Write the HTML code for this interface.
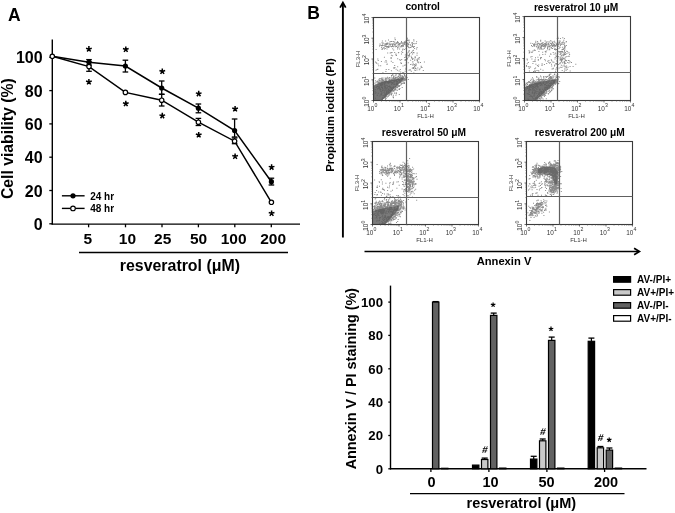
<!DOCTYPE html>
<html><head><meta charset="utf-8"><style>
html,body{margin:0;padding:0;background:#fff;width:675px;height:513px;overflow:hidden}
svg{display:block;font-family:"Liberation Sans", sans-serif;will-change:transform}
</style></head><body>
<svg width="675" height="513" viewBox="0 0 675 513">
<defs><filter id="soft" x="-5%" y="-5%" width="110%" height="110%"><feGaussianBlur stdDeviation="0.35"/></filter></defs>
<rect width="675" height="513" fill="#fff"/>
<text x="8" y="20.7" font-size="17.5" font-weight="bold" text-anchor="start" fill="#000" >A</text>
<line x1="52.3" y1="39.4" x2="52.3" y2="224.6" stroke="#000" stroke-width="1.4"/>
<line x1="51.6" y1="224.1" x2="300" y2="224.1" stroke="#000" stroke-width="1.4"/>
<line x1="49.3" y1="223.8" x2="52.3" y2="223.8" stroke="#000" stroke-width="1.3"/>
<text x="42.6" y="229.9" font-size="16" font-weight="bold" text-anchor="end" fill="#000" >0</text>
<line x1="49.3" y1="190.5" x2="52.3" y2="190.5" stroke="#000" stroke-width="1.3"/>
<text x="42.6" y="196.6" font-size="16" font-weight="bold" text-anchor="end" fill="#000" >20</text>
<line x1="49.3" y1="157.2" x2="52.3" y2="157.2" stroke="#000" stroke-width="1.3"/>
<text x="42.6" y="163.3" font-size="16" font-weight="bold" text-anchor="end" fill="#000" >40</text>
<line x1="49.3" y1="123.9" x2="52.3" y2="123.9" stroke="#000" stroke-width="1.3"/>
<text x="42.6" y="130" font-size="16" font-weight="bold" text-anchor="end" fill="#000" >60</text>
<line x1="49.3" y1="90.6" x2="52.3" y2="90.6" stroke="#000" stroke-width="1.3"/>
<text x="42.6" y="96.7" font-size="16" font-weight="bold" text-anchor="end" fill="#000" >80</text>
<line x1="49.3" y1="57.3" x2="52.3" y2="57.3" stroke="#000" stroke-width="1.3"/>
<text x="42.6" y="63.4" font-size="16" font-weight="bold" text-anchor="end" fill="#000" >100</text>
<line x1="88.6" y1="224" x2="88.6" y2="227.3" stroke="#000" stroke-width="1.3"/>
<text x="87.8" y="244.4" font-size="15.5" font-weight="bold" text-anchor="middle" fill="#000" >5</text>
<line x1="125.5" y1="224" x2="125.5" y2="227.3" stroke="#000" stroke-width="1.3"/>
<text x="127.4" y="244.4" font-size="15.5" font-weight="bold" text-anchor="middle" fill="#000" >10</text>
<line x1="162" y1="224" x2="162" y2="227.3" stroke="#000" stroke-width="1.3"/>
<text x="162.7" y="244.4" font-size="15.5" font-weight="bold" text-anchor="middle" fill="#000" >25</text>
<line x1="198.4" y1="224" x2="198.4" y2="227.3" stroke="#000" stroke-width="1.3"/>
<text x="198.5" y="244.4" font-size="15.5" font-weight="bold" text-anchor="middle" fill="#000" >50</text>
<line x1="234.8" y1="224" x2="234.8" y2="227.3" stroke="#000" stroke-width="1.3"/>
<text x="233.6" y="244.4" font-size="15.5" font-weight="bold" text-anchor="middle" fill="#000" >100</text>
<line x1="271.3" y1="224" x2="271.3" y2="227.3" stroke="#000" stroke-width="1.3"/>
<text x="273.1" y="244.4" font-size="15.5" font-weight="bold" text-anchor="middle" fill="#000" >200</text>
<line x1="79" y1="252.5" x2="288" y2="252.5" stroke="#000" stroke-width="1.4"/>
<text x="179.9" y="270.5" font-size="15.9" font-weight="bold" text-anchor="middle" fill="#000" >resveratrol (μM)</text>
<text x="13" y="138.7" font-size="15.75" font-weight="bold" text-anchor="middle" fill="#000" transform="rotate(-90 13 138.7)">Cell viability (%)</text>
<polyline fill="none" stroke="#000" stroke-width="1.5" points="52.3,56.3 89,62.2 125.4,66 161.7,88 198.4,108.2 234.6,130.5 271.4,181.7"/>
<polyline fill="none" stroke="#000" stroke-width="1.5" points="52.3,56.3 89,66.6 125.4,92.4 161.7,100.2 198.4,122.2 234.6,141.2 271.4,202.3"/>
<line x1="89" y1="59.6" x2="89" y2="65" stroke="#000" stroke-width="1.3"/>
<line x1="86.2" y1="59.6" x2="91.8" y2="59.6" stroke="#000" stroke-width="1.3"/>
<line x1="86.2" y1="65" x2="91.8" y2="65" stroke="#000" stroke-width="1.3"/>
<line x1="125.4" y1="60.2" x2="125.4" y2="72" stroke="#000" stroke-width="1.3"/>
<line x1="122.6" y1="60.2" x2="128.2" y2="60.2" stroke="#000" stroke-width="1.3"/>
<line x1="122.6" y1="72" x2="128.2" y2="72" stroke="#000" stroke-width="1.3"/>
<line x1="161.7" y1="81" x2="161.7" y2="94.3" stroke="#000" stroke-width="1.3"/>
<line x1="158.9" y1="81" x2="164.5" y2="81" stroke="#000" stroke-width="1.3"/>
<line x1="158.9" y1="94.3" x2="164.5" y2="94.3" stroke="#000" stroke-width="1.3"/>
<line x1="198.4" y1="104" x2="198.4" y2="112.8" stroke="#000" stroke-width="1.3"/>
<line x1="195.6" y1="104" x2="201.2" y2="104" stroke="#000" stroke-width="1.3"/>
<line x1="195.6" y1="112.8" x2="201.2" y2="112.8" stroke="#000" stroke-width="1.3"/>
<line x1="234.6" y1="119" x2="234.6" y2="137" stroke="#000" stroke-width="1.3"/>
<line x1="231.8" y1="119" x2="237.4" y2="119" stroke="#000" stroke-width="1.3"/>
<line x1="231.8" y1="137" x2="237.4" y2="137" stroke="#000" stroke-width="1.3"/>
<line x1="271.4" y1="178.2" x2="271.4" y2="185" stroke="#000" stroke-width="1.3"/>
<line x1="268.6" y1="178.2" x2="274.2" y2="178.2" stroke="#000" stroke-width="1.3"/>
<line x1="268.6" y1="185" x2="274.2" y2="185" stroke="#000" stroke-width="1.3"/>
<line x1="89" y1="62" x2="89" y2="71.3" stroke="#000" stroke-width="1.3"/>
<line x1="86.2" y1="62" x2="91.8" y2="62" stroke="#000" stroke-width="1.3"/>
<line x1="86.2" y1="71.3" x2="91.8" y2="71.3" stroke="#000" stroke-width="1.3"/>
<line x1="161.7" y1="94.3" x2="161.7" y2="106" stroke="#000" stroke-width="1.3"/>
<line x1="158.9" y1="94.3" x2="164.5" y2="94.3" stroke="#000" stroke-width="1.3"/>
<line x1="158.9" y1="106" x2="164.5" y2="106" stroke="#000" stroke-width="1.3"/>
<line x1="198.4" y1="118.4" x2="198.4" y2="125.5" stroke="#000" stroke-width="1.3"/>
<line x1="195.6" y1="118.4" x2="201.2" y2="118.4" stroke="#000" stroke-width="1.3"/>
<line x1="195.6" y1="125.5" x2="201.2" y2="125.5" stroke="#000" stroke-width="1.3"/>
<line x1="234.6" y1="138" x2="234.6" y2="143.7" stroke="#000" stroke-width="1.3"/>
<line x1="231.8" y1="138" x2="237.4" y2="138" stroke="#000" stroke-width="1.3"/>
<line x1="231.8" y1="143.7" x2="237.4" y2="143.7" stroke="#000" stroke-width="1.3"/>
<circle cx="89" cy="62.2" r="2.6" fill="#000"/>
<circle cx="125.4" cy="66" r="2.6" fill="#000"/>
<circle cx="161.7" cy="88" r="2.6" fill="#000"/>
<circle cx="198.4" cy="108.2" r="2.6" fill="#000"/>
<circle cx="234.6" cy="130.5" r="2.6" fill="#000"/>
<circle cx="271.4" cy="181.7" r="2.6" fill="#000"/>
<circle cx="52.3" cy="56.3" r="2.2" fill="#fff" stroke="#000" stroke-width="1.2"/>
<circle cx="89" cy="66.6" r="2.2" fill="#fff" stroke="#000" stroke-width="1.2"/>
<circle cx="125.4" cy="92.4" r="2.2" fill="#fff" stroke="#000" stroke-width="1.2"/>
<circle cx="161.7" cy="100.2" r="2.2" fill="#fff" stroke="#000" stroke-width="1.2"/>
<circle cx="198.4" cy="122.2" r="2.2" fill="#fff" stroke="#000" stroke-width="1.2"/>
<circle cx="234.6" cy="141.2" r="2.2" fill="#fff" stroke="#000" stroke-width="1.2"/>
<circle cx="271.4" cy="202.3" r="2.2" fill="#fff" stroke="#000" stroke-width="1.2"/>
<path d="M88.90 49.10L88.90 46.10M88.90 49.10L91.75 48.17M88.90 49.10L86.05 48.17M88.90 49.10L90.66 51.53M88.90 49.10L87.14 51.53" stroke="#000" stroke-width="1.5" stroke-linecap="butt" fill="none"/>
<path d="M88.90 82.00L88.90 79.00M88.90 82.00L91.75 81.07M88.90 82.00L86.05 81.07M88.90 82.00L90.66 84.43M88.90 82.00L87.14 84.43" stroke="#000" stroke-width="1.5" stroke-linecap="butt" fill="none"/>
<path d="M125.80 49.50L125.80 46.50M125.80 49.50L128.65 48.57M125.80 49.50L122.95 48.57M125.80 49.50L127.56 51.93M125.80 49.50L124.04 51.93" stroke="#000" stroke-width="1.5" stroke-linecap="butt" fill="none"/>
<path d="M125.80 103.70L125.80 100.70M125.80 103.70L128.65 102.77M125.80 103.70L122.95 102.77M125.80 103.70L127.56 106.13M125.80 103.70L124.04 106.13" stroke="#000" stroke-width="1.5" stroke-linecap="butt" fill="none"/>
<path d="M162.30 71.50L162.30 68.50M162.30 71.50L165.15 70.57M162.30 71.50L159.45 70.57M162.30 71.50L164.06 73.93M162.30 71.50L160.54 73.93" stroke="#000" stroke-width="1.5" stroke-linecap="butt" fill="none"/>
<path d="M162.30 115.80L162.30 112.80M162.30 115.80L165.15 114.87M162.30 115.80L159.45 114.87M162.30 115.80L164.06 118.23M162.30 115.80L160.54 118.23" stroke="#000" stroke-width="1.5" stroke-linecap="butt" fill="none"/>
<path d="M198.70 93.80L198.70 90.80M198.70 93.80L201.55 92.87M198.70 93.80L195.85 92.87M198.70 93.80L200.46 96.23M198.70 93.80L196.94 96.23" stroke="#000" stroke-width="1.5" stroke-linecap="butt" fill="none"/>
<path d="M198.70 135.00L198.70 132.00M198.70 135.00L201.55 134.07M198.70 135.00L195.85 134.07M198.70 135.00L200.46 137.43M198.70 135.00L196.94 137.43" stroke="#000" stroke-width="1.5" stroke-linecap="butt" fill="none"/>
<path d="M235.10 109.00L235.10 106.00M235.10 109.00L237.95 108.07M235.10 109.00L232.25 108.07M235.10 109.00L236.86 111.43M235.10 109.00L233.34 111.43" stroke="#000" stroke-width="1.5" stroke-linecap="butt" fill="none"/>
<path d="M235.10 156.40L235.10 153.40M235.10 156.40L237.95 155.47M235.10 156.40L232.25 155.47M235.10 156.40L236.86 158.83M235.10 156.40L233.34 158.83" stroke="#000" stroke-width="1.5" stroke-linecap="butt" fill="none"/>
<path d="M271.60 167.30L271.60 164.30M271.60 167.30L274.45 166.37M271.60 167.30L268.75 166.37M271.60 167.30L273.36 169.73M271.60 167.30L269.84 169.73" stroke="#000" stroke-width="1.5" stroke-linecap="butt" fill="none"/>
<path d="M271.60 213.40L271.60 210.40M271.60 213.40L274.45 212.47M271.60 213.40L268.75 212.47M271.60 213.40L273.36 215.83M271.60 213.40L269.84 215.83" stroke="#000" stroke-width="1.5" stroke-linecap="butt" fill="none"/>
<line x1="61.9" y1="195.8" x2="84.6" y2="195.8" stroke="#000" stroke-width="1.4"/>
<circle cx="73" cy="195.8" r="2.6" fill="#000"/>
<line x1="61.9" y1="208.4" x2="84.6" y2="208.4" stroke="#000" stroke-width="1.4"/>
<circle cx="73" cy="208.4" r="2.3" fill="#fff" stroke="#000" stroke-width="1.1"/>
<text x="90.2" y="199.5" font-size="10" font-weight="bold" text-anchor="start" fill="#000" >24 hr</text>
<text x="90.2" y="212.1" font-size="10" font-weight="bold" text-anchor="start" fill="#000" >48 hr</text>
<text x="307.3" y="18.8" font-size="17.5" font-weight="bold" text-anchor="start" fill="#000" >B</text>
<line x1="342.9" y1="237.5" x2="342.9" y2="3" stroke="#000" stroke-width="1.9"/>
<polyline points="340.1,7.6 342.9,2.6 345.7,7.6" fill="none" stroke="#000" stroke-width="1.8" stroke-linejoin="miter"/>
<text x="334" y="115" font-size="11.3" font-weight="bold" text-anchor="middle" fill="#000" transform="rotate(-90 334 115)">Propidium iodide (PI)</text>
<line x1="364.5" y1="251.5" x2="638.7" y2="251.5" stroke="#000" stroke-width="1.6"/>
<polyline points="634.1,248.3 639.4,251.5 634.1,254.7" fill="none" stroke="#000" stroke-width="1.7" stroke-linejoin="miter"/>
<text x="504" y="265.3" font-size="11.2" font-weight="bold" text-anchor="middle" fill="#000" >Annexin V</text>
<text x="422.7" y="9.8" font-size="10.2" font-weight="bold" text-anchor="middle" fill="#000" >control</text>
<g filter="url(#soft)">
<polygon points="373.3,100.3 382,100.3 403,80 404,77.5 395,79.5 383,81.5 373.3,86" fill="#767676"/>
<path d="M379.2 79.9h1v1h-1zM380.3 82.0h1v1h-1zM393.7 77.8h1v1h-1zM375.5 81.8h1v1h-1zM398.2 77.9h1v1h-1zM396.0 83.5h1v1h-1zM401.3 76.9h1v1h-1zM391.3 78.9h1v1h-1zM380.2 82.5h1v1h-1zM379.4 83.2h1v1h-1zM381.1 83.7h1v1h-1zM387.7 80.8h1v1h-1zM397.5 76.2h1v1h-1zM382.0 82.3h1v1h-1zM376.7 86.1h1v1h-1zM396.5 77.4h1v1h-1zM398.4 75.7h1v1h-1zM393.3 76.4h1v1h-1zM388.9 79.6h1v1h-1zM381.6 79.9h1v1h-1zM377.4 81.6h1v1h-1zM393.3 80.3h1v1h-1zM389.5 77.3h1v1h-1zM385.5 80.9h1v1h-1zM374.3 77.6h1v1h-1zM391.2 80.1h1v1h-1zM391.1 79.6h1v1h-1zM390.7 78.5h1v1h-1zM390.9 79.0h1v1h-1zM387.6 83.1h1v1h-1zM404.8 76.5h1v1h-1zM400.1 75.1h1v1h-1zM396.7 77.2h1v1h-1zM389.1 82.1h1v1h-1zM391.5 81.9h1v1h-1zM387.9 81.7h1v1h-1zM389.0 77.6h1v1h-1zM388.6 80.6h1v1h-1zM377.3 80.4h1v1h-1zM398.6 73.7h1v1h-1zM382.6 79.2h1v1h-1zM376.7 83.4h1v1h-1zM396.7 79.0h1v1h-1zM392.5 79.7h1v1h-1zM378.1 82.5h1v1h-1zM381.9 79.5h1v1h-1zM383.4 81.5h1v1h-1zM384.9 81.6h1v1h-1zM378.4 81.6h1v1h-1zM378.5 79.8h1v1h-1zM375.3 84.0h1v1h-1zM396.6 81.2h1v1h-1zM393.5 78.1h1v1h-1zM403.7 73.7h1v1h-1zM380.0 80.4h1v1h-1zM390.5 82.2h1v1h-1zM374.8 89.0h1v1h-1zM399.4 81.1h1v1h-1zM385.1 80.2h1v1h-1zM386.5 81.0h1v1h-1zM402.5 77.9h1v1h-1zM402.2 75.7h1v1h-1zM401.9 76.5h1v1h-1zM388.5 81.3h1v1h-1zM379.6 80.3h1v1h-1zM381.2 84.4h1v1h-1zM381.8 81.6h1v1h-1zM400.3 76.8h1v1h-1zM378.4 88.1h1v1h-1zM397.0 79.0h1v1h-1zM395.7 74.3h1v1h-1zM385.7 79.0h1v1h-1zM389.4 80.0h1v1h-1zM396.4 78.9h1v1h-1zM401.8 80.3h1v1h-1zM392.6 77.4h1v1h-1zM383.6 85.6h1v1h-1zM394.5 77.9h1v1h-1zM377.5 82.6h1v1h-1zM377.3 85.6h1v1h-1zM398.2 75.9h1v1h-1zM392.7 77.0h1v1h-1zM391.2 80.3h1v1h-1zM383.2 80.1h1v1h-1zM400.8 77.1h1v1h-1zM397.7 77.4h1v1h-1zM394.6 79.2h1v1h-1zM401.4 77.3h1v1h-1zM403.1 76.6h1v1h-1zM379.1 86.3h1v1h-1zM378.1 82.0h1v1h-1zM404.0 75.2h1v1h-1zM381.1 82.1h1v1h-1zM393.7 78.9h1v1h-1zM403.0 79.0h1v1h-1zM387.3 81.1h1v1h-1zM404.5 75.6h1v1h-1zM377.7 86.1h1v1h-1zM401.6 75.3h1v1h-1zM393.8 81.4h1v1h-1zM383.2 82.4h1v1h-1zM383.7 81.5h1v1h-1zM391.8 74.7h1v1h-1zM385.3 82.7h1v1h-1zM385.0 77.7h1v1h-1zM382.3 84.0h1v1h-1zM390.6 78.4h1v1h-1zM374.6 84.7h1v1h-1zM391.0 80.0h1v1h-1zM392.5 82.7h1v1h-1zM389.2 79.1h1v1h-1zM389.2 79.1h1v1h-1zM403.4 79.8h1v1h-1zM404.0 74.4h1v1h-1zM374.5 82.7h1v1h-1zM383.3 80.9h1v1h-1zM402.3 77.1h1v1h-1zM402.0 72.3h1v1h-1zM399.2 73.9h1v1h-1zM378.7 83.1h1v1h-1zM395.0 76.8h1v1h-1zM378.1 82.6h1v1h-1zM388.2 78.5h1v1h-1zM386.7 81.6h1v1h-1zM383.4 82.4h1v1h-1zM386.1 80.3h1v1h-1zM385.0 82.0h1v1h-1zM382.3 80.0h1v1h-1zM385.4 79.7h1v1h-1zM391.8 80.1h1v1h-1zM396.0 80.7h1v1h-1zM388.6 82.4h1v1h-1zM393.0 76.8h1v1h-1zM382.0 81.2h1v1h-1zM379.0 78.2h1v1h-1zM382.5 77.5h1v1h-1zM384.6 77.6h1v1h-1zM393.4 75.6h1v1h-1zM402.1 75.7h1v1h-1zM381.8 84.8h1v1h-1zM398.5 79.0h1v1h-1zM394.7 80.4h1v1h-1zM378.9 82.1h1v1h-1zM404.0 73.3h1v1h-1zM384.6 79.0h1v1h-1zM378.5 78.7h1v1h-1zM393.4 76.4h1v1h-1zM402.9 76.2h1v1h-1zM397.4 78.1h1v1h-1zM385.6 84.8h1v1h-1zM404.0 78.4h1v1h-1zM387.0 82.0h1v1h-1zM381.4 81.8h1v1h-1zM379.5 82.7h1v1h-1zM391.0 76.4h1v1h-1zM379.9 85.0h1v1h-1zM381.4 81.0h1v1h-1zM395.1 74.7h1v1h-1zM401.9 75.5h1v1h-1zM399.9 74.3h1v1h-1zM385.4 82.0h1v1h-1zM399.7 80.0h1v1h-1zM392.3 78.8h1v1h-1zM404.1 78.2h1v1h-1zM390.6 81.8h1v1h-1zM384.7 81.1h1v1h-1zM386.3 81.0h1v1h-1zM386.4 77.5h1v1h-1zM388.1 78.3h1v1h-1zM381.1 82.4h1v1h-1zM393.6 76.4h1v1h-1zM390.7 79.7h1v1h-1zM397.4 79.3h1v1h-1zM403.4 77.4h1v1h-1zM391.5 78.6h1v1h-1zM387.2 78.5h1v1h-1zM397.6 75.9h1v1h-1zM388.7 76.9h1v1h-1zM392.6 77.2h1v1h-1zM391.0 75.1h1v1h-1zM398.6 74.6h1v1h-1zM397.6 76.2h1v1h-1zM381.3 77.6h1v1h-1zM391.6 83.0h1v1h-1zM388.2 80.3h1v1h-1zM389.3 77.6h1v1h-1zM384.5 80.8h1v1h-1zM390.9 78.8h1v1h-1zM385.4 78.0h1v1h-1zM380.9 86.8h1v1h-1zM384.1 83.7h1v1h-1zM388.7 81.8h1v1h-1zM397.0 80.9h1v1h-1zM395.8 76.7h1v1h-1zM392.5 81.9h1v1h-1zM379.8 78.3h1v1h-1zM384.4 86.9h1v1h-1zM395.4 77.9h1v1h-1zM400.2 75.5h1v1h-1zM387.1 76.7h1v1h-1zM379.2 81.5h1v1h-1zM400.7 77.9h1v1h-1zM395.1 77.1h1v1h-1zM390.2 80.7h1v1h-1zM394.2 81.1h1v1h-1zM380.8 78.6h1v1h-1zM384.1 82.9h1v1h-1zM389.4 80.9h1v1h-1zM382.3 83.0h1v1h-1zM400.1 76.8h1v1h-1zM384.6 80.3h1v1h-1zM395.8 79.7h1v1h-1zM388.3 81.0h1v1h-1zM381.5 79.9h1v1h-1zM391.8 82.7h1v1h-1zM381.7 78.7h1v1h-1zM405.9 77.2h1v1h-1zM399.2 79.1h1v1h-1zM392.5 78.3h1v1h-1zM400.4 75.7h1v1h-1zM402.1 76.8h1v1h-1zM395.0 79.4h1v1h-1zM375.7 83.9h1v1h-1zM401.6 76.9h1v1h-1zM400.1 77.7h1v1h-1zM377.8 83.3h1v1h-1zM393.1 75.5h1v1h-1zM398.7 75.4h1v1h-1zM394.6 78.4h1v1h-1zM383.9 84.0h1v1h-1zM390.8 81.7h1v1h-1zM390.4 79.4h1v1h-1zM383.9 81.9h1v1h-1zM398.8 78.4h1v1h-1zM395.3 74.8h1v1h-1zM396.5 84.0h1v1h-1zM380.6 80.7h1v1h-1zM400.1 77.5h1v1h-1zM397.3 77.9h1v1h-1zM405.0 76.8h1v1h-1zM388.1 82.0h1v1h-1zM395.4 78.0h1v1h-1zM391.6 81.9h1v1h-1zM377.7 83.8h1v1h-1zM395.7 79.2h1v1h-1zM398.7 73.6h1v1h-1zM382.3 82.3h1v1h-1zM390.2 81.3h1v1h-1zM399.0 76.9h1v1h-1zM376.4 81.2h1v1h-1zM403.2 72.0h1v1h-1zM392.5 77.3h1v1h-1zM398.8 78.6h1v1h-1zM384.6 80.9h1v1h-1zM384.0 80.9h1v1h-1zM397.8 75.9h1v1h-1zM387.3 94.6h1v1h-1zM397.0 83.5h1v1h-1zM385.8 96.0h1v1h-1zM392.9 94.7h1v1h-1zM395.6 87.5h1v1h-1zM405.7 75.3h1v1h-1zM403.4 78.9h1v1h-1zM389.1 86.2h1v1h-1zM399.0 80.2h1v1h-1zM391.8 91.2h1v1h-1zM386.3 92.1h1v1h-1zM394.2 89.1h1v1h-1zM394.3 83.5h1v1h-1zM383.2 97.3h1v1h-1zM388.4 94.9h1v1h-1zM395.5 86.0h1v1h-1zM384.1 96.5h1v1h-1zM385.4 95.9h1v1h-1zM391.3 89.8h1v1h-1zM389.5 92.4h1v1h-1zM403.1 79.9h1v1h-1zM393.5 84.1h1v1h-1zM399.7 79.5h1v1h-1zM404.9 79.1h1v1h-1zM399.2 81.7h1v1h-1zM390.0 91.2h1v1h-1zM399.7 82.3h1v1h-1zM400.4 81.5h1v1h-1zM388.1 93.3h1v1h-1zM400.9 83.2h1v1h-1zM392.9 86.8h1v1h-1zM395.7 84.5h1v1h-1zM389.9 90.0h1v1h-1zM386.1 93.3h1v1h-1zM395.1 87.8h1v1h-1zM398.9 85.9h1v1h-1zM393.5 88.7h1v1h-1zM405.4 77.9h1v1h-1zM405.3 78.8h1v1h-1zM387.4 92.2h1v1h-1zM389.9 90.0h1v1h-1zM388.3 92.8h1v1h-1zM389.2 92.4h1v1h-1zM384.9 99.4h1v1h-1zM393.9 92.5h1v1h-1zM384.6 94.1h1v1h-1zM395.1 85.9h1v1h-1zM392.3 87.5h1v1h-1zM404.2 77.9h1v1h-1zM385.2 96.9h1v1h-1zM401.8 80.6h1v1h-1zM402.9 82.8h1v1h-1zM403.0 77.5h1v1h-1zM393.3 91.0h1v1h-1zM381.9 97.2h1v1h-1zM398.0 86.1h1v1h-1zM384.9 94.2h1v1h-1zM402.1 78.8h1v1h-1zM384.6 93.4h1v1h-1zM384.2 96.8h1v1h-1zM391.2 90.9h1v1h-1zM390.6 90.2h1v1h-1zM404.4 80.0h1v1h-1zM401.4 80.0h1v1h-1zM398.3 84.9h1v1h-1zM404.5 79.4h1v1h-1zM391.5 89.1h1v1h-1zM401.4 82.7h1v1h-1zM397.2 84.9h1v1h-1zM383.7 94.9h1v1h-1zM401.9 78.4h1v1h-1zM383.5 97.4h1v1h-1zM397.6 85.8h1v1h-1zM388.4 92.2h1v1h-1zM396.9 89.7h1v1h-1zM397.1 84.6h1v1h-1zM388.0 90.7h1v1h-1zM401.6 81.3h1v1h-1zM392.4 89.9h1v1h-1zM384.3 97.6h1v1h-1zM393.3 86.2h1v1h-1zM397.6 86.0h1v1h-1zM395.9 86.4h1v1h-1zM396.8 87.0h1v1h-1zM398.8 84.9h1v1h-1zM395.1 86.7h1v1h-1zM389.7 93.7h1v1h-1zM399.3 82.6h1v1h-1zM382.7 97.6h1v1h-1zM388.5 93.5h1v1h-1zM402.6 78.5h1v1h-1zM397.0 87.0h1v1h-1zM390.1 92.4h1v1h-1zM398.3 79.9h1v1h-1zM396.7 85.5h1v1h-1zM395.9 83.7h1v1h-1zM393.0 87.2h1v1h-1zM401.2 78.7h1v1h-1zM381.3 98.8h1v1h-1zM384.3 96.1h1v1h-1zM386.8 96.4h1v1h-1zM391.7 90.0h1v1h-1zM388.8 90.1h1v1h-1zM395.5 85.9h1v1h-1zM398.8 85.2h1v1h-1zM399.4 87.9h1v1h-1zM385.2 96.1h1v1h-1zM402.0 80.3h1v1h-1zM404.0 83.1h1v1h-1zM389.4 91.9h1v1h-1zM395.1 89.1h1v1h-1zM400.0 82.3h1v1h-1zM405.9 77.9h1v1h-1zM387.0 90.4h1v1h-1zM392.4 87.8h1v1h-1zM392.6 90.0h1v1h-1zM397.2 87.3h1v1h-1zM381.9 99.1h1v1h-1zM392.4 89.8h1v1h-1zM406.6 77.1h1v1h-1zM400.8 81.3h1v1h-1zM400.5 84.3h1v1h-1zM391.1 94.5h1v1h-1zM401.7 82.9h1v1h-1zM386.4 88.0h1v1h-1zM401.1 83.6h1v1h-1zM389.2 94.6h1v1h-1zM390.9 88.1h1v1h-1zM395.7 89.4h1v1h-1zM403.5 82.4h1v1h-1zM391.3 91.4h1v1h-1zM407.8 79.0h1v1h-1zM390.7 90.7h1v1h-1zM399.4 85.1h1v1h-1zM402.7 76.3h1v1h-1zM390.2 90.2h1v1h-1zM399.4 82.0h1v1h-1zM389.6 89.8h1v1h-1zM403.7 78.8h1v1h-1zM390.3 92.0h1v1h-1zM397.4 84.1h1v1h-1zM387.7 96.1h1v1h-1zM405.3 79.4h1v1h-1zM395.9 82.5h1v1h-1zM393.8 88.3h1v1h-1zM403.8 81.9h1v1h-1zM396.2 86.4h1v1h-1zM403.3 81.3h1v1h-1zM383.6 95.2h1v1h-1zM392.3 87.0h1v1h-1zM397.6 81.7h1v1h-1zM384.4 87.8h1v1h-1zM395.9 93.3h1v1h-1zM376.1 86.6h1v1h-1zM388.2 88.5h1v1h-1zM379.4 88.8h1v1h-1zM374.8 92.8h1v1h-1zM393.6 83.8h1v1h-1zM380.1 90.8h1v1h-1zM385.8 93.5h1v1h-1zM385.6 98.0h1v1h-1zM386.0 94.5h1v1h-1zM393.2 81.5h1v1h-1zM388.2 90.9h1v1h-1zM377.7 92.8h1v1h-1zM385.9 91.2h1v1h-1zM383.0 98.0h1v1h-1zM387.4 93.9h1v1h-1zM386.8 85.3h1v1h-1zM385.2 95.8h1v1h-1zM376.9 88.2h1v1h-1zM384.3 93.6h1v1h-1zM391.1 93.3h1v1h-1zM376.8 94.7h1v1h-1zM384.0 86.3h1v1h-1zM385.6 93.6h1v1h-1zM378.4 86.8h1v1h-1zM382.0 97.9h1v1h-1zM380.6 83.3h1v1h-1zM388.9 92.9h1v1h-1zM386.1 77.8h1v1h-1zM395.4 94.7h1v1h-1zM387.8 92.1h1v1h-1zM393.0 96.5h1v1h-1zM391.2 84.1h1v1h-1zM398.8 94.1h1v1h-1zM382.6 89.5h1v1h-1zM379.4 84.7h1v1h-1zM381.7 86.5h1v1h-1zM382.4 78.8h1v1h-1zM393.1 78.7h1v1h-1zM386.9 90.4h1v1h-1zM378.2 87.5h1v1h-1zM384.7 89.3h1v1h-1zM382.0 84.0h1v1h-1zM395.3 86.9h1v1h-1zM393.6 90.0h1v1h-1zM390.3 87.3h1v1h-1zM394.9 86.2h1v1h-1zM384.0 90.6h1v1h-1zM385.1 98.4h1v1h-1zM386.4 91.0h1v1h-1zM397.4 83.7h1v1h-1zM397.6 78.8h1v1h-1zM379.4 95.4h1v1h-1zM390.2 86.5h1v1h-1zM388.0 88.9h1v1h-1zM385.6 91.4h1v1h-1zM389.2 85.6h1v1h-1zM394.3 79.9h1v1h-1zM392.1 89.1h1v1h-1zM391.5 93.1h1v1h-1zM379.0 87.4h1v1h-1zM375.6 87.0h1v1h-1zM379.6 89.5h1v1h-1zM386.4 90.3h1v1h-1zM394.2 88.4h1v1h-1zM381.4 92.4h1v1h-1zM392.3 74.1h1v1h-1zM391.0 87.4h1v1h-1zM386.5 88.3h1v1h-1zM385.0 87.5h1v1h-1zM382.0 88.1h1v1h-1zM375.0 97.7h1v1h-1zM381.2 93.4h1v1h-1zM384.3 84.8h1v1h-1zM401.7 86.9h1v1h-1zM395.8 92.3h1v1h-1zM382.3 88.1h1v1h-1zM381.3 78.9h1v1h-1zM380.5 94.4h1v1h-1zM380.9 91.3h1v1h-1zM389.6 91.6h1v1h-1zM391.0 94.0h1v1h-1zM389.5 87.5h1v1h-1zM380.0 89.3h1v1h-1zM398.4 88.8h1v1h-1zM394.5 89.4h1v1h-1zM377.2 88.6h1v1h-1zM386.6 92.9h1v1h-1zM381.4 92.6h1v1h-1zM389.1 91.7h1v1h-1zM382.5 89.3h1v1h-1zM381.0 94.2h1v1h-1zM393.4 87.1h1v1h-1zM388.1 90.2h1v1h-1zM380.7 80.5h1v1h-1zM397.2 82.5h1v1h-1zM380.3 88.9h1v1h-1zM379.8 84.1h1v1h-1zM374.7 90.8h1v1h-1zM382.2 87.7h1v1h-1zM388.1 86.0h1v1h-1zM380.0 88.4h1v1h-1zM387.0 86.8h1v1h-1zM380.3 78.3h1v1h-1zM385.5 85.1h1v1h-1zM380.8 85.5h1v1h-1zM399.0 88.9h1v1h-1zM389.5 89.3h1v1h-1zM374.3 84.7h1v1h-1zM392.9 90.3h1v1h-1zM384.6 89.3h1v1h-1zM392.5 96.4h1v1h-1zM380.8 86.9h1v1h-1zM375.5 92.3h1v1h-1zM385.5 87.6h1v1h-1zM385.3 87.0h1v1h-1zM384.8 86.0h1v1h-1zM383.6 92.0h1v1h-1zM394.4 77.7h1v1h-1zM384.4 87.9h1v1h-1zM382.5 95.2h1v1h-1zM385.0 94.9h1v1h-1zM384.8 89.8h1v1h-1zM392.3 79.9h1v1h-1zM394.3 92.8h1v1h-1zM384.4 93.2h1v1h-1zM393.0 97.2h1v1h-1zM394.9 88.2h1v1h-1zM375.1 80.2h1v1h-1zM382.5 90.2h1v1h-1zM382.3 89.4h1v1h-1zM380.5 93.6h1v1h-1zM386.0 92.5h1v1h-1zM382.0 87.2h1v1h-1zM381.8 90.2h1v1h-1zM386.3 89.5h1v1h-1zM397.7 42.3h1v1h-1zM386.2 43.8h1v1h-1zM402.3 42.8h1v1h-1zM402.9 44.2h1v1h-1zM387.3 46.6h1v1h-1zM393.1 40.9h1v1h-1zM384.8 47.9h1v1h-1zM386.6 43.2h1v1h-1zM386.5 45.9h1v1h-1zM392.0 44.6h1v1h-1zM388.0 46.2h1v1h-1zM394.4 41.8h1v1h-1zM398.0 42.2h1v1h-1zM392.2 48.2h1v1h-1zM405.5 42.0h1v1h-1zM386.4 46.1h1v1h-1zM400.7 42.6h1v1h-1zM405.2 41.5h1v1h-1zM392.0 45.8h1v1h-1zM394.0 44.2h1v1h-1zM382.6 42.5h1v1h-1zM400.5 45.8h1v1h-1zM397.7 44.5h1v1h-1zM397.1 47.0h1v1h-1zM386.3 42.8h1v1h-1zM389.2 42.7h1v1h-1zM406.1 40.8h1v1h-1zM383.5 46.9h1v1h-1zM406.5 42.1h1v1h-1zM392.0 43.5h1v1h-1zM405.3 40.6h1v1h-1zM396.6 42.1h1v1h-1zM384.5 44.2h1v1h-1zM385.1 40.5h1v1h-1zM386.5 48.6h1v1h-1zM388.3 45.4h1v1h-1zM384.5 43.2h1v1h-1zM381.8 45.2h1v1h-1zM391.2 43.4h1v1h-1zM386.3 46.7h1v1h-1zM401.3 42.4h1v1h-1zM392.3 45.8h1v1h-1zM394.3 44.3h1v1h-1zM389.7 44.5h1v1h-1zM386.4 43.1h1v1h-1zM387.2 46.1h1v1h-1zM381.0 46.8h1v1h-1zM399.1 43.1h1v1h-1zM398.2 45.8h1v1h-1zM397.1 41.1h1v1h-1zM407.9 43.7h1v1h-1zM394.0 44.2h1v1h-1zM389.8 43.7h1v1h-1zM381.7 47.7h1v1h-1zM397.8 43.9h1v1h-1zM402.6 42.5h1v1h-1zM392.3 44.4h1v1h-1zM398.3 43.5h1v1h-1zM385.1 46.0h1v1h-1zM402.7 45.5h1v1h-1zM394.9 43.5h1v1h-1zM399.0 44.6h1v1h-1zM405.4 45.6h1v1h-1zM396.2 42.7h1v1h-1zM396.2 42.2h1v1h-1zM388.7 45.8h1v1h-1zM396.8 42.4h1v1h-1zM394.7 39.0h1v1h-1zM387.2 42.6h1v1h-1zM402.0 44.4h1v1h-1zM394.8 39.3h1v1h-1zM400.0 42.7h1v1h-1zM379.5 43.6h1v1h-1zM401.3 46.3h1v1h-1zM381.9 40.4h1v1h-1zM391.5 41.1h1v1h-1zM391.0 46.1h1v1h-1zM391.1 46.2h1v1h-1zM404.5 42.9h1v1h-1zM407.0 45.8h1v1h-1zM381.5 49.0h1v1h-1zM381.5 42.3h1v1h-1zM407.4 43.5h1v1h-1zM389.2 44.1h1v1h-1zM387.5 42.7h1v1h-1zM387.5 43.4h1v1h-1zM392.0 43.6h1v1h-1zM398.9 43.1h1v1h-1zM401.3 45.0h1v1h-1zM381.9 44.4h1v1h-1zM389.5 41.2h1v1h-1zM394.5 45.4h1v1h-1zM392.8 43.4h1v1h-1zM401.0 45.0h1v1h-1zM393.2 46.2h1v1h-1zM404.1 44.0h1v1h-1zM404.9 44.2h1v1h-1zM404.9 42.2h1v1h-1zM397.6 47.3h1v1h-1zM395.6 43.2h1v1h-1zM405.5 47.8h1v1h-1zM393.0 43.4h1v1h-1zM379.0 45.5h1v1h-1zM392.2 44.0h1v1h-1zM392.3 46.0h1v1h-1zM399.4 43.9h1v1h-1zM386.8 43.8h1v1h-1zM387.2 42.9h1v1h-1zM393.3 43.3h1v1h-1zM384.5 44.8h1v1h-1zM390.2 45.7h1v1h-1zM379.7 44.7h1v1h-1zM399.6 46.5h1v1h-1zM389.2 42.8h1v1h-1zM392.2 44.8h1v1h-1zM393.7 43.5h1v1h-1zM404.3 42.8h1v1h-1zM397.3 42.0h1v1h-1zM394.7 44.5h1v1h-1zM390.2 43.8h1v1h-1zM387.9 47.1h1v1h-1zM388.0 39.6h1v1h-1zM399.1 48.4h1v1h-1zM388.7 46.4h1v1h-1zM396.0 45.9h1v1h-1zM402.9 45.2h1v1h-1zM390.6 41.0h1v1h-1zM383.1 47.4h1v1h-1zM403.9 41.2h1v1h-1zM402.9 44.5h1v1h-1zM395.1 46.2h1v1h-1zM386.1 45.8h1v1h-1zM382.7 45.1h1v1h-1zM394.4 37.5h1v1h-1zM401.6 45.6h1v1h-1zM393.6 41.4h1v1h-1zM407.3 43.0h1v1h-1zM386.0 44.1h1v1h-1zM407.6 45.5h1v1h-1zM385.3 45.8h1v1h-1zM401.3 41.9h1v1h-1zM384.0 45.4h1v1h-1zM385.4 44.3h1v1h-1zM406.6 45.0h1v1h-1zM396.6 45.6h1v1h-1zM385.7 43.1h1v1h-1zM380.9 44.9h1v1h-1zM403.9 42.1h1v1h-1zM406.9 43.7h1v1h-1zM382.5 43.2h1v1h-1zM416.5 59.2h1v1h-1zM408.1 44.1h1v1h-1zM418.2 61.4h1v1h-1zM411.8 58.1h1v1h-1zM407.3 55.2h1v1h-1zM408.1 55.1h1v1h-1zM412.9 47.1h1v1h-1zM407.0 37.7h1v1h-1zM411.5 58.1h1v1h-1zM414.1 64.1h1v1h-1zM412.5 49.9h1v1h-1zM412.2 61.6h1v1h-1zM415.4 63.3h1v1h-1zM403.4 42.7h1v1h-1zM408.9 54.3h1v1h-1zM414.2 69.5h1v1h-1zM412.1 53.6h1v1h-1zM408.7 47.2h1v1h-1zM415.7 43.0h1v1h-1zM410.8 70.8h1v1h-1zM416.7 60.2h1v1h-1zM418.4 58.7h1v1h-1zM404.8 59.9h1v1h-1zM405.7 56.4h1v1h-1zM416.5 54.8h1v1h-1zM413.0 67.0h1v1h-1zM411.2 42.4h1v1h-1zM417.0 61.5h1v1h-1zM414.8 69.9h1v1h-1zM408.1 56.6h1v1h-1zM416.6 52.8h1v1h-1zM407.5 46.1h1v1h-1zM414.1 48.0h1v1h-1zM409.9 69.6h1v1h-1zM413.5 52.2h1v1h-1zM409.5 52.7h1v1h-1zM408.4 51.0h1v1h-1zM407.8 62.3h1v1h-1zM407.0 58.5h1v1h-1zM412.9 49.8h1v1h-1zM420.7 65.7h1v1h-1zM414.3 43.3h1v1h-1zM411.6 57.6h1v1h-1zM422.8 69.9h1v1h-1zM410.6 46.8h1v1h-1zM420.0 62.1h1v1h-1zM412.9 52.0h1v1h-1zM408.8 42.1h1v1h-1zM416.6 46.9h1v1h-1zM417.0 59.9h1v1h-1zM408.7 54.7h1v1h-1zM409.4 69.2h1v1h-1zM407.1 53.5h1v1h-1zM412.0 46.1h1v1h-1zM406.0 40.4h1v1h-1zM414.9 65.0h1v1h-1zM417.3 67.5h1v1h-1zM410.2 59.8h1v1h-1zM407.1 43.0h1v1h-1zM413.3 72.6h1v1h-1zM406.6 39.1h1v1h-1zM405.1 56.4h1v1h-1zM410.2 44.8h1v1h-1zM414.7 56.3h1v1h-1zM411.8 67.7h1v1h-1zM421.5 67.0h1v1h-1zM413.9 45.9h1v1h-1zM413.0 67.9h1v1h-1zM406.5 39.9h1v1h-1zM416.9 58.5h1v1h-1zM414.4 66.8h1v1h-1zM411.9 44.8h1v1h-1zM420.7 66.7h1v1h-1zM412.4 61.2h1v1h-1zM405.9 64.6h1v1h-1zM413.4 40.6h1v1h-1zM413.0 63.5h1v1h-1zM414.5 56.8h1v1h-1zM414.1 59.8h1v1h-1zM405.8 55.7h1v1h-1zM407.6 52.0h1v1h-1zM406.7 57.5h1v1h-1zM412.2 46.0h1v1h-1zM411.0 56.9h1v1h-1zM408.0 46.8h1v1h-1zM419.5 68.2h1v1h-1zM408.4 39.5h1v1h-1zM415.4 67.9h1v1h-1zM418.8 57.1h1v1h-1zM411.7 51.2h1v1h-1zM405.0 68.5h1v1h-1zM407.3 40.1h1v1h-1zM418.2 62.3h1v1h-1zM414.1 66.0h1v1h-1zM412.4 64.8h1v1h-1zM414.4 59.5h1v1h-1zM412.0 59.0h1v1h-1zM412.7 42.9h1v1h-1zM405.4 48.3h1v1h-1zM415.6 64.1h1v1h-1zM414.9 57.2h1v1h-1zM418.3 57.8h1v1h-1zM408.5 69.8h1v1h-1zM412.5 67.2h1v1h-1zM401.0 40.9h1v1h-1zM415.5 65.3h1v1h-1zM409.8 46.9h1v1h-1zM401.6 42.8h1v1h-1zM411.6 63.8h1v1h-1zM414.7 68.1h1v1h-1zM411.8 42.0h1v1h-1zM411.9 53.5h1v1h-1zM413.3 52.2h1v1h-1zM412.1 43.4h1v1h-1zM411.0 52.0h1v1h-1zM413.3 39.3h1v1h-1zM413.3 58.3h1v1h-1zM403.4 42.4h1v1h-1zM408.7 49.9h1v1h-1zM416.1 41.2h1v1h-1zM416.4 69.6h1v1h-1zM410.7 55.7h1v1h-1zM415.1 67.9h1v1h-1zM410.1 64.0h1v1h-1zM423.9 61.4h1v1h-1zM409.8 44.2h1v1h-1zM414.5 65.0h1v1h-1zM412.0 44.3h1v1h-1zM418.8 69.3h1v1h-1zM413.4 46.0h1v1h-1zM402.7 46.1h1v1h-1zM409.0 55.4h1v1h-1zM406.1 45.8h1v1h-1zM414.6 67.7h1v1h-1zM408.2 43.5h1v1h-1zM416.1 48.6h1v1h-1zM416.6 52.4h1v1h-1zM408.6 40.5h1v1h-1zM409.0 53.8h1v1h-1zM411.4 45.7h1v1h-1zM404.7 70.7h1v1h-1zM375.7 62.2h1v1h-1zM380.9 61.0h1v1h-1zM391.5 52.1h1v1h-1zM377.7 60.0h1v1h-1zM376.6 69.0h1v1h-1zM402.5 48.4h1v1h-1zM399.8 69.0h1v1h-1zM376.2 62.7h1v1h-1zM389.7 52.4h1v1h-1zM400.4 62.2h1v1h-1zM400.2 71.4h1v1h-1zM405.1 64.6h1v1h-1zM402.1 49.6h1v1h-1zM385.5 59.9h1v1h-1zM390.9 57.2h1v1h-1zM400.3 62.6h1v1h-1zM401.2 59.1h1v1h-1zM404.2 56.9h1v1h-1zM405.8 62.2h1v1h-1zM386.7 63.5h1v1h-1zM378.3 65.2h1v1h-1zM393.6 68.1h1v1h-1zM377.3 58.5h1v1h-1zM393.2 49.5h1v1h-1zM398.6 70.5h1v1h-1zM394.4 67.1h1v1h-1zM404.3 59.4h1v1h-1zM390.9 70.2h1v1h-1zM396.0 54.9h1v1h-1zM393.3 67.2h1v1h-1zM401.2 51.2h1v1h-1zM380.2 65.2h1v1h-1zM397.2 66.2h1v1h-1zM390.2 57.6h1v1h-1zM404.8 54.4h1v1h-1zM383.9 48.6h1v1h-1zM377.6 63.6h1v1h-1zM395.5 53.5h1v1h-1zM397.9 52.3h1v1h-1zM386.5 63.9h1v1h-1zM399.1 59.3h1v1h-1zM400.1 59.8h1v1h-1zM395.6 68.8h1v1h-1zM392.4 62.1h1v1h-1zM403.9 48.9h1v1h-1zM375.6 48.9h1v1h-1zM384.6 61.4h1v1h-1zM394.2 65.0h1v1h-1zM375.5 69.8h1v1h-1zM382.4 72.2h1v1h-1zM385.7 69.1h1v1h-1zM397.1 48.6h1v1h-1zM390.9 57.8h1v1h-1zM405.8 53.8h1v1h-1zM387.2 52.4h1v1h-1zM375.1 61.5h1v1h-1zM394.2 52.1h1v1h-1zM401.0 53.6h1v1h-1zM404.1 64.8h1v1h-1zM405.1 58.9h1v1h-1zM401.0 63.1h1v1h-1zM397.2 58.3h1v1h-1zM390.9 54.8h1v1h-1zM385.4 71.1h1v1h-1zM377.4 68.8h1v1h-1zM398.2 52.1h1v1h-1zM388.3 68.9h1v1h-1zM390.8 60.7h1v1h-1zM390.6 52.3h1v1h-1zM405.7 66.7h1v1h-1zM383.9 56.7h1v1h-1zM396.9 69.8h1v1h-1zM392.1 55.2h1v1h-1zM386.1 61.6h1v1h-1zM402.5 65.6h1v1h-1zM382.0 48.5h1v1h-1zM395.4 54.6h1v1h-1zM402.2 52.0h1v1h-1zM405.9 68.0h1v1h-1z" fill="#5a5a5a" fill-opacity="0.7"/>
</g>
<rect x="373.5" y="17.5" width="106" height="83" fill="none" stroke="#3a3a3a" stroke-width="1.1"/>
<line x1="406.5" y1="17.5" x2="406.5" y2="100.5" stroke="#606060" stroke-width="1.2"/>
<line x1="373.5" y1="73.5" x2="479.5" y2="73.5" stroke="#606060" stroke-width="1.2"/>
<line x1="373.5" y1="100.5" x2="373.5" y2="102.5" stroke="#333" stroke-width="0.7"/>
<line x1="371.5" y1="100.5" x2="373.5" y2="100.5" stroke="#333" stroke-width="0.7"/>
<line x1="381.5" y1="100.5" x2="381.5" y2="101.7" stroke="#555" stroke-width="0.5"/>
<line x1="372.3" y1="94.3" x2="373.5" y2="94.3" stroke="#555" stroke-width="0.5"/>
<line x1="386.1" y1="100.5" x2="386.1" y2="101.7" stroke="#555" stroke-width="0.5"/>
<line x1="372.3" y1="90.6" x2="373.5" y2="90.6" stroke="#555" stroke-width="0.5"/>
<line x1="389.5" y1="100.5" x2="389.5" y2="101.7" stroke="#555" stroke-width="0.5"/>
<line x1="372.3" y1="88" x2="373.5" y2="88" stroke="#555" stroke-width="0.5"/>
<line x1="392" y1="100.5" x2="392" y2="101.7" stroke="#555" stroke-width="0.5"/>
<line x1="372.3" y1="86" x2="373.5" y2="86" stroke="#555" stroke-width="0.5"/>
<line x1="394.1" y1="100.5" x2="394.1" y2="101.7" stroke="#555" stroke-width="0.5"/>
<line x1="372.3" y1="84.4" x2="373.5" y2="84.4" stroke="#555" stroke-width="0.5"/>
<line x1="395.9" y1="100.5" x2="395.9" y2="101.7" stroke="#555" stroke-width="0.5"/>
<line x1="372.3" y1="83" x2="373.5" y2="83" stroke="#555" stroke-width="0.5"/>
<line x1="397.4" y1="100.5" x2="397.4" y2="101.7" stroke="#555" stroke-width="0.5"/>
<line x1="372.3" y1="81.8" x2="373.5" y2="81.8" stroke="#555" stroke-width="0.5"/>
<line x1="398.8" y1="100.5" x2="398.8" y2="101.7" stroke="#555" stroke-width="0.5"/>
<line x1="372.3" y1="80.7" x2="373.5" y2="80.7" stroke="#555" stroke-width="0.5"/>
<text x="372.3" y="110.7" font-size="6.4" fill="#333" text-anchor="middle">10<tspan dy="-3.3" font-size="5.2">0</tspan></text>
<text transform="rotate(-90 368.9 101.7)" x="368.9" y="101.7" font-size="6.4" fill="#333" text-anchor="middle">10<tspan dy="-3.3" font-size="5.2">0</tspan></text>
<line x1="400" y1="100.5" x2="400" y2="102.5" stroke="#333" stroke-width="0.7"/>
<line x1="371.5" y1="79.8" x2="373.5" y2="79.8" stroke="#333" stroke-width="0.7"/>
<line x1="408" y1="100.5" x2="408" y2="101.7" stroke="#555" stroke-width="0.5"/>
<line x1="372.3" y1="73.5" x2="373.5" y2="73.5" stroke="#555" stroke-width="0.5"/>
<line x1="412.6" y1="100.5" x2="412.6" y2="101.7" stroke="#555" stroke-width="0.5"/>
<line x1="372.3" y1="69.8" x2="373.5" y2="69.8" stroke="#555" stroke-width="0.5"/>
<line x1="416" y1="100.5" x2="416" y2="101.7" stroke="#555" stroke-width="0.5"/>
<line x1="372.3" y1="67.3" x2="373.5" y2="67.3" stroke="#555" stroke-width="0.5"/>
<line x1="418.5" y1="100.5" x2="418.5" y2="101.7" stroke="#555" stroke-width="0.5"/>
<line x1="372.3" y1="65.2" x2="373.5" y2="65.2" stroke="#555" stroke-width="0.5"/>
<line x1="420.6" y1="100.5" x2="420.6" y2="101.7" stroke="#555" stroke-width="0.5"/>
<line x1="372.3" y1="63.6" x2="373.5" y2="63.6" stroke="#555" stroke-width="0.5"/>
<line x1="422.4" y1="100.5" x2="422.4" y2="101.7" stroke="#555" stroke-width="0.5"/>
<line x1="372.3" y1="62.2" x2="373.5" y2="62.2" stroke="#555" stroke-width="0.5"/>
<line x1="423.9" y1="100.5" x2="423.9" y2="101.7" stroke="#555" stroke-width="0.5"/>
<line x1="372.3" y1="61" x2="373.5" y2="61" stroke="#555" stroke-width="0.5"/>
<line x1="425.3" y1="100.5" x2="425.3" y2="101.7" stroke="#555" stroke-width="0.5"/>
<line x1="372.3" y1="59.9" x2="373.5" y2="59.9" stroke="#555" stroke-width="0.5"/>
<text x="398.8" y="110.7" font-size="6.4" fill="#333" text-anchor="middle">10<tspan dy="-3.3" font-size="5.2">1</tspan></text>
<text transform="rotate(-90 368.9 81)" x="368.9" y="81" font-size="6.4" fill="#333" text-anchor="middle">10<tspan dy="-3.3" font-size="5.2">1</tspan></text>
<line x1="426.5" y1="100.5" x2="426.5" y2="102.5" stroke="#333" stroke-width="0.7"/>
<line x1="371.5" y1="59" x2="373.5" y2="59" stroke="#333" stroke-width="0.7"/>
<line x1="434.5" y1="100.5" x2="434.5" y2="101.7" stroke="#555" stroke-width="0.5"/>
<line x1="372.3" y1="52.8" x2="373.5" y2="52.8" stroke="#555" stroke-width="0.5"/>
<line x1="439.1" y1="100.5" x2="439.1" y2="101.7" stroke="#555" stroke-width="0.5"/>
<line x1="372.3" y1="49.1" x2="373.5" y2="49.1" stroke="#555" stroke-width="0.5"/>
<line x1="442.5" y1="100.5" x2="442.5" y2="101.7" stroke="#555" stroke-width="0.5"/>
<line x1="372.3" y1="46.5" x2="373.5" y2="46.5" stroke="#555" stroke-width="0.5"/>
<line x1="445" y1="100.5" x2="445" y2="101.7" stroke="#555" stroke-width="0.5"/>
<line x1="372.3" y1="44.5" x2="373.5" y2="44.5" stroke="#555" stroke-width="0.5"/>
<line x1="447.1" y1="100.5" x2="447.1" y2="101.7" stroke="#555" stroke-width="0.5"/>
<line x1="372.3" y1="42.9" x2="373.5" y2="42.9" stroke="#555" stroke-width="0.5"/>
<line x1="448.9" y1="100.5" x2="448.9" y2="101.7" stroke="#555" stroke-width="0.5"/>
<line x1="372.3" y1="41.5" x2="373.5" y2="41.5" stroke="#555" stroke-width="0.5"/>
<line x1="450.4" y1="100.5" x2="450.4" y2="101.7" stroke="#555" stroke-width="0.5"/>
<line x1="372.3" y1="40.3" x2="373.5" y2="40.3" stroke="#555" stroke-width="0.5"/>
<line x1="451.8" y1="100.5" x2="451.8" y2="101.7" stroke="#555" stroke-width="0.5"/>
<line x1="372.3" y1="39.2" x2="373.5" y2="39.2" stroke="#555" stroke-width="0.5"/>
<text x="425.3" y="110.7" font-size="6.4" fill="#333" text-anchor="middle">10<tspan dy="-3.3" font-size="5.2">2</tspan></text>
<text transform="rotate(-90 368.9 60.2)" x="368.9" y="60.2" font-size="6.4" fill="#333" text-anchor="middle">10<tspan dy="-3.3" font-size="5.2">2</tspan></text>
<line x1="453" y1="100.5" x2="453" y2="102.5" stroke="#333" stroke-width="0.7"/>
<line x1="371.5" y1="38.2" x2="373.5" y2="38.2" stroke="#333" stroke-width="0.7"/>
<line x1="461" y1="100.5" x2="461" y2="101.7" stroke="#555" stroke-width="0.5"/>
<line x1="372.3" y1="32" x2="373.5" y2="32" stroke="#555" stroke-width="0.5"/>
<line x1="465.6" y1="100.5" x2="465.6" y2="101.7" stroke="#555" stroke-width="0.5"/>
<line x1="372.3" y1="28.3" x2="373.5" y2="28.3" stroke="#555" stroke-width="0.5"/>
<line x1="469" y1="100.5" x2="469" y2="101.7" stroke="#555" stroke-width="0.5"/>
<line x1="372.3" y1="25.8" x2="373.5" y2="25.8" stroke="#555" stroke-width="0.5"/>
<line x1="471.5" y1="100.5" x2="471.5" y2="101.7" stroke="#555" stroke-width="0.5"/>
<line x1="372.3" y1="23.7" x2="373.5" y2="23.7" stroke="#555" stroke-width="0.5"/>
<line x1="473.6" y1="100.5" x2="473.6" y2="101.7" stroke="#555" stroke-width="0.5"/>
<line x1="372.3" y1="22.1" x2="373.5" y2="22.1" stroke="#555" stroke-width="0.5"/>
<line x1="475.4" y1="100.5" x2="475.4" y2="101.7" stroke="#555" stroke-width="0.5"/>
<line x1="372.3" y1="20.7" x2="373.5" y2="20.7" stroke="#555" stroke-width="0.5"/>
<line x1="476.9" y1="100.5" x2="476.9" y2="101.7" stroke="#555" stroke-width="0.5"/>
<line x1="372.3" y1="19.5" x2="373.5" y2="19.5" stroke="#555" stroke-width="0.5"/>
<line x1="478.3" y1="100.5" x2="478.3" y2="101.7" stroke="#555" stroke-width="0.5"/>
<line x1="372.3" y1="18.4" x2="373.5" y2="18.4" stroke="#555" stroke-width="0.5"/>
<text x="451.8" y="110.7" font-size="6.4" fill="#333" text-anchor="middle">10<tspan dy="-3.3" font-size="5.2">3</tspan></text>
<text transform="rotate(-90 368.9 39.5)" x="368.9" y="39.5" font-size="6.4" fill="#333" text-anchor="middle">10<tspan dy="-3.3" font-size="5.2">3</tspan></text>
<line x1="479.5" y1="100.5" x2="479.5" y2="102.5" stroke="#333" stroke-width="0.7"/>
<line x1="371.5" y1="17.5" x2="373.5" y2="17.5" stroke="#333" stroke-width="0.7"/>
<text x="478.3" y="110.7" font-size="6.4" fill="#333" text-anchor="middle">10<tspan dy="-3.3" font-size="5.2">4</tspan></text>
<text transform="rotate(-90 368.9 18.7)" x="368.9" y="18.7" font-size="6.4" fill="#333" text-anchor="middle">10<tspan dy="-3.3" font-size="5.2">4</tspan></text>
<text x="425.5" y="117.5" font-size="6" font-weight="normal" text-anchor="middle" fill="#333" >FL1-H</text>
<text x="360" y="59" font-size="6" font-weight="normal" text-anchor="middle" fill="#333" transform="rotate(-90 360 59)">FL3-H</text>
<text x="576.1" y="10.5" font-size="10.2" font-weight="bold" text-anchor="middle" fill="#000" >resveratrol 10 μM</text>
<g filter="url(#soft)">
<polygon points="524.6,100.2 536,100.2 555,83 556,79.5 545,81 533,83.5 524.6,87" fill="#767676"/>
<path d="M556.0 77.1h1v1h-1zM528.7 81.0h1v1h-1zM545.8 82.7h1v1h-1zM543.8 79.5h1v1h-1zM537.3 83.9h1v1h-1zM558.3 76.1h1v1h-1zM539.2 82.1h1v1h-1zM538.3 80.1h1v1h-1zM543.0 81.0h1v1h-1zM536.3 84.6h1v1h-1zM556.6 75.7h1v1h-1zM554.2 74.1h1v1h-1zM554.2 73.5h1v1h-1zM539.4 81.4h1v1h-1zM530.2 79.9h1v1h-1zM538.4 80.8h1v1h-1zM552.3 77.6h1v1h-1zM538.2 78.7h1v1h-1zM537.3 79.1h1v1h-1zM547.3 79.4h1v1h-1zM535.2 81.0h1v1h-1zM553.8 83.0h1v1h-1zM536.7 81.5h1v1h-1zM539.4 80.6h1v1h-1zM543.5 81.8h1v1h-1zM542.9 79.6h1v1h-1zM528.2 80.9h1v1h-1zM554.8 81.4h1v1h-1zM526.3 83.0h1v1h-1zM532.7 82.4h1v1h-1zM542.3 79.4h1v1h-1zM532.7 81.6h1v1h-1zM549.1 79.7h1v1h-1zM530.3 82.7h1v1h-1zM557.5 78.0h1v1h-1zM525.6 89.2h1v1h-1zM530.8 87.1h1v1h-1zM540.8 83.9h1v1h-1zM530.9 84.3h1v1h-1zM544.7 78.9h1v1h-1zM537.1 82.8h1v1h-1zM549.3 73.7h1v1h-1zM550.4 76.1h1v1h-1zM540.4 84.7h1v1h-1zM536.2 84.0h1v1h-1zM554.1 80.3h1v1h-1zM536.9 81.7h1v1h-1zM555.6 80.6h1v1h-1zM540.0 82.0h1v1h-1zM529.8 84.1h1v1h-1zM531.6 85.6h1v1h-1zM544.0 80.4h1v1h-1zM557.0 79.6h1v1h-1zM531.6 81.2h1v1h-1zM550.4 76.8h1v1h-1zM538.4 81.6h1v1h-1zM525.6 85.3h1v1h-1zM548.2 80.3h1v1h-1zM530.9 85.2h1v1h-1zM540.7 81.3h1v1h-1zM546.1 84.9h1v1h-1zM555.7 74.8h1v1h-1zM541.0 80.5h1v1h-1zM537.6 81.4h1v1h-1zM528.4 82.1h1v1h-1zM543.1 79.3h1v1h-1zM535.4 82.4h1v1h-1zM525.4 83.8h1v1h-1zM535.8 79.5h1v1h-1zM541.0 84.2h1v1h-1zM527.1 86.7h1v1h-1zM556.7 79.4h1v1h-1zM530.1 82.4h1v1h-1zM539.9 78.9h1v1h-1zM529.2 84.7h1v1h-1zM550.3 73.5h1v1h-1zM548.9 80.0h1v1h-1zM549.6 76.0h1v1h-1zM534.4 83.3h1v1h-1zM532.3 82.4h1v1h-1zM556.5 72.1h1v1h-1zM551.5 80.0h1v1h-1zM540.6 83.6h1v1h-1zM548.1 78.0h1v1h-1zM552.1 79.7h1v1h-1zM557.7 79.0h1v1h-1zM529.3 87.1h1v1h-1zM556.3 76.1h1v1h-1zM534.7 86.2h1v1h-1zM545.4 80.6h1v1h-1zM525.7 82.6h1v1h-1zM550.4 80.6h1v1h-1zM547.8 84.4h1v1h-1zM539.4 79.0h1v1h-1zM557.2 74.0h1v1h-1zM529.4 84.1h1v1h-1zM544.6 79.2h1v1h-1zM540.1 81.2h1v1h-1zM549.5 77.9h1v1h-1zM541.2 80.7h1v1h-1zM547.8 75.6h1v1h-1zM552.5 81.5h1v1h-1zM536.2 76.1h1v1h-1zM546.7 80.1h1v1h-1zM549.1 77.0h1v1h-1zM554.0 79.1h1v1h-1zM546.3 75.9h1v1h-1zM555.1 80.5h1v1h-1zM550.2 82.6h1v1h-1zM544.5 84.4h1v1h-1zM528.4 82.2h1v1h-1zM531.9 81.9h1v1h-1zM532.0 83.2h1v1h-1zM546.1 77.0h1v1h-1zM546.1 81.2h1v1h-1zM541.6 81.1h1v1h-1zM550.0 82.5h1v1h-1zM548.6 80.8h1v1h-1zM550.6 77.7h1v1h-1zM529.2 85.5h1v1h-1zM536.0 82.8h1v1h-1zM554.9 79.5h1v1h-1zM535.0 83.6h1v1h-1zM534.1 80.3h1v1h-1zM542.6 80.2h1v1h-1zM550.8 81.7h1v1h-1zM549.8 76.7h1v1h-1zM553.3 80.1h1v1h-1zM535.2 81.0h1v1h-1zM549.8 77.1h1v1h-1zM531.6 83.6h1v1h-1zM534.4 82.5h1v1h-1zM550.4 80.0h1v1h-1zM536.4 83.7h1v1h-1zM529.4 84.4h1v1h-1zM554.8 76.6h1v1h-1zM546.4 79.0h1v1h-1zM528.2 85.8h1v1h-1zM545.9 81.2h1v1h-1zM550.7 83.0h1v1h-1zM543.4 82.6h1v1h-1zM537.9 78.5h1v1h-1zM540.0 75.5h1v1h-1zM548.8 74.2h1v1h-1zM555.0 70.8h1v1h-1zM533.0 80.2h1v1h-1zM536.2 83.0h1v1h-1zM554.8 79.5h1v1h-1zM554.8 83.5h1v1h-1zM530.2 84.4h1v1h-1zM538.7 79.7h1v1h-1zM548.0 80.1h1v1h-1zM533.2 81.0h1v1h-1zM533.7 81.7h1v1h-1zM535.6 82.0h1v1h-1zM529.8 85.6h1v1h-1zM538.5 83.8h1v1h-1zM533.0 86.3h1v1h-1zM534.3 85.2h1v1h-1zM528.4 88.2h1v1h-1zM538.9 80.3h1v1h-1zM542.4 79.0h1v1h-1zM548.7 77.3h1v1h-1zM555.9 78.7h1v1h-1zM543.9 84.2h1v1h-1zM542.9 78.7h1v1h-1zM558.8 76.8h1v1h-1zM538.3 82.9h1v1h-1zM529.5 89.6h1v1h-1zM530.8 82.6h1v1h-1zM555.2 78.6h1v1h-1zM551.1 78.7h1v1h-1zM536.5 83.4h1v1h-1zM549.1 83.1h1v1h-1zM548.2 81.4h1v1h-1zM531.2 83.4h1v1h-1zM529.0 83.9h1v1h-1zM533.3 81.2h1v1h-1zM540.7 76.4h1v1h-1zM528.8 83.9h1v1h-1zM529.4 85.1h1v1h-1zM527.0 86.9h1v1h-1zM546.6 76.0h1v1h-1zM545.3 79.0h1v1h-1zM532.0 86.4h1v1h-1zM545.4 82.2h1v1h-1zM533.4 83.7h1v1h-1zM538.4 77.6h1v1h-1zM542.0 80.8h1v1h-1zM550.4 78.7h1v1h-1zM546.9 76.0h1v1h-1zM525.2 84.2h1v1h-1zM529.7 81.8h1v1h-1zM544.9 76.3h1v1h-1zM542.2 82.4h1v1h-1zM552.2 75.6h1v1h-1zM526.4 85.8h1v1h-1zM544.6 79.5h1v1h-1zM558.1 76.6h1v1h-1zM539.6 82.9h1v1h-1zM551.1 76.6h1v1h-1zM552.8 76.7h1v1h-1zM538.1 79.1h1v1h-1zM547.4 82.3h1v1h-1zM534.4 81.9h1v1h-1zM534.5 81.8h1v1h-1zM542.5 80.1h1v1h-1zM549.0 74.9h1v1h-1zM538.3 82.0h1v1h-1zM540.1 82.8h1v1h-1zM540.7 83.7h1v1h-1zM543.1 81.8h1v1h-1zM544.9 78.8h1v1h-1zM543.3 75.9h1v1h-1zM546.5 81.1h1v1h-1zM551.7 78.7h1v1h-1zM553.2 80.0h1v1h-1zM535.1 86.3h1v1h-1zM534.8 83.2h1v1h-1zM553.2 78.7h1v1h-1zM530.2 86.6h1v1h-1zM538.5 83.3h1v1h-1zM553.4 75.5h1v1h-1zM551.2 77.9h1v1h-1zM537.2 81.4h1v1h-1zM530.8 78.7h1v1h-1zM543.5 77.5h1v1h-1zM532.6 84.0h1v1h-1zM547.4 82.2h1v1h-1zM534.6 84.4h1v1h-1zM536.4 82.2h1v1h-1zM532.1 86.2h1v1h-1zM553.6 81.6h1v1h-1zM548.4 80.9h1v1h-1zM537.3 81.7h1v1h-1zM539.2 80.4h1v1h-1zM543.0 76.6h1v1h-1zM533.4 83.7h1v1h-1zM529.8 85.6h1v1h-1zM540.9 78.4h1v1h-1zM556.4 79.3h1v1h-1zM527.2 82.1h1v1h-1zM528.8 87.2h1v1h-1zM541.2 80.4h1v1h-1zM537.3 80.7h1v1h-1zM528.7 81.9h1v1h-1zM553.9 74.1h1v1h-1zM550.5 77.5h1v1h-1zM548.2 78.5h1v1h-1zM541.3 79.0h1v1h-1zM538.6 80.3h1v1h-1zM551.0 76.6h1v1h-1zM554.8 78.2h1v1h-1zM551.2 77.2h1v1h-1zM555.3 79.8h1v1h-1zM527.2 86.0h1v1h-1zM533.8 82.1h1v1h-1zM540.4 80.4h1v1h-1zM555.2 79.5h1v1h-1zM537.5 86.0h1v1h-1zM542.0 80.2h1v1h-1zM541.0 80.2h1v1h-1zM546.6 82.6h1v1h-1zM528.9 84.4h1v1h-1zM549.3 78.9h1v1h-1zM543.2 83.0h1v1h-1zM539.0 82.2h1v1h-1zM532.0 77.3h1v1h-1zM551.1 78.0h1v1h-1zM536.4 77.1h1v1h-1zM540.9 79.1h1v1h-1zM532.6 80.8h1v1h-1zM550.4 79.1h1v1h-1zM545.5 88.5h1v1h-1zM556.0 79.3h1v1h-1zM548.2 88.3h1v1h-1zM550.1 86.7h1v1h-1zM546.9 86.8h1v1h-1zM557.7 80.4h1v1h-1zM548.8 85.2h1v1h-1zM543.4 91.3h1v1h-1zM537.0 95.1h1v1h-1zM539.2 91.9h1v1h-1zM549.8 85.8h1v1h-1zM545.6 89.9h1v1h-1zM554.1 82.9h1v1h-1zM549.3 86.9h1v1h-1zM547.9 93.4h1v1h-1zM540.9 91.2h1v1h-1zM539.6 95.2h1v1h-1zM535.5 97.4h1v1h-1zM554.6 81.9h1v1h-1zM552.1 86.2h1v1h-1zM548.9 87.9h1v1h-1zM552.9 80.9h1v1h-1zM539.2 94.9h1v1h-1zM542.7 92.1h1v1h-1zM549.7 85.8h1v1h-1zM545.0 89.4h1v1h-1zM554.6 83.0h1v1h-1zM541.3 92.8h1v1h-1zM538.9 94.9h1v1h-1zM552.4 81.7h1v1h-1zM537.1 97.8h1v1h-1zM543.4 93.7h1v1h-1zM553.2 84.6h1v1h-1zM548.8 86.9h1v1h-1zM539.6 95.7h1v1h-1zM537.0 97.3h1v1h-1zM536.7 98.2h1v1h-1zM536.2 98.8h1v1h-1zM546.8 88.7h1v1h-1zM557.4 83.4h1v1h-1zM550.4 83.6h1v1h-1zM537.3 96.7h1v1h-1zM552.5 84.4h1v1h-1zM555.0 83.8h1v1h-1zM536.2 96.6h1v1h-1zM540.8 96.4h1v1h-1zM552.9 85.3h1v1h-1zM546.7 85.5h1v1h-1zM549.7 86.3h1v1h-1zM556.1 81.7h1v1h-1zM537.6 96.1h1v1h-1zM559.2 81.0h1v1h-1zM546.1 90.9h1v1h-1zM551.8 87.3h1v1h-1zM552.5 83.6h1v1h-1zM537.7 92.8h1v1h-1zM548.6 86.6h1v1h-1zM533.5 95.8h1v1h-1zM539.0 94.6h1v1h-1zM543.3 92.2h1v1h-1zM538.6 92.7h1v1h-1zM549.9 91.2h1v1h-1zM547.8 87.4h1v1h-1zM543.2 93.9h1v1h-1zM542.6 92.5h1v1h-1zM551.5 86.5h1v1h-1zM548.8 87.8h1v1h-1zM555.8 80.5h1v1h-1zM548.9 87.5h1v1h-1zM552.1 85.9h1v1h-1zM547.4 88.8h1v1h-1zM553.2 82.3h1v1h-1zM547.7 85.0h1v1h-1zM546.1 91.0h1v1h-1zM538.7 95.7h1v1h-1zM537.5 99.3h1v1h-1zM541.2 91.1h1v1h-1zM539.3 94.3h1v1h-1zM542.6 98.6h1v1h-1zM556.0 80.5h1v1h-1zM539.4 97.8h1v1h-1zM546.1 91.6h1v1h-1zM550.7 85.3h1v1h-1zM535.5 98.5h1v1h-1zM542.6 94.8h1v1h-1zM540.8 95.8h1v1h-1zM546.9 88.4h1v1h-1zM541.1 92.0h1v1h-1zM552.8 84.6h1v1h-1zM552.1 85.9h1v1h-1zM545.3 88.8h1v1h-1zM540.2 98.7h1v1h-1zM553.8 82.4h1v1h-1zM551.6 83.2h1v1h-1zM549.7 88.2h1v1h-1zM552.5 79.1h1v1h-1zM547.8 90.7h1v1h-1zM546.9 89.3h1v1h-1zM536.9 97.8h1v1h-1zM546.1 87.3h1v1h-1zM540.0 95.1h1v1h-1zM549.0 87.6h1v1h-1zM544.2 93.9h1v1h-1zM555.4 81.9h1v1h-1zM548.5 86.8h1v1h-1zM540.4 96.1h1v1h-1zM534.4 98.4h1v1h-1zM557.7 82.7h1v1h-1zM538.7 97.3h1v1h-1zM555.0 79.4h1v1h-1zM540.5 96.8h1v1h-1zM554.2 81.3h1v1h-1zM555.7 82.8h1v1h-1zM544.4 93.2h1v1h-1zM551.6 88.2h1v1h-1zM541.0 93.2h1v1h-1zM549.7 85.7h1v1h-1zM556.0 80.5h1v1h-1zM545.4 92.3h1v1h-1zM547.9 85.4h1v1h-1zM553.3 80.5h1v1h-1zM538.4 98.0h1v1h-1zM552.4 83.3h1v1h-1zM554.9 82.3h1v1h-1zM542.7 95.1h1v1h-1zM556.1 81.0h1v1h-1zM548.5 84.7h1v1h-1zM544.3 95.1h1v1h-1zM554.5 80.0h1v1h-1zM540.8 97.5h1v1h-1zM551.5 89.5h1v1h-1zM537.0 99.4h1v1h-1zM548.7 89.5h1v1h-1zM554.5 83.3h1v1h-1zM552.3 85.0h1v1h-1zM546.3 91.2h1v1h-1zM543.8 95.8h1v1h-1zM546.7 87.6h1v1h-1zM558.2 83.0h1v1h-1zM544.2 88.7h1v1h-1zM545.0 92.4h1v1h-1zM554.9 81.1h1v1h-1zM534.9 97.5h1v1h-1zM539.5 94.7h1v1h-1zM543.7 89.6h1v1h-1zM538.9 98.4h1v1h-1zM548.4 87.4h1v1h-1zM542.1 94.1h1v1h-1zM546.6 88.5h1v1h-1zM555.7 80.2h1v1h-1zM554.2 83.4h1v1h-1zM535.5 96.9h1v1h-1zM551.3 86.6h1v1h-1zM553.0 88.2h1v1h-1zM555.5 81.0h1v1h-1zM548.7 85.5h1v1h-1zM541.3 91.8h1v1h-1zM551.1 87.1h1v1h-1zM536.7 97.9h1v1h-1zM554.4 80.8h1v1h-1zM550.2 84.7h1v1h-1zM552.7 84.2h1v1h-1zM541.6 97.6h1v1h-1zM544.2 92.3h1v1h-1zM540.1 82.6h1v1h-1zM543.9 95.9h1v1h-1zM538.0 94.0h1v1h-1zM534.4 87.1h1v1h-1zM533.3 86.9h1v1h-1zM536.5 90.9h1v1h-1zM536.1 83.0h1v1h-1zM544.6 84.6h1v1h-1zM539.7 88.8h1v1h-1zM533.9 89.2h1v1h-1zM551.3 88.6h1v1h-1zM544.2 86.7h1v1h-1zM545.1 83.8h1v1h-1zM530.4 86.4h1v1h-1zM533.9 83.2h1v1h-1zM528.3 90.2h1v1h-1zM535.7 81.5h1v1h-1zM531.9 88.1h1v1h-1zM534.7 92.2h1v1h-1zM525.6 87.6h1v1h-1zM528.7 92.1h1v1h-1zM545.1 94.8h1v1h-1zM549.1 90.4h1v1h-1zM532.9 85.4h1v1h-1zM546.3 92.8h1v1h-1zM543.4 92.2h1v1h-1zM541.9 95.1h1v1h-1zM531.0 95.8h1v1h-1zM535.9 85.2h1v1h-1zM527.4 98.4h1v1h-1zM536.4 88.9h1v1h-1zM548.2 92.9h1v1h-1zM528.1 89.5h1v1h-1zM528.9 86.1h1v1h-1zM536.0 83.7h1v1h-1zM531.8 96.3h1v1h-1zM531.8 83.6h1v1h-1zM536.4 86.2h1v1h-1zM531.9 85.2h1v1h-1zM544.8 87.3h1v1h-1zM527.0 84.1h1v1h-1zM532.7 78.6h1v1h-1zM534.5 91.6h1v1h-1zM532.3 88.9h1v1h-1zM542.3 91.3h1v1h-1zM541.6 95.3h1v1h-1zM537.5 86.5h1v1h-1zM530.6 89.5h1v1h-1zM532.5 92.4h1v1h-1zM540.2 90.6h1v1h-1zM543.8 92.5h1v1h-1zM537.4 87.4h1v1h-1zM543.9 88.3h1v1h-1zM529.0 89.1h1v1h-1zM545.8 98.3h1v1h-1zM529.1 88.6h1v1h-1zM532.6 79.6h1v1h-1zM539.7 85.1h1v1h-1zM526.8 83.4h1v1h-1zM529.0 94.0h1v1h-1zM532.2 90.8h1v1h-1zM537.6 82.6h1v1h-1zM542.1 88.8h1v1h-1zM526.7 93.0h1v1h-1zM541.9 84.5h1v1h-1zM539.4 93.1h1v1h-1zM531.7 82.0h1v1h-1zM540.2 90.9h1v1h-1zM539.0 89.4h1v1h-1zM548.6 79.1h1v1h-1zM533.4 94.6h1v1h-1zM540.5 90.8h1v1h-1zM534.8 90.5h1v1h-1zM542.0 92.8h1v1h-1zM549.2 91.9h1v1h-1zM532.1 97.6h1v1h-1zM542.9 93.6h1v1h-1zM528.7 91.4h1v1h-1zM540.4 91.6h1v1h-1zM533.7 89.7h1v1h-1zM528.2 98.7h1v1h-1zM538.8 88.8h1v1h-1zM538.4 82.5h1v1h-1zM544.2 80.2h1v1h-1zM531.8 92.8h1v1h-1zM537.6 81.8h1v1h-1zM529.6 88.9h1v1h-1zM543.5 90.8h1v1h-1zM545.0 86.8h1v1h-1zM542.9 90.1h1v1h-1zM534.2 94.5h1v1h-1zM538.1 80.3h1v1h-1zM526.7 87.5h1v1h-1zM534.5 87.1h1v1h-1zM550.3 90.7h1v1h-1zM533.1 98.3h1v1h-1zM534.1 92.3h1v1h-1zM527.7 94.1h1v1h-1zM541.0 94.6h1v1h-1zM532.0 81.9h1v1h-1zM538.9 92.8h1v1h-1zM531.7 96.3h1v1h-1zM529.2 87.0h1v1h-1zM535.6 98.8h1v1h-1zM527.0 87.9h1v1h-1zM533.2 88.0h1v1h-1zM531.9 91.9h1v1h-1zM538.5 91.2h1v1h-1zM551.0 90.1h1v1h-1zM535.3 90.5h1v1h-1zM542.7 91.4h1v1h-1zM529.5 96.1h1v1h-1zM545.2 92.7h1v1h-1zM541.3 82.7h1v1h-1zM544.3 84.1h1v1h-1zM536.9 85.1h1v1h-1zM537.8 82.4h1v1h-1zM536.5 85.5h1v1h-1zM545.6 86.6h1v1h-1zM532.5 89.6h1v1h-1zM535.8 92.8h1v1h-1zM535.5 88.0h1v1h-1zM533.9 89.8h1v1h-1zM539.5 97.7h1v1h-1zM533.9 93.0h1v1h-1zM530.0 89.0h1v1h-1zM527.8 93.3h1v1h-1zM540.5 83.6h1v1h-1zM540.7 92.9h1v1h-1zM529.3 86.3h1v1h-1zM530.2 94.8h1v1h-1zM548.7 45.5h1v1h-1zM538.0 47.2h1v1h-1zM547.9 43.5h1v1h-1zM541.3 43.2h1v1h-1zM540.2 39.7h1v1h-1zM548.3 44.3h1v1h-1zM545.3 42.9h1v1h-1zM542.7 45.5h1v1h-1zM547.4 49.3h1v1h-1zM553.8 45.0h1v1h-1zM534.2 43.3h1v1h-1zM538.5 46.4h1v1h-1zM539.4 44.2h1v1h-1zM547.4 47.2h1v1h-1zM536.4 46.4h1v1h-1zM530.3 42.8h1v1h-1zM534.1 44.2h1v1h-1zM538.4 45.7h1v1h-1zM533.5 45.4h1v1h-1zM538.7 43.3h1v1h-1zM552.1 47.9h1v1h-1zM550.5 43.1h1v1h-1zM556.1 44.3h1v1h-1zM555.0 48.5h1v1h-1zM539.8 46.4h1v1h-1zM545.7 41.9h1v1h-1zM542.2 42.3h1v1h-1zM535.4 44.2h1v1h-1zM547.3 46.1h1v1h-1zM539.4 44.7h1v1h-1zM540.9 47.5h1v1h-1zM533.3 44.9h1v1h-1zM544.3 44.4h1v1h-1zM545.0 46.4h1v1h-1zM535.1 42.2h1v1h-1zM553.0 44.4h1v1h-1zM551.3 43.4h1v1h-1zM536.7 44.5h1v1h-1zM551.8 41.7h1v1h-1zM533.9 45.7h1v1h-1zM544.0 44.9h1v1h-1zM551.2 43.2h1v1h-1zM557.4 40.4h1v1h-1zM546.4 44.0h1v1h-1zM551.8 48.1h1v1h-1zM533.4 44.3h1v1h-1zM539.8 43.6h1v1h-1zM551.5 45.0h1v1h-1zM536.7 42.5h1v1h-1zM545.7 44.4h1v1h-1zM544.8 40.4h1v1h-1zM541.0 43.2h1v1h-1zM540.8 45.9h1v1h-1zM546.6 44.4h1v1h-1zM550.0 45.3h1v1h-1zM548.2 44.1h1v1h-1zM544.2 43.0h1v1h-1zM552.5 45.4h1v1h-1zM545.5 44.0h1v1h-1zM541.6 45.1h1v1h-1zM549.1 45.8h1v1h-1zM541.5 48.7h1v1h-1zM549.5 46.6h1v1h-1zM548.9 45.9h1v1h-1zM557.2 41.7h1v1h-1zM534.1 44.6h1v1h-1zM551.3 43.3h1v1h-1zM537.4 44.8h1v1h-1zM552.6 41.3h1v1h-1zM547.7 41.5h1v1h-1zM556.8 38.1h1v1h-1zM543.7 46.3h1v1h-1zM542.3 43.6h1v1h-1zM546.1 44.3h1v1h-1zM531.0 44.9h1v1h-1zM539.0 43.7h1v1h-1zM552.1 46.0h1v1h-1zM548.2 43.1h1v1h-1zM555.9 44.1h1v1h-1zM549.1 48.5h1v1h-1zM556.8 42.2h1v1h-1zM542.3 44.4h1v1h-1zM533.3 44.1h1v1h-1zM540.8 45.1h1v1h-1zM539.0 48.5h1v1h-1zM552.1 42.0h1v1h-1zM550.6 42.9h1v1h-1zM550.1 42.8h1v1h-1zM542.7 46.1h1v1h-1zM554.0 48.4h1v1h-1zM548.9 46.2h1v1h-1zM553.5 45.1h1v1h-1zM540.4 47.6h1v1h-1zM542.7 42.2h1v1h-1zM538.1 42.8h1v1h-1zM544.0 47.7h1v1h-1zM550.6 40.5h1v1h-1zM539.7 44.1h1v1h-1zM545.1 45.1h1v1h-1zM552.1 45.0h1v1h-1zM533.0 44.3h1v1h-1zM547.4 47.2h1v1h-1zM537.7 47.4h1v1h-1zM540.3 47.5h1v1h-1zM545.1 44.3h1v1h-1zM546.4 41.3h1v1h-1zM555.7 42.9h1v1h-1zM558.7 43.4h1v1h-1zM535.5 44.2h1v1h-1zM540.2 40.7h1v1h-1zM547.1 46.9h1v1h-1zM540.6 46.5h1v1h-1zM557.6 43.5h1v1h-1zM554.1 40.7h1v1h-1zM536.7 44.3h1v1h-1zM551.0 44.1h1v1h-1zM540.2 46.7h1v1h-1zM560.4 43.2h1v1h-1zM549.9 40.3h1v1h-1zM535.3 40.7h1v1h-1zM535.8 46.0h1v1h-1zM553.6 44.5h1v1h-1zM541.2 42.7h1v1h-1zM534.2 43.8h1v1h-1zM532.3 43.1h1v1h-1zM548.4 44.8h1v1h-1zM550.9 44.4h1v1h-1zM548.5 45.9h1v1h-1zM551.0 46.7h1v1h-1zM550.7 47.4h1v1h-1zM534.1 43.9h1v1h-1zM546.4 44.7h1v1h-1zM538.1 43.1h1v1h-1zM545.2 46.1h1v1h-1zM556.9 45.0h1v1h-1zM554.3 45.7h1v1h-1zM540.1 46.7h1v1h-1zM544.7 43.7h1v1h-1zM544.8 46.5h1v1h-1zM536.8 43.4h1v1h-1zM537.7 46.5h1v1h-1zM531.8 45.9h1v1h-1zM554.2 44.3h1v1h-1zM543.9 45.3h1v1h-1zM543.0 44.1h1v1h-1zM559.9 38.1h1v1h-1zM547.0 48.1h1v1h-1zM533.9 44.7h1v1h-1zM546.5 43.3h1v1h-1zM555.3 45.8h1v1h-1zM548.5 44.1h1v1h-1zM540.1 43.4h1v1h-1zM544.8 51.0h1v1h-1zM549.2 49.2h1v1h-1zM554.9 45.0h1v1h-1zM550.1 43.1h1v1h-1zM532.4 50.5h1v1h-1zM548.9 41.5h1v1h-1zM541.0 43.4h1v1h-1zM554.4 42.0h1v1h-1zM557.2 43.8h1v1h-1zM555.5 45.1h1v1h-1zM537.3 48.5h1v1h-1zM541.2 46.0h1v1h-1zM552.4 43.5h1v1h-1zM537.1 41.0h1v1h-1zM541.7 45.2h1v1h-1zM544.6 40.5h1v1h-1zM543.4 44.3h1v1h-1zM545.1 43.5h1v1h-1zM568.4 52.3h1v1h-1zM559.4 63.3h1v1h-1zM564.2 69.6h1v1h-1zM559.3 62.7h1v1h-1zM567.5 66.7h1v1h-1zM569.6 65.9h1v1h-1zM561.5 49.3h1v1h-1zM558.0 51.2h1v1h-1zM562.4 61.7h1v1h-1zM564.9 53.7h1v1h-1zM564.0 62.0h1v1h-1zM564.9 52.0h1v1h-1zM559.9 44.9h1v1h-1zM560.7 59.5h1v1h-1zM560.6 60.3h1v1h-1zM563.6 54.6h1v1h-1zM566.1 65.4h1v1h-1zM563.8 71.3h1v1h-1zM565.6 41.4h1v1h-1zM560.3 51.1h1v1h-1zM560.1 62.2h1v1h-1zM557.8 64.0h1v1h-1zM556.8 51.6h1v1h-1zM563.1 43.7h1v1h-1zM555.2 49.4h1v1h-1zM568.8 55.7h1v1h-1zM553.5 46.4h1v1h-1zM563.8 60.9h1v1h-1zM568.6 52.5h1v1h-1zM564.0 50.0h1v1h-1zM563.0 58.3h1v1h-1zM563.7 64.4h1v1h-1zM575.3 63.8h1v1h-1zM561.1 54.7h1v1h-1zM561.4 67.1h1v1h-1zM557.2 36.5h1v1h-1zM564.7 53.6h1v1h-1zM563.9 53.9h1v1h-1zM563.9 46.3h1v1h-1zM563.9 61.1h1v1h-1zM564.1 63.0h1v1h-1zM564.5 65.8h1v1h-1zM562.0 50.9h1v1h-1zM565.9 41.1h1v1h-1zM562.2 51.7h1v1h-1zM561.9 43.5h1v1h-1zM566.9 68.7h1v1h-1zM559.4 41.4h1v1h-1zM562.8 58.0h1v1h-1zM565.0 46.2h1v1h-1zM561.2 58.9h1v1h-1zM569.5 61.5h1v1h-1zM565.3 66.5h1v1h-1zM567.1 51.2h1v1h-1zM561.3 42.2h1v1h-1zM557.7 51.3h1v1h-1zM563.5 51.8h1v1h-1zM557.8 45.6h1v1h-1zM561.0 59.9h1v1h-1zM562.0 41.8h1v1h-1zM553.8 43.7h1v1h-1zM560.4 52.6h1v1h-1zM566.2 50.8h1v1h-1zM561.5 57.9h1v1h-1zM564.8 46.6h1v1h-1zM565.7 69.7h1v1h-1zM559.7 51.5h1v1h-1zM552.1 42.1h1v1h-1zM564.1 42.7h1v1h-1zM559.7 46.7h1v1h-1zM561.9 46.8h1v1h-1zM562.5 65.6h1v1h-1zM560.1 58.6h1v1h-1zM564.5 48.5h1v1h-1zM562.7 48.4h1v1h-1zM558.2 45.7h1v1h-1zM561.9 59.0h1v1h-1zM559.5 40.9h1v1h-1zM558.6 57.4h1v1h-1zM557.3 53.3h1v1h-1zM563.3 39.7h1v1h-1zM566.0 60.3h1v1h-1zM559.2 46.8h1v1h-1zM560.2 66.8h1v1h-1zM561.0 52.4h1v1h-1zM561.0 59.2h1v1h-1zM571.0 61.9h1v1h-1zM564.8 52.1h1v1h-1zM558.2 44.0h1v1h-1zM568.1 55.7h1v1h-1zM561.0 61.2h1v1h-1zM556.2 63.8h1v1h-1zM558.7 67.5h1v1h-1zM565.9 44.9h1v1h-1zM557.9 37.7h1v1h-1zM565.6 60.0h1v1h-1zM560.9 64.8h1v1h-1zM564.8 60.0h1v1h-1zM559.6 54.0h1v1h-1zM565.3 56.6h1v1h-1zM564.0 58.6h1v1h-1zM559.4 40.3h1v1h-1zM560.8 54.8h1v1h-1zM561.1 51.1h1v1h-1zM562.9 49.0h1v1h-1zM563.7 53.0h1v1h-1zM563.9 38.0h1v1h-1zM559.2 51.8h1v1h-1zM563.9 62.0h1v1h-1zM557.2 68.3h1v1h-1zM566.4 53.0h1v1h-1zM566.0 67.2h1v1h-1zM563.2 55.3h1v1h-1zM568.4 62.4h1v1h-1zM564.2 65.8h1v1h-1zM554.0 48.9h1v1h-1zM562.3 57.1h1v1h-1zM568.5 60.1h1v1h-1zM565.5 60.2h1v1h-1zM562.3 37.3h1v1h-1zM565.3 63.1h1v1h-1zM564.0 44.5h1v1h-1zM564.4 61.7h1v1h-1zM563.5 48.0h1v1h-1zM564.1 49.8h1v1h-1zM554.7 57.1h1v1h-1zM562.1 59.6h1v1h-1zM569.1 54.0h1v1h-1zM561.9 49.0h1v1h-1zM557.4 42.3h1v1h-1zM562.5 54.4h1v1h-1zM554.8 52.4h1v1h-1zM562.6 53.7h1v1h-1zM564.5 57.5h1v1h-1zM567.2 61.9h1v1h-1zM562.9 41.6h1v1h-1zM561.7 69.9h1v1h-1zM565.2 53.9h1v1h-1zM558.7 42.6h1v1h-1zM555.4 55.4h1v1h-1zM559.4 59.4h1v1h-1zM563.8 47.3h1v1h-1zM567.8 60.1h1v1h-1zM572.6 65.9h1v1h-1zM559.9 53.6h1v1h-1zM558.5 47.9h1v1h-1zM558.9 41.7h1v1h-1zM569.7 70.4h1v1h-1zM569.5 61.3h1v1h-1zM558.2 56.1h1v1h-1zM555.1 63.3h1v1h-1zM560.4 57.4h1v1h-1zM560.3 56.6h1v1h-1zM556.2 56.2h1v1h-1zM564.3 45.0h1v1h-1zM566.5 55.9h1v1h-1zM562.8 48.5h1v1h-1zM561.2 43.9h1v1h-1zM565.0 59.5h1v1h-1zM564.1 50.8h1v1h-1zM562.2 62.5h1v1h-1zM565.6 69.6h1v1h-1zM560.0 59.0h1v1h-1zM559.0 42.1h1v1h-1zM561.4 55.5h1v1h-1zM559.2 50.9h1v1h-1zM564.4 67.8h1v1h-1zM563.6 42.3h1v1h-1zM552.6 42.9h1v1h-1zM560.0 43.7h1v1h-1zM531.4 58.5h1v1h-1zM526.6 58.5h1v1h-1zM529.2 50.8h1v1h-1zM540.2 56.9h1v1h-1zM531.8 51.7h1v1h-1zM534.8 71.1h1v1h-1zM555.9 55.4h1v1h-1zM526.8 59.6h1v1h-1zM553.5 53.8h1v1h-1zM556.7 58.1h1v1h-1zM534.4 49.8h1v1h-1zM534.8 60.8h1v1h-1zM535.0 57.2h1v1h-1zM548.4 59.9h1v1h-1zM528.5 50.2h1v1h-1zM552.7 52.1h1v1h-1zM538.2 64.5h1v1h-1zM556.3 60.5h1v1h-1zM549.2 62.8h1v1h-1zM550.8 59.3h1v1h-1zM532.7 61.0h1v1h-1zM545.4 51.7h1v1h-1zM544.3 59.0h1v1h-1zM537.8 59.7h1v1h-1zM537.4 56.8h1v1h-1zM556.6 55.7h1v1h-1zM540.7 48.1h1v1h-1zM535.1 67.4h1v1h-1zM541.6 64.4h1v1h-1zM554.3 64.6h1v1h-1zM555.4 68.7h1v1h-1zM532.4 63.1h1v1h-1zM526.7 63.3h1v1h-1zM554.0 65.4h1v1h-1zM553.4 61.7h1v1h-1zM550.0 53.6h1v1h-1zM534.7 50.1h1v1h-1zM530.1 66.6h1v1h-1zM529.2 66.5h1v1h-1zM534.2 68.3h1v1h-1zM556.0 49.0h1v1h-1zM543.9 63.9h1v1h-1zM540.3 48.6h1v1h-1zM541.5 64.9h1v1h-1zM542.2 51.8h1v1h-1zM542.8 48.6h1v1h-1zM531.5 56.0h1v1h-1zM540.9 56.9h1v1h-1zM534.0 70.5h1v1h-1zM529.1 51.9h1v1h-1zM549.1 55.7h1v1h-1zM552.7 68.3h1v1h-1zM541.6 63.2h1v1h-1zM537.8 66.0h1v1h-1zM556.1 63.0h1v1h-1zM537.4 70.0h1v1h-1zM526.2 66.1h1v1h-1zM555.5 53.5h1v1h-1zM545.8 50.6h1v1h-1zM538.3 70.6h1v1h-1zM528.7 52.5h1v1h-1zM530.8 51.7h1v1h-1zM533.0 71.0h1v1h-1zM544.9 60.3h1v1h-1zM551.0 63.8h1v1h-1zM556.2 56.2h1v1h-1zM542.5 69.7h1v1h-1zM535.6 70.1h1v1h-1zM537.8 58.9h1v1h-1zM538.4 50.9h1v1h-1zM536.9 65.0h1v1h-1zM552.3 61.5h1v1h-1zM527.8 62.1h1v1h-1zM546.2 62.9h1v1h-1zM534.0 49.5h1v1h-1zM542.3 54.1h1v1h-1zM551.6 68.6h1v1h-1zM528.0 66.3h1v1h-1zM540.0 58.3h1v1h-1zM540.2 68.7h1v1h-1zM528.9 70.6h1v1h-1zM554.5 58.4h1v1h-1zM556.2 67.2h1v1h-1zM547.2 60.8h1v1h-1zM548.2 61.8h1v1h-1zM550.5 53.7h1v1h-1zM539.1 54.4h1v1h-1zM526.0 64.9h1v1h-1zM544.8 53.8h1v1h-1zM551.2 65.5h1v1h-1zM549.7 62.1h1v1h-1zM535.4 63.8h1v1h-1zM534.0 60.8h1v1h-1zM551.2 60.2h1v1h-1zM552.8 67.8h1v1h-1zM540.3 57.4h1v1h-1zM534.6 59.2h1v1h-1zM528.7 67.9h1v1h-1zM533.6 49.8h1v1h-1zM530.3 56.4h1v1h-1z" fill="#5a5a5a" fill-opacity="0.7"/>
</g>
<rect x="524.5" y="16.5" width="106" height="84" fill="none" stroke="#3a3a3a" stroke-width="1.1"/>
<line x1="557.5" y1="16.5" x2="557.5" y2="100.5" stroke="#606060" stroke-width="1.2"/>
<line x1="524.5" y1="72.5" x2="630.5" y2="72.5" stroke="#606060" stroke-width="1.2"/>
<line x1="524.5" y1="100.5" x2="524.5" y2="102.5" stroke="#333" stroke-width="0.7"/>
<line x1="522.5" y1="100.5" x2="524.5" y2="100.5" stroke="#333" stroke-width="0.7"/>
<line x1="532.5" y1="100.5" x2="532.5" y2="101.7" stroke="#555" stroke-width="0.5"/>
<line x1="523.3" y1="94.2" x2="524.5" y2="94.2" stroke="#555" stroke-width="0.5"/>
<line x1="537.1" y1="100.5" x2="537.1" y2="101.7" stroke="#555" stroke-width="0.5"/>
<line x1="523.3" y1="90.5" x2="524.5" y2="90.5" stroke="#555" stroke-width="0.5"/>
<line x1="540.5" y1="100.5" x2="540.5" y2="101.7" stroke="#555" stroke-width="0.5"/>
<line x1="523.3" y1="87.9" x2="524.5" y2="87.9" stroke="#555" stroke-width="0.5"/>
<line x1="543" y1="100.5" x2="543" y2="101.7" stroke="#555" stroke-width="0.5"/>
<line x1="523.3" y1="85.8" x2="524.5" y2="85.8" stroke="#555" stroke-width="0.5"/>
<line x1="545.1" y1="100.5" x2="545.1" y2="101.7" stroke="#555" stroke-width="0.5"/>
<line x1="523.3" y1="84.2" x2="524.5" y2="84.2" stroke="#555" stroke-width="0.5"/>
<line x1="546.9" y1="100.5" x2="546.9" y2="101.7" stroke="#555" stroke-width="0.5"/>
<line x1="523.3" y1="82.8" x2="524.5" y2="82.8" stroke="#555" stroke-width="0.5"/>
<line x1="548.4" y1="100.5" x2="548.4" y2="101.7" stroke="#555" stroke-width="0.5"/>
<line x1="523.3" y1="81.5" x2="524.5" y2="81.5" stroke="#555" stroke-width="0.5"/>
<line x1="549.8" y1="100.5" x2="549.8" y2="101.7" stroke="#555" stroke-width="0.5"/>
<line x1="523.3" y1="80.5" x2="524.5" y2="80.5" stroke="#555" stroke-width="0.5"/>
<text x="523.3" y="110.7" font-size="6.4" fill="#333" text-anchor="middle">10<tspan dy="-3.3" font-size="5.2">0</tspan></text>
<text transform="rotate(-90 519.9 101.7)" x="519.9" y="101.7" font-size="6.4" fill="#333" text-anchor="middle">10<tspan dy="-3.3" font-size="5.2">0</tspan></text>
<line x1="551" y1="100.5" x2="551" y2="102.5" stroke="#333" stroke-width="0.7"/>
<line x1="522.5" y1="79.5" x2="524.5" y2="79.5" stroke="#333" stroke-width="0.7"/>
<line x1="559" y1="100.5" x2="559" y2="101.7" stroke="#555" stroke-width="0.5"/>
<line x1="523.3" y1="73.2" x2="524.5" y2="73.2" stroke="#555" stroke-width="0.5"/>
<line x1="563.6" y1="100.5" x2="563.6" y2="101.7" stroke="#555" stroke-width="0.5"/>
<line x1="523.3" y1="69.5" x2="524.5" y2="69.5" stroke="#555" stroke-width="0.5"/>
<line x1="567" y1="100.5" x2="567" y2="101.7" stroke="#555" stroke-width="0.5"/>
<line x1="523.3" y1="66.9" x2="524.5" y2="66.9" stroke="#555" stroke-width="0.5"/>
<line x1="569.5" y1="100.5" x2="569.5" y2="101.7" stroke="#555" stroke-width="0.5"/>
<line x1="523.3" y1="64.8" x2="524.5" y2="64.8" stroke="#555" stroke-width="0.5"/>
<line x1="571.6" y1="100.5" x2="571.6" y2="101.7" stroke="#555" stroke-width="0.5"/>
<line x1="523.3" y1="63.2" x2="524.5" y2="63.2" stroke="#555" stroke-width="0.5"/>
<line x1="573.4" y1="100.5" x2="573.4" y2="101.7" stroke="#555" stroke-width="0.5"/>
<line x1="523.3" y1="61.8" x2="524.5" y2="61.8" stroke="#555" stroke-width="0.5"/>
<line x1="574.9" y1="100.5" x2="574.9" y2="101.7" stroke="#555" stroke-width="0.5"/>
<line x1="523.3" y1="60.5" x2="524.5" y2="60.5" stroke="#555" stroke-width="0.5"/>
<line x1="576.3" y1="100.5" x2="576.3" y2="101.7" stroke="#555" stroke-width="0.5"/>
<line x1="523.3" y1="59.5" x2="524.5" y2="59.5" stroke="#555" stroke-width="0.5"/>
<text x="549.8" y="110.7" font-size="6.4" fill="#333" text-anchor="middle">10<tspan dy="-3.3" font-size="5.2">1</tspan></text>
<text transform="rotate(-90 519.9 80.7)" x="519.9" y="80.7" font-size="6.4" fill="#333" text-anchor="middle">10<tspan dy="-3.3" font-size="5.2">1</tspan></text>
<line x1="577.5" y1="100.5" x2="577.5" y2="102.5" stroke="#333" stroke-width="0.7"/>
<line x1="522.5" y1="58.5" x2="524.5" y2="58.5" stroke="#333" stroke-width="0.7"/>
<line x1="585.5" y1="100.5" x2="585.5" y2="101.7" stroke="#555" stroke-width="0.5"/>
<line x1="523.3" y1="52.2" x2="524.5" y2="52.2" stroke="#555" stroke-width="0.5"/>
<line x1="590.1" y1="100.5" x2="590.1" y2="101.7" stroke="#555" stroke-width="0.5"/>
<line x1="523.3" y1="48.5" x2="524.5" y2="48.5" stroke="#555" stroke-width="0.5"/>
<line x1="593.5" y1="100.5" x2="593.5" y2="101.7" stroke="#555" stroke-width="0.5"/>
<line x1="523.3" y1="45.9" x2="524.5" y2="45.9" stroke="#555" stroke-width="0.5"/>
<line x1="596" y1="100.5" x2="596" y2="101.7" stroke="#555" stroke-width="0.5"/>
<line x1="523.3" y1="43.8" x2="524.5" y2="43.8" stroke="#555" stroke-width="0.5"/>
<line x1="598.1" y1="100.5" x2="598.1" y2="101.7" stroke="#555" stroke-width="0.5"/>
<line x1="523.3" y1="42.2" x2="524.5" y2="42.2" stroke="#555" stroke-width="0.5"/>
<line x1="599.9" y1="100.5" x2="599.9" y2="101.7" stroke="#555" stroke-width="0.5"/>
<line x1="523.3" y1="40.8" x2="524.5" y2="40.8" stroke="#555" stroke-width="0.5"/>
<line x1="601.4" y1="100.5" x2="601.4" y2="101.7" stroke="#555" stroke-width="0.5"/>
<line x1="523.3" y1="39.5" x2="524.5" y2="39.5" stroke="#555" stroke-width="0.5"/>
<line x1="602.8" y1="100.5" x2="602.8" y2="101.7" stroke="#555" stroke-width="0.5"/>
<line x1="523.3" y1="38.5" x2="524.5" y2="38.5" stroke="#555" stroke-width="0.5"/>
<text x="576.3" y="110.7" font-size="6.4" fill="#333" text-anchor="middle">10<tspan dy="-3.3" font-size="5.2">2</tspan></text>
<text transform="rotate(-90 519.9 59.7)" x="519.9" y="59.7" font-size="6.4" fill="#333" text-anchor="middle">10<tspan dy="-3.3" font-size="5.2">2</tspan></text>
<line x1="604" y1="100.5" x2="604" y2="102.5" stroke="#333" stroke-width="0.7"/>
<line x1="522.5" y1="37.5" x2="524.5" y2="37.5" stroke="#333" stroke-width="0.7"/>
<line x1="612" y1="100.5" x2="612" y2="101.7" stroke="#555" stroke-width="0.5"/>
<line x1="523.3" y1="31.2" x2="524.5" y2="31.2" stroke="#555" stroke-width="0.5"/>
<line x1="616.6" y1="100.5" x2="616.6" y2="101.7" stroke="#555" stroke-width="0.5"/>
<line x1="523.3" y1="27.5" x2="524.5" y2="27.5" stroke="#555" stroke-width="0.5"/>
<line x1="620" y1="100.5" x2="620" y2="101.7" stroke="#555" stroke-width="0.5"/>
<line x1="523.3" y1="24.9" x2="524.5" y2="24.9" stroke="#555" stroke-width="0.5"/>
<line x1="622.5" y1="100.5" x2="622.5" y2="101.7" stroke="#555" stroke-width="0.5"/>
<line x1="523.3" y1="22.8" x2="524.5" y2="22.8" stroke="#555" stroke-width="0.5"/>
<line x1="624.6" y1="100.5" x2="624.6" y2="101.7" stroke="#555" stroke-width="0.5"/>
<line x1="523.3" y1="21.2" x2="524.5" y2="21.2" stroke="#555" stroke-width="0.5"/>
<line x1="626.4" y1="100.5" x2="626.4" y2="101.7" stroke="#555" stroke-width="0.5"/>
<line x1="523.3" y1="19.8" x2="524.5" y2="19.8" stroke="#555" stroke-width="0.5"/>
<line x1="627.9" y1="100.5" x2="627.9" y2="101.7" stroke="#555" stroke-width="0.5"/>
<line x1="523.3" y1="18.5" x2="524.5" y2="18.5" stroke="#555" stroke-width="0.5"/>
<line x1="629.3" y1="100.5" x2="629.3" y2="101.7" stroke="#555" stroke-width="0.5"/>
<line x1="523.3" y1="17.5" x2="524.5" y2="17.5" stroke="#555" stroke-width="0.5"/>
<text x="602.8" y="110.7" font-size="6.4" fill="#333" text-anchor="middle">10<tspan dy="-3.3" font-size="5.2">3</tspan></text>
<text transform="rotate(-90 519.9 38.7)" x="519.9" y="38.7" font-size="6.4" fill="#333" text-anchor="middle">10<tspan dy="-3.3" font-size="5.2">3</tspan></text>
<line x1="630.5" y1="100.5" x2="630.5" y2="102.5" stroke="#333" stroke-width="0.7"/>
<line x1="522.5" y1="16.5" x2="524.5" y2="16.5" stroke="#333" stroke-width="0.7"/>
<text x="629.3" y="110.7" font-size="6.4" fill="#333" text-anchor="middle">10<tspan dy="-3.3" font-size="5.2">4</tspan></text>
<text transform="rotate(-90 519.9 17.7)" x="519.9" y="17.7" font-size="6.4" fill="#333" text-anchor="middle">10<tspan dy="-3.3" font-size="5.2">4</tspan></text>
<text x="576.5" y="117.5" font-size="6" font-weight="normal" text-anchor="middle" fill="#333" >FL1-H</text>
<text x="511" y="58.5" font-size="6" font-weight="normal" text-anchor="middle" fill="#333" transform="rotate(-90 511 58.5)">FL3-H</text>
<text x="423.9" y="136.2" font-size="10.2" font-weight="bold" text-anchor="middle" fill="#000" >resveratrol 50 μM</text>
<g filter="url(#soft)">
<polygon points="372.4,224.5 385,224.5 398,210 399,205.5 390,207 380,209 372.4,211" fill="#7a7a7a"/>
<path d="M378.1 205.8h1v1h-1zM390.0 203.6h1v1h-1zM374.2 205.9h1v1h-1zM382.0 206.5h1v1h-1zM394.4 203.6h1v1h-1zM374.7 202.6h1v1h-1zM388.0 200.4h1v1h-1zM375.0 203.6h1v1h-1zM385.7 207.4h1v1h-1zM385.9 199.1h1v1h-1zM395.5 202.3h1v1h-1zM391.8 205.6h1v1h-1zM399.4 203.7h1v1h-1zM381.4 206.0h1v1h-1zM390.4 207.6h1v1h-1zM382.6 208.9h1v1h-1zM392.4 201.9h1v1h-1zM403.7 195.2h1v1h-1zM394.5 209.1h1v1h-1zM403.1 200.0h1v1h-1zM394.6 209.2h1v1h-1zM389.5 205.6h1v1h-1zM398.6 202.8h1v1h-1zM395.3 204.1h1v1h-1zM382.0 200.2h1v1h-1zM373.8 207.1h1v1h-1zM391.8 209.1h1v1h-1zM394.2 201.7h1v1h-1zM384.4 208.0h1v1h-1zM374.6 210.7h1v1h-1zM391.0 205.1h1v1h-1zM396.2 209.8h1v1h-1zM397.4 204.9h1v1h-1zM386.4 201.7h1v1h-1zM385.8 199.8h1v1h-1zM384.8 207.0h1v1h-1zM378.2 214.4h1v1h-1zM387.8 204.7h1v1h-1zM384.7 205.2h1v1h-1zM390.4 203.5h1v1h-1zM388.2 205.2h1v1h-1zM382.4 201.2h1v1h-1zM376.4 209.5h1v1h-1zM400.9 205.5h1v1h-1zM389.4 207.0h1v1h-1zM380.2 209.1h1v1h-1zM379.2 209.8h1v1h-1zM382.6 211.5h1v1h-1zM380.7 209.5h1v1h-1zM394.7 205.4h1v1h-1zM383.8 203.2h1v1h-1zM398.7 205.2h1v1h-1zM393.5 201.9h1v1h-1zM381.3 209.2h1v1h-1zM379.9 201.5h1v1h-1zM377.7 212.3h1v1h-1zM392.3 201.6h1v1h-1zM375.8 212.4h1v1h-1zM379.7 208.9h1v1h-1zM381.4 209.1h1v1h-1zM382.3 207.3h1v1h-1zM400.6 202.5h1v1h-1zM401.8 201.4h1v1h-1zM396.1 199.7h1v1h-1zM387.6 207.5h1v1h-1zM382.0 208.3h1v1h-1zM381.5 205.4h1v1h-1zM397.6 196.2h1v1h-1zM401.1 200.3h1v1h-1zM373.3 206.1h1v1h-1zM380.4 203.1h1v1h-1zM387.6 204.0h1v1h-1zM382.8 211.9h1v1h-1zM387.2 202.4h1v1h-1zM375.1 205.6h1v1h-1zM379.1 200.4h1v1h-1zM396.5 202.8h1v1h-1zM391.6 203.5h1v1h-1zM380.6 210.0h1v1h-1zM381.9 206.3h1v1h-1zM374.0 208.5h1v1h-1zM381.5 210.6h1v1h-1zM399.8 204.7h1v1h-1zM381.4 208.7h1v1h-1zM390.1 202.6h1v1h-1zM378.1 208.2h1v1h-1zM388.7 201.8h1v1h-1zM376.2 210.1h1v1h-1zM390.9 201.5h1v1h-1zM394.7 201.0h1v1h-1zM380.7 205.9h1v1h-1zM384.4 202.3h1v1h-1zM377.1 205.5h1v1h-1zM373.2 209.0h1v1h-1zM400.3 201.6h1v1h-1zM399.4 200.4h1v1h-1zM389.1 209.1h1v1h-1zM394.9 200.6h1v1h-1zM392.1 200.2h1v1h-1zM375.8 207.2h1v1h-1zM377.3 206.2h1v1h-1zM379.0 211.1h1v1h-1zM382.0 207.8h1v1h-1zM378.2 203.5h1v1h-1zM399.8 201.8h1v1h-1zM399.5 204.4h1v1h-1zM387.6 203.5h1v1h-1zM395.4 203.1h1v1h-1zM378.9 203.9h1v1h-1zM380.7 208.6h1v1h-1zM390.9 201.3h1v1h-1zM382.2 207.5h1v1h-1zM387.2 207.3h1v1h-1zM398.4 204.8h1v1h-1zM376.4 202.3h1v1h-1zM390.3 203.6h1v1h-1zM392.6 203.1h1v1h-1zM375.7 200.7h1v1h-1zM385.0 206.6h1v1h-1zM378.3 208.9h1v1h-1zM389.4 206.5h1v1h-1zM394.6 203.1h1v1h-1zM390.1 206.8h1v1h-1zM389.8 206.6h1v1h-1zM376.9 209.0h1v1h-1zM399.3 210.6h1v1h-1zM385.1 203.2h1v1h-1zM398.3 199.5h1v1h-1zM386.2 199.3h1v1h-1zM384.1 198.0h1v1h-1zM386.7 207.4h1v1h-1zM391.5 196.9h1v1h-1zM397.8 204.8h1v1h-1zM381.7 210.8h1v1h-1zM399.1 201.5h1v1h-1zM397.3 205.7h1v1h-1zM394.9 204.3h1v1h-1zM396.7 205.7h1v1h-1zM389.7 204.2h1v1h-1zM380.6 207.3h1v1h-1zM374.8 202.9h1v1h-1zM383.4 205.2h1v1h-1zM380.5 205.1h1v1h-1zM399.5 201.9h1v1h-1zM397.9 206.0h1v1h-1zM394.1 207.8h1v1h-1zM392.5 201.9h1v1h-1zM397.8 202.4h1v1h-1zM390.3 207.1h1v1h-1zM382.6 201.5h1v1h-1zM390.6 208.5h1v1h-1zM393.1 209.9h1v1h-1zM395.3 208.9h1v1h-1zM375.5 211.3h1v1h-1zM387.6 202.9h1v1h-1zM385.8 207.0h1v1h-1zM374.3 202.7h1v1h-1zM388.6 201.9h1v1h-1zM377.7 210.5h1v1h-1zM394.2 205.5h1v1h-1zM381.4 204.3h1v1h-1zM383.8 204.7h1v1h-1zM381.6 207.2h1v1h-1zM395.4 201.4h1v1h-1zM375.6 209.3h1v1h-1zM396.6 199.1h1v1h-1zM376.2 208.3h1v1h-1zM387.1 204.0h1v1h-1zM380.4 205.8h1v1h-1zM400.1 198.6h1v1h-1zM381.6 204.4h1v1h-1zM394.4 203.5h1v1h-1zM383.1 203.5h1v1h-1zM390.4 204.2h1v1h-1zM394.1 200.4h1v1h-1zM386.9 205.3h1v1h-1zM390.6 205.6h1v1h-1zM389.3 205.5h1v1h-1zM401.7 201.2h1v1h-1zM395.5 202.6h1v1h-1zM383.5 207.0h1v1h-1zM390.2 203.6h1v1h-1zM397.9 201.3h1v1h-1zM394.2 198.8h1v1h-1zM393.6 201.0h1v1h-1zM400.0 200.7h1v1h-1zM385.8 201.9h1v1h-1zM376.9 207.7h1v1h-1zM380.1 209.8h1v1h-1zM391.2 203.1h1v1h-1zM391.1 207.3h1v1h-1zM393.9 204.6h1v1h-1zM398.7 199.8h1v1h-1zM381.1 205.0h1v1h-1zM380.9 206.7h1v1h-1zM397.1 205.9h1v1h-1zM379.0 208.6h1v1h-1zM384.9 206.2h1v1h-1zM377.3 210.4h1v1h-1zM376.9 208.1h1v1h-1zM384.6 204.6h1v1h-1zM384.3 206.0h1v1h-1zM401.2 203.5h1v1h-1zM388.2 208.8h1v1h-1zM383.5 206.6h1v1h-1zM393.5 208.9h1v1h-1zM388.0 204.2h1v1h-1zM379.9 212.0h1v1h-1zM390.7 205.3h1v1h-1zM395.4 203.1h1v1h-1zM374.0 208.2h1v1h-1zM378.6 207.2h1v1h-1zM393.1 202.9h1v1h-1zM397.7 202.9h1v1h-1zM400.1 202.2h1v1h-1zM378.0 201.7h1v1h-1zM374.5 213.1h1v1h-1zM374.9 209.0h1v1h-1zM393.8 203.1h1v1h-1zM394.1 197.9h1v1h-1zM390.7 203.4h1v1h-1zM385.5 210.7h1v1h-1zM386.8 206.9h1v1h-1zM391.4 200.8h1v1h-1zM383.1 205.8h1v1h-1zM395.8 204.2h1v1h-1zM394.6 202.2h1v1h-1zM381.5 203.0h1v1h-1zM400.0 200.4h1v1h-1zM398.8 199.9h1v1h-1zM385.5 207.1h1v1h-1zM402.8 204.7h1v1h-1zM378.7 209.5h1v1h-1zM381.1 207.1h1v1h-1zM391.4 203.9h1v1h-1zM381.0 206.2h1v1h-1zM386.3 207.2h1v1h-1zM391.1 200.8h1v1h-1zM378.8 208.0h1v1h-1zM397.3 203.5h1v1h-1zM402.4 208.2h1v1h-1zM374.1 207.9h1v1h-1zM394.9 200.2h1v1h-1zM396.4 201.4h1v1h-1zM389.6 204.9h1v1h-1zM394.2 199.9h1v1h-1zM376.8 205.9h1v1h-1zM395.7 204.9h1v1h-1zM389.3 206.7h1v1h-1zM391.8 205.6h1v1h-1zM391.0 207.1h1v1h-1zM400.8 204.8h1v1h-1zM375.7 209.3h1v1h-1zM399.4 196.4h1v1h-1zM398.1 197.6h1v1h-1zM384.3 208.4h1v1h-1zM401.4 201.5h1v1h-1zM389.7 209.1h1v1h-1zM398.5 209.2h1v1h-1zM381.0 209.6h1v1h-1zM378.7 205.7h1v1h-1zM374.1 205.3h1v1h-1zM383.7 209.5h1v1h-1zM394.4 204.9h1v1h-1zM381.0 206.8h1v1h-1zM377.7 202.4h1v1h-1zM405.4 201.4h1v1h-1zM384.7 208.0h1v1h-1zM384.0 204.6h1v1h-1zM384.4 203.9h1v1h-1zM389.2 201.7h1v1h-1zM381.8 211.6h1v1h-1zM375.0 210.7h1v1h-1zM388.9 205.6h1v1h-1zM379.2 203.4h1v1h-1zM402.6 194.0h1v1h-1zM374.1 208.2h1v1h-1zM385.2 206.2h1v1h-1zM390.3 206.2h1v1h-1zM380.8 203.6h1v1h-1zM382.6 207.3h1v1h-1zM389.2 198.3h1v1h-1zM396.5 204.8h1v1h-1zM395.6 200.0h1v1h-1zM395.6 202.2h1v1h-1zM380.7 207.4h1v1h-1zM400.9 200.7h1v1h-1zM395.6 201.6h1v1h-1zM388.4 206.2h1v1h-1zM379.2 211.1h1v1h-1zM399.8 201.2h1v1h-1zM379.7 207.4h1v1h-1zM387.2 204.8h1v1h-1zM380.1 205.7h1v1h-1zM399.8 196.8h1v1h-1zM393.3 205.1h1v1h-1zM387.3 204.9h1v1h-1zM394.4 203.0h1v1h-1zM390.7 206.6h1v1h-1zM401.8 201.6h1v1h-1zM379.8 205.9h1v1h-1zM384.9 203.4h1v1h-1zM385.4 204.1h1v1h-1zM380.9 207.6h1v1h-1zM376.8 215.6h1v1h-1zM375.5 209.5h1v1h-1zM394.8 198.9h1v1h-1zM374.8 211.0h1v1h-1zM380.2 206.1h1v1h-1zM380.9 206.1h1v1h-1zM402.0 211.0h1v1h-1zM391.9 202.6h1v1h-1zM374.7 205.8h1v1h-1zM380.3 201.4h1v1h-1zM376.8 206.8h1v1h-1zM385.6 207.6h1v1h-1zM401.4 203.6h1v1h-1zM378.5 209.1h1v1h-1zM400.7 203.4h1v1h-1zM405.8 202.2h1v1h-1zM377.1 212.4h1v1h-1zM386.6 202.6h1v1h-1zM393.6 201.9h1v1h-1zM386.3 206.1h1v1h-1zM398.0 206.8h1v1h-1zM400.8 200.9h1v1h-1zM401.6 200.7h1v1h-1zM380.9 207.4h1v1h-1zM398.0 205.4h1v1h-1zM380.3 207.8h1v1h-1zM399.1 203.0h1v1h-1zM388.3 203.5h1v1h-1zM387.6 205.4h1v1h-1zM389.4 207.6h1v1h-1zM383.0 208.3h1v1h-1zM395.1 203.5h1v1h-1zM398.8 200.7h1v1h-1zM401.2 203.7h1v1h-1zM387.3 202.3h1v1h-1zM390.7 211.8h1v1h-1zM383.7 205.8h1v1h-1zM400.8 202.4h1v1h-1zM385.2 204.6h1v1h-1zM387.3 201.2h1v1h-1zM375.9 205.3h1v1h-1zM400.5 203.7h1v1h-1zM390.5 202.6h1v1h-1zM397.7 200.0h1v1h-1zM379.7 206.1h1v1h-1zM381.4 200.8h1v1h-1zM390.8 206.2h1v1h-1zM382.9 204.7h1v1h-1zM374.7 209.7h1v1h-1zM388.2 199.2h1v1h-1zM399.1 201.3h1v1h-1zM395.8 208.2h1v1h-1zM379.8 206.7h1v1h-1zM382.7 211.5h1v1h-1zM390.8 204.8h1v1h-1zM387.0 206.2h1v1h-1zM378.0 209.8h1v1h-1zM385.3 206.7h1v1h-1zM391.3 204.6h1v1h-1zM401.1 201.0h1v1h-1zM385.9 196.1h1v1h-1zM377.2 207.8h1v1h-1zM388.2 202.0h1v1h-1zM380.3 207.9h1v1h-1zM399.2 205.6h1v1h-1zM375.3 206.9h1v1h-1zM397.5 201.8h1v1h-1zM375.7 210.8h1v1h-1zM396.3 202.3h1v1h-1zM400.2 199.0h1v1h-1zM377.6 212.9h1v1h-1zM374.1 206.4h1v1h-1zM383.8 199.3h1v1h-1zM397.8 200.8h1v1h-1zM373.2 208.7h1v1h-1zM379.6 205.3h1v1h-1zM397.8 202.5h1v1h-1zM398.4 203.8h1v1h-1zM380.7 207.7h1v1h-1zM386.4 201.1h1v1h-1zM373.0 209.4h1v1h-1zM378.1 209.3h1v1h-1zM392.6 205.1h1v1h-1zM377.0 208.1h1v1h-1zM379.7 204.5h1v1h-1zM391.5 202.8h1v1h-1zM392.8 205.8h1v1h-1zM388.8 202.1h1v1h-1zM375.5 201.9h1v1h-1zM391.4 213.9h1v1h-1zM399.6 205.6h1v1h-1zM400.6 208.3h1v1h-1zM400.7 205.2h1v1h-1zM395.2 213.1h1v1h-1zM396.4 214.4h1v1h-1zM396.8 208.2h1v1h-1zM397.3 208.4h1v1h-1zM395.1 211.7h1v1h-1zM385.9 219.7h1v1h-1zM392.7 215.6h1v1h-1zM397.5 213.4h1v1h-1zM397.4 210.1h1v1h-1zM396.0 209.3h1v1h-1zM391.2 214.3h1v1h-1zM394.7 210.0h1v1h-1zM384.3 221.3h1v1h-1zM398.0 212.0h1v1h-1zM385.3 221.7h1v1h-1zM388.1 222.7h1v1h-1zM386.4 220.1h1v1h-1zM381.4 221.0h1v1h-1zM397.6 207.3h1v1h-1zM404.6 209.4h1v1h-1zM391.2 215.6h1v1h-1zM402.3 208.1h1v1h-1zM393.6 215.6h1v1h-1zM402.6 202.1h1v1h-1zM402.8 208.7h1v1h-1zM397.9 211.9h1v1h-1zM400.0 208.5h1v1h-1zM386.2 219.5h1v1h-1zM390.3 217.2h1v1h-1zM394.4 209.8h1v1h-1zM392.2 214.4h1v1h-1zM392.1 212.6h1v1h-1zM387.9 217.6h1v1h-1zM403.0 203.3h1v1h-1zM393.2 217.6h1v1h-1zM398.6 209.2h1v1h-1zM390.1 220.6h1v1h-1zM392.6 213.7h1v1h-1zM392.5 211.3h1v1h-1zM388.7 223.1h1v1h-1zM400.1 207.4h1v1h-1zM385.9 220.5h1v1h-1zM395.0 215.2h1v1h-1zM388.7 218.9h1v1h-1zM388.7 217.5h1v1h-1zM382.8 223.2h1v1h-1zM404.4 207.7h1v1h-1zM391.7 214.6h1v1h-1zM395.4 212.6h1v1h-1zM392.7 213.7h1v1h-1zM387.4 220.1h1v1h-1zM387.4 216.9h1v1h-1zM394.6 213.1h1v1h-1zM393.9 216.6h1v1h-1zM393.1 209.8h1v1h-1zM391.9 214.9h1v1h-1zM385.8 220.5h1v1h-1zM388.2 220.9h1v1h-1zM394.3 212.5h1v1h-1zM402.9 206.7h1v1h-1zM403.7 206.6h1v1h-1zM392.7 219.4h1v1h-1zM393.7 216.3h1v1h-1zM383.0 220.0h1v1h-1zM403.2 207.7h1v1h-1zM387.8 218.5h1v1h-1zM391.4 220.3h1v1h-1zM386.2 222.2h1v1h-1zM401.7 206.5h1v1h-1zM394.0 209.2h1v1h-1zM392.6 213.7h1v1h-1zM391.0 210.8h1v1h-1zM397.9 207.9h1v1h-1zM392.4 214.8h1v1h-1zM396.5 212.9h1v1h-1zM397.2 212.2h1v1h-1zM386.8 221.4h1v1h-1zM399.6 209.3h1v1h-1zM387.3 220.7h1v1h-1zM385.9 218.1h1v1h-1zM388.7 220.2h1v1h-1zM385.7 220.6h1v1h-1zM398.2 206.5h1v1h-1zM394.9 216.6h1v1h-1zM395.4 212.2h1v1h-1zM389.2 220.2h1v1h-1zM385.3 218.5h1v1h-1zM399.8 212.2h1v1h-1zM390.9 216.5h1v1h-1zM392.4 217.7h1v1h-1zM394.7 207.4h1v1h-1zM390.3 218.0h1v1h-1zM397.9 210.3h1v1h-1zM398.8 208.6h1v1h-1zM396.3 212.2h1v1h-1zM401.2 206.6h1v1h-1zM390.7 218.0h1v1h-1zM400.7 206.7h1v1h-1zM400.3 207.8h1v1h-1zM401.4 206.3h1v1h-1zM400.0 208.5h1v1h-1zM401.4 210.5h1v1h-1zM389.5 219.0h1v1h-1zM391.9 213.0h1v1h-1zM392.0 218.0h1v1h-1zM400.9 202.6h1v1h-1zM391.0 220.2h1v1h-1zM399.5 206.3h1v1h-1zM395.8 217.4h1v1h-1zM389.1 219.4h1v1h-1zM399.3 214.0h1v1h-1zM389.5 218.8h1v1h-1zM394.7 213.8h1v1h-1zM398.4 213.7h1v1h-1zM391.1 219.0h1v1h-1zM390.5 217.7h1v1h-1zM393.1 212.6h1v1h-1zM396.8 209.5h1v1h-1zM388.4 218.9h1v1h-1zM387.0 216.4h1v1h-1zM389.5 218.3h1v1h-1zM382.0 223.2h1v1h-1zM390.8 215.3h1v1h-1zM399.1 215.6h1v1h-1zM386.9 220.9h1v1h-1zM398.3 209.7h1v1h-1zM395.8 210.5h1v1h-1zM400.4 207.3h1v1h-1zM393.4 218.9h1v1h-1zM392.0 211.9h1v1h-1zM400.2 201.4h1v1h-1zM397.6 215.6h1v1h-1zM388.8 218.3h1v1h-1zM387.7 219.5h1v1h-1zM394.5 213.8h1v1h-1zM396.6 207.8h1v1h-1zM397.7 209.1h1v1h-1zM382.3 219.2h1v1h-1zM387.0 219.3h1v1h-1zM397.0 208.7h1v1h-1zM398.2 213.7h1v1h-1zM399.4 207.5h1v1h-1zM390.4 223.2h1v1h-1zM390.0 217.2h1v1h-1zM395.8 212.4h1v1h-1zM398.1 207.8h1v1h-1zM388.2 221.2h1v1h-1zM390.5 215.6h1v1h-1zM391.9 216.7h1v1h-1zM388.8 216.2h1v1h-1zM399.7 204.2h1v1h-1zM393.7 209.8h1v1h-1zM390.6 214.3h1v1h-1zM400.2 211.5h1v1h-1zM389.8 217.7h1v1h-1zM389.8 215.9h1v1h-1zM387.6 221.2h1v1h-1zM394.0 213.3h1v1h-1zM390.7 214.7h1v1h-1zM397.0 208.7h1v1h-1zM385.2 221.5h1v1h-1zM387.4 216.5h1v1h-1zM394.5 212.7h1v1h-1zM392.5 218.5h1v1h-1zM388.7 216.7h1v1h-1zM387.3 220.1h1v1h-1zM387.6 216.7h1v1h-1zM385.1 221.4h1v1h-1zM403.0 206.3h1v1h-1zM390.9 216.5h1v1h-1zM395.7 214.7h1v1h-1zM400.8 212.3h1v1h-1zM402.0 206.7h1v1h-1zM396.7 212.0h1v1h-1zM390.4 219.1h1v1h-1zM401.1 210.7h1v1h-1zM393.6 214.1h1v1h-1zM396.7 210.5h1v1h-1zM387.3 220.5h1v1h-1zM398.4 209.0h1v1h-1zM400.1 204.6h1v1h-1zM393.1 210.7h1v1h-1zM389.0 219.2h1v1h-1zM388.1 219.6h1v1h-1zM382.1 214.7h1v1h-1zM379.6 207.8h1v1h-1zM399.3 213.6h1v1h-1zM384.0 223.0h1v1h-1zM378.9 207.0h1v1h-1zM385.9 218.2h1v1h-1zM387.3 209.1h1v1h-1zM376.6 217.8h1v1h-1zM390.3 209.3h1v1h-1zM377.0 203.7h1v1h-1zM378.3 220.2h1v1h-1zM376.7 206.5h1v1h-1zM397.7 219.0h1v1h-1zM386.7 207.5h1v1h-1zM399.9 216.2h1v1h-1zM381.1 211.8h1v1h-1zM390.7 219.6h1v1h-1zM389.2 210.2h1v1h-1zM383.2 208.6h1v1h-1zM388.1 211.7h1v1h-1zM396.7 214.8h1v1h-1zM389.1 216.8h1v1h-1zM386.4 210.4h1v1h-1zM396.0 222.1h1v1h-1zM379.2 222.7h1v1h-1zM381.6 210.1h1v1h-1zM395.5 214.1h1v1h-1zM379.9 210.9h1v1h-1zM378.2 211.2h1v1h-1zM379.3 217.6h1v1h-1zM382.4 216.4h1v1h-1zM382.2 212.4h1v1h-1zM391.3 220.3h1v1h-1zM386.0 218.1h1v1h-1zM381.7 208.8h1v1h-1zM387.6 216.0h1v1h-1zM377.0 213.8h1v1h-1zM379.4 202.8h1v1h-1zM393.5 207.6h1v1h-1zM387.4 206.9h1v1h-1zM384.8 215.0h1v1h-1zM376.3 215.5h1v1h-1zM382.8 209.5h1v1h-1zM390.9 217.1h1v1h-1zM396.9 207.3h1v1h-1zM379.6 212.8h1v1h-1zM377.8 214.3h1v1h-1zM395.4 212.3h1v1h-1zM382.8 209.5h1v1h-1zM380.9 213.1h1v1h-1zM376.1 216.3h1v1h-1zM375.3 197.4h1v1h-1zM392.5 205.5h1v1h-1zM383.7 217.3h1v1h-1zM373.8 213.7h1v1h-1zM384.2 221.4h1v1h-1zM381.9 211.9h1v1h-1zM377.8 210.9h1v1h-1zM392.2 213.0h1v1h-1zM380.5 204.5h1v1h-1zM384.1 205.4h1v1h-1zM375.8 203.4h1v1h-1zM389.8 211.1h1v1h-1zM377.1 204.1h1v1h-1zM379.1 206.9h1v1h-1zM374.6 217.5h1v1h-1zM381.4 211.8h1v1h-1zM378.2 206.8h1v1h-1zM389.4 212.6h1v1h-1zM387.9 211.1h1v1h-1zM386.5 217.0h1v1h-1zM386.3 202.5h1v1h-1zM382.3 218.5h1v1h-1zM382.2 209.6h1v1h-1zM383.3 211.8h1v1h-1zM395.6 217.8h1v1h-1zM384.8 216.6h1v1h-1zM379.4 210.7h1v1h-1zM391.5 210.7h1v1h-1zM381.1 213.5h1v1h-1zM380.9 223.3h1v1h-1zM382.7 208.1h1v1h-1zM374.7 208.0h1v1h-1zM375.0 215.0h1v1h-1zM374.7 198.6h1v1h-1zM379.7 207.7h1v1h-1zM375.7 214.4h1v1h-1zM394.2 218.7h1v1h-1zM377.7 212.2h1v1h-1zM385.1 222.8h1v1h-1zM376.3 220.6h1v1h-1zM389.0 207.7h1v1h-1zM380.0 217.0h1v1h-1zM384.7 216.1h1v1h-1zM377.8 214.4h1v1h-1zM383.8 203.3h1v1h-1zM382.4 222.2h1v1h-1zM386.5 212.9h1v1h-1zM394.7 218.6h1v1h-1zM394.4 204.3h1v1h-1zM379.9 210.1h1v1h-1zM378.6 201.6h1v1h-1zM394.3 214.4h1v1h-1zM388.5 210.3h1v1h-1zM380.6 211.0h1v1h-1zM383.3 218.2h1v1h-1zM388.6 216.2h1v1h-1zM382.6 213.4h1v1h-1zM384.0 219.0h1v1h-1zM383.2 212.4h1v1h-1zM384.9 217.0h1v1h-1zM379.0 220.1h1v1h-1zM376.7 219.7h1v1h-1zM395.7 217.1h1v1h-1zM385.4 212.1h1v1h-1zM394.5 216.1h1v1h-1zM385.1 215.9h1v1h-1zM373.2 214.3h1v1h-1zM389.1 209.1h1v1h-1zM376.3 220.8h1v1h-1zM382.3 223.2h1v1h-1zM384.0 211.6h1v1h-1zM381.5 216.3h1v1h-1zM383.3 210.6h1v1h-1zM397.7 210.6h1v1h-1zM388.3 219.6h1v1h-1zM383.3 220.0h1v1h-1zM378.9 216.7h1v1h-1zM384.9 213.2h1v1h-1zM384.0 215.4h1v1h-1zM391.5 208.5h1v1h-1zM387.8 219.2h1v1h-1zM379.9 207.4h1v1h-1zM383.0 208.9h1v1h-1zM376.1 216.9h1v1h-1zM394.3 206.8h1v1h-1zM388.6 218.0h1v1h-1zM389.0 209.0h1v1h-1zM384.3 220.9h1v1h-1zM392.6 216.7h1v1h-1zM385.4 218.6h1v1h-1zM386.7 217.4h1v1h-1zM373.8 213.9h1v1h-1zM379.1 218.4h1v1h-1zM381.5 213.0h1v1h-1zM397.2 220.9h1v1h-1zM390.2 222.5h1v1h-1zM392.4 205.8h1v1h-1zM383.2 210.9h1v1h-1zM393.6 205.2h1v1h-1zM382.1 222.0h1v1h-1zM386.6 207.3h1v1h-1zM384.1 210.1h1v1h-1zM382.7 222.3h1v1h-1zM382.0 212.0h1v1h-1zM384.1 216.9h1v1h-1zM382.4 210.2h1v1h-1zM378.5 215.0h1v1h-1zM380.7 212.0h1v1h-1zM382.2 168.8h1v1h-1zM391.3 167.8h1v1h-1zM387.6 170.3h1v1h-1zM401.1 172.7h1v1h-1zM387.2 167.9h1v1h-1zM394.0 174.2h1v1h-1zM400.7 173.6h1v1h-1zM404.5 170.8h1v1h-1zM404.9 168.8h1v1h-1zM401.0 168.6h1v1h-1zM399.3 173.8h1v1h-1zM392.0 170.2h1v1h-1zM396.2 167.6h1v1h-1zM381.2 172.0h1v1h-1zM405.8 163.5h1v1h-1zM400.2 171.4h1v1h-1zM407.4 162.7h1v1h-1zM400.5 165.1h1v1h-1zM403.4 169.5h1v1h-1zM388.6 170.5h1v1h-1zM394.7 171.8h1v1h-1zM380.4 173.2h1v1h-1zM395.5 169.5h1v1h-1zM389.0 173.3h1v1h-1zM394.5 165.8h1v1h-1zM380.2 169.7h1v1h-1zM393.9 172.2h1v1h-1zM387.0 172.3h1v1h-1zM397.7 170.0h1v1h-1zM387.3 169.2h1v1h-1zM396.2 166.7h1v1h-1zM399.6 174.4h1v1h-1zM404.1 169.0h1v1h-1zM381.5 165.6h1v1h-1zM396.7 169.4h1v1h-1zM376.6 164.0h1v1h-1zM382.3 167.3h1v1h-1zM395.9 171.2h1v1h-1zM401.5 167.2h1v1h-1zM389.7 165.5h1v1h-1zM389.2 167.7h1v1h-1zM386.8 170.6h1v1h-1zM399.8 169.7h1v1h-1zM388.2 174.4h1v1h-1zM382.5 168.9h1v1h-1zM389.4 168.1h1v1h-1zM392.1 167.7h1v1h-1zM386.4 169.4h1v1h-1zM391.6 170.0h1v1h-1zM388.7 171.9h1v1h-1zM406.7 173.5h1v1h-1zM391.7 170.2h1v1h-1zM387.1 175.8h1v1h-1zM406.1 165.8h1v1h-1zM394.2 165.2h1v1h-1zM400.9 174.1h1v1h-1zM404.6 168.9h1v1h-1zM383.2 168.4h1v1h-1zM402.3 166.0h1v1h-1zM380.8 170.1h1v1h-1zM404.7 168.0h1v1h-1zM393.2 169.8h1v1h-1zM381.9 174.7h1v1h-1zM387.0 165.6h1v1h-1zM403.0 170.4h1v1h-1zM399.7 164.4h1v1h-1zM398.8 165.9h1v1h-1zM394.7 171.2h1v1h-1zM403.3 171.6h1v1h-1zM401.5 165.0h1v1h-1zM391.1 170.0h1v1h-1zM385.4 173.3h1v1h-1zM395.1 171.6h1v1h-1zM381.5 171.2h1v1h-1zM394.0 174.9h1v1h-1zM389.5 167.8h1v1h-1zM388.5 168.6h1v1h-1zM389.8 163.6h1v1h-1zM399.6 170.5h1v1h-1zM405.6 167.1h1v1h-1zM382.2 175.1h1v1h-1zM384.8 169.4h1v1h-1zM397.2 167.8h1v1h-1zM392.2 168.5h1v1h-1zM390.7 165.2h1v1h-1zM387.5 173.2h1v1h-1zM391.8 170.3h1v1h-1zM382.8 170.4h1v1h-1zM382.8 171.4h1v1h-1zM389.8 162.7h1v1h-1zM405.5 171.5h1v1h-1zM405.2 169.7h1v1h-1zM382.5 170.1h1v1h-1zM393.2 173.3h1v1h-1zM404.5 163.7h1v1h-1zM394.0 171.4h1v1h-1zM388.0 172.4h1v1h-1zM383.4 172.3h1v1h-1zM402.5 167.1h1v1h-1zM388.6 168.9h1v1h-1zM385.3 170.1h1v1h-1zM401.6 169.5h1v1h-1zM390.6 169.1h1v1h-1zM396.7 171.3h1v1h-1zM397.2 171.5h1v1h-1zM392.9 172.7h1v1h-1zM401.4 173.6h1v1h-1zM397.8 167.5h1v1h-1zM394.2 165.9h1v1h-1zM384.9 167.1h1v1h-1zM392.5 168.7h1v1h-1zM392.0 168.4h1v1h-1zM383.6 169.5h1v1h-1zM391.2 171.1h1v1h-1zM403.2 169.1h1v1h-1zM401.8 169.7h1v1h-1zM380.8 169.5h1v1h-1zM386.1 172.2h1v1h-1zM386.4 173.5h1v1h-1zM388.9 164.2h1v1h-1zM402.6 171.9h1v1h-1zM398.5 166.9h1v1h-1zM384.3 166.8h1v1h-1zM388.2 169.5h1v1h-1zM403.4 165.3h1v1h-1zM381.1 166.5h1v1h-1zM382.1 169.6h1v1h-1zM386.1 170.9h1v1h-1zM399.6 166.9h1v1h-1zM406.9 173.2h1v1h-1zM402.4 167.3h1v1h-1zM382.4 171.6h1v1h-1zM385.1 167.2h1v1h-1zM386.8 173.2h1v1h-1zM397.1 166.4h1v1h-1zM403.3 166.4h1v1h-1zM398.4 167.5h1v1h-1zM381.8 173.5h1v1h-1zM398.6 172.6h1v1h-1zM379.7 169.2h1v1h-1zM400.0 168.8h1v1h-1zM406.9 175.0h1v1h-1zM405.8 171.2h1v1h-1zM385.1 168.4h1v1h-1zM405.6 166.8h1v1h-1zM399.1 171.3h1v1h-1zM390.1 168.0h1v1h-1zM391.7 168.0h1v1h-1zM390.0 171.6h1v1h-1zM391.4 168.8h1v1h-1zM385.3 171.3h1v1h-1zM400.2 167.1h1v1h-1zM404.8 167.2h1v1h-1zM383.9 170.1h1v1h-1zM396.4 171.0h1v1h-1zM398.5 171.0h1v1h-1zM400.3 174.8h1v1h-1zM397.0 167.7h1v1h-1zM392.2 170.9h1v1h-1zM404.9 170.1h1v1h-1zM402.3 168.3h1v1h-1zM403.7 167.2h1v1h-1zM385.4 167.2h1v1h-1zM385.1 173.7h1v1h-1zM381.3 167.3h1v1h-1zM381.3 169.0h1v1h-1zM379.0 172.8h1v1h-1zM391.1 168.2h1v1h-1zM405.0 166.1h1v1h-1zM379.2 171.1h1v1h-1zM391.4 171.9h1v1h-1zM388.0 172.1h1v1h-1zM393.9 172.5h1v1h-1zM404.0 162.8h1v1h-1zM381.3 169.1h1v1h-1zM401.8 169.2h1v1h-1zM400.4 170.3h1v1h-1zM401.6 166.9h1v1h-1zM382.3 171.7h1v1h-1zM396.2 172.4h1v1h-1zM403.3 169.6h1v1h-1zM407.5 165.1h1v1h-1zM390.3 169.3h1v1h-1zM399.6 167.2h1v1h-1zM381.0 173.3h1v1h-1zM400.9 170.1h1v1h-1zM384.0 172.5h1v1h-1zM387.2 168.0h1v1h-1zM387.0 167.8h1v1h-1zM401.8 164.6h1v1h-1zM389.2 171.9h1v1h-1zM407.5 167.9h1v1h-1zM395.0 172.3h1v1h-1zM394.7 170.6h1v1h-1zM391.4 168.1h1v1h-1zM384.4 170.3h1v1h-1zM380.5 172.0h1v1h-1zM398.0 169.9h1v1h-1zM386.4 174.7h1v1h-1zM386.4 170.3h1v1h-1zM385.6 171.0h1v1h-1zM393.4 166.2h1v1h-1zM396.9 171.9h1v1h-1zM385.8 172.1h1v1h-1zM394.1 168.0h1v1h-1zM387.9 170.7h1v1h-1zM399.0 170.9h1v1h-1zM399.1 168.1h1v1h-1zM405.2 165.0h1v1h-1zM389.3 169.8h1v1h-1zM399.0 169.2h1v1h-1zM384.5 171.9h1v1h-1zM383.6 168.6h1v1h-1zM390.7 172.3h1v1h-1zM390.6 167.5h1v1h-1zM404.1 165.0h1v1h-1zM400.0 171.9h1v1h-1zM400.5 172.0h1v1h-1zM385.3 168.5h1v1h-1zM389.0 169.3h1v1h-1zM404.1 170.6h1v1h-1zM403.3 175.8h1v1h-1zM414.4 183.3h1v1h-1zM405.0 173.7h1v1h-1zM407.5 164.7h1v1h-1zM408.3 181.6h1v1h-1zM406.1 176.5h1v1h-1zM405.1 170.0h1v1h-1zM408.9 165.6h1v1h-1zM413.3 178.4h1v1h-1zM411.8 178.7h1v1h-1zM409.6 194.2h1v1h-1zM406.9 187.0h1v1h-1zM413.7 173.3h1v1h-1zM411.2 192.4h1v1h-1zM407.5 167.4h1v1h-1zM407.9 182.9h1v1h-1zM408.2 179.3h1v1h-1zM406.5 176.7h1v1h-1zM404.3 192.7h1v1h-1zM408.7 189.0h1v1h-1zM406.0 187.2h1v1h-1zM411.2 188.3h1v1h-1zM404.4 176.3h1v1h-1zM404.5 174.9h1v1h-1zM409.1 158.0h1v1h-1zM406.2 182.9h1v1h-1zM406.7 180.9h1v1h-1zM408.5 191.4h1v1h-1zM411.8 182.7h1v1h-1zM409.8 176.5h1v1h-1zM407.6 169.0h1v1h-1zM399.4 176.1h1v1h-1zM408.2 179.9h1v1h-1zM412.1 184.7h1v1h-1zM408.3 175.3h1v1h-1zM410.9 180.8h1v1h-1zM408.8 196.8h1v1h-1zM403.1 191.3h1v1h-1zM401.9 181.1h1v1h-1zM410.4 182.2h1v1h-1zM408.1 181.2h1v1h-1zM406.5 195.5h1v1h-1zM409.4 180.9h1v1h-1zM412.7 182.6h1v1h-1zM405.5 172.9h1v1h-1zM408.7 176.0h1v1h-1zM410.0 184.8h1v1h-1zM414.3 183.9h1v1h-1zM408.2 176.3h1v1h-1zM409.4 173.6h1v1h-1zM412.3 177.1h1v1h-1zM411.4 176.6h1v1h-1zM402.8 174.7h1v1h-1zM401.6 178.6h1v1h-1zM410.2 186.1h1v1h-1zM408.3 188.3h1v1h-1zM416.2 199.8h1v1h-1zM410.1 171.3h1v1h-1zM404.1 176.7h1v1h-1zM406.9 166.0h1v1h-1zM406.6 183.6h1v1h-1zM409.5 168.8h1v1h-1zM403.0 176.8h1v1h-1zM404.0 176.3h1v1h-1zM410.0 176.9h1v1h-1zM408.2 180.6h1v1h-1zM411.4 175.8h1v1h-1zM416.0 175.9h1v1h-1zM408.4 191.7h1v1h-1zM406.8 177.3h1v1h-1zM406.8 186.0h1v1h-1zM407.5 165.3h1v1h-1zM409.9 176.1h1v1h-1zM409.0 185.2h1v1h-1zM408.5 187.3h1v1h-1zM403.4 184.0h1v1h-1zM412.3 177.1h1v1h-1zM409.4 171.0h1v1h-1zM409.8 189.2h1v1h-1zM408.4 167.2h1v1h-1zM411.8 172.7h1v1h-1zM408.5 187.7h1v1h-1zM407.9 199.1h1v1h-1zM404.7 179.3h1v1h-1zM409.4 173.5h1v1h-1zM406.2 171.2h1v1h-1zM410.8 191.0h1v1h-1zM405.3 189.9h1v1h-1zM407.8 190.0h1v1h-1zM405.0 183.8h1v1h-1zM404.4 172.6h1v1h-1zM406.5 195.0h1v1h-1zM407.1 176.2h1v1h-1zM411.8 190.8h1v1h-1zM407.3 171.2h1v1h-1zM403.7 175.7h1v1h-1zM411.5 177.6h1v1h-1zM408.7 169.6h1v1h-1zM407.7 190.7h1v1h-1zM409.3 179.0h1v1h-1zM404.1 176.4h1v1h-1zM403.8 173.5h1v1h-1zM406.7 171.0h1v1h-1zM411.5 188.2h1v1h-1zM409.3 188.0h1v1h-1zM411.9 175.1h1v1h-1zM409.5 181.0h1v1h-1zM408.3 177.4h1v1h-1zM411.3 177.3h1v1h-1zM413.7 177.6h1v1h-1zM409.9 170.2h1v1h-1zM403.8 179.4h1v1h-1zM405.9 181.2h1v1h-1zM406.6 184.3h1v1h-1zM407.9 173.0h1v1h-1zM405.3 174.3h1v1h-1zM412.3 187.7h1v1h-1zM412.1 166.8h1v1h-1zM408.9 179.7h1v1h-1zM407.7 178.0h1v1h-1zM407.5 180.1h1v1h-1zM405.9 173.8h1v1h-1zM408.7 182.7h1v1h-1zM411.9 196.5h1v1h-1zM409.1 184.9h1v1h-1zM410.4 188.4h1v1h-1zM408.4 165.5h1v1h-1zM406.3 174.0h1v1h-1zM411.9 186.2h1v1h-1zM408.7 187.6h1v1h-1zM411.8 174.5h1v1h-1zM404.8 165.9h1v1h-1zM407.3 179.7h1v1h-1zM411.3 179.9h1v1h-1zM412.3 181.0h1v1h-1zM407.9 183.5h1v1h-1zM404.7 191.1h1v1h-1zM409.3 190.6h1v1h-1zM405.5 188.1h1v1h-1zM408.5 176.4h1v1h-1zM408.6 184.4h1v1h-1zM407.5 165.0h1v1h-1zM413.9 181.2h1v1h-1zM411.6 170.5h1v1h-1zM411.7 184.2h1v1h-1zM410.1 173.8h1v1h-1zM411.0 171.7h1v1h-1zM408.3 174.5h1v1h-1zM407.2 170.1h1v1h-1zM405.9 178.1h1v1h-1zM412.5 184.1h1v1h-1zM406.1 176.1h1v1h-1zM404.6 172.9h1v1h-1zM415.4 183.7h1v1h-1zM405.2 175.9h1v1h-1zM410.0 168.6h1v1h-1zM411.5 179.4h1v1h-1zM404.3 189.4h1v1h-1zM408.2 179.3h1v1h-1zM410.4 175.2h1v1h-1zM406.3 179.2h1v1h-1zM407.6 178.7h1v1h-1zM408.8 182.4h1v1h-1zM412.0 185.2h1v1h-1zM409.1 180.2h1v1h-1zM409.7 178.6h1v1h-1zM408.5 177.3h1v1h-1zM408.4 189.3h1v1h-1zM413.3 180.3h1v1h-1zM405.1 164.6h1v1h-1zM408.9 180.0h1v1h-1zM402.1 184.1h1v1h-1zM408.7 170.9h1v1h-1zM406.3 184.9h1v1h-1zM409.9 181.1h1v1h-1zM410.3 186.1h1v1h-1zM405.9 177.6h1v1h-1zM408.7 171.7h1v1h-1zM401.6 188.5h1v1h-1zM404.7 179.9h1v1h-1zM406.4 189.2h1v1h-1zM408.6 186.7h1v1h-1zM408.2 189.0h1v1h-1zM404.8 189.0h1v1h-1zM412.6 181.2h1v1h-1zM409.0 169.2h1v1h-1zM410.1 175.6h1v1h-1zM410.2 183.6h1v1h-1zM410.8 169.8h1v1h-1zM407.8 165.4h1v1h-1zM415.7 173.3h1v1h-1zM408.6 167.2h1v1h-1zM407.7 170.8h1v1h-1zM412.6 178.8h1v1h-1zM407.4 179.0h1v1h-1zM405.5 173.4h1v1h-1zM415.2 176.8h1v1h-1zM413.1 168.6h1v1h-1zM405.8 167.8h1v1h-1zM402.8 172.5h1v1h-1zM406.0 177.1h1v1h-1zM410.0 182.1h1v1h-1zM403.2 181.7h1v1h-1zM407.7 164.9h1v1h-1zM409.9 185.2h1v1h-1zM410.2 169.0h1v1h-1zM415.2 188.7h1v1h-1zM409.1 170.3h1v1h-1zM407.4 175.6h1v1h-1zM412.9 183.4h1v1h-1zM408.7 176.9h1v1h-1zM402.6 161.8h1v1h-1zM410.1 184.2h1v1h-1zM407.2 181.2h1v1h-1zM406.8 183.3h1v1h-1zM409.3 180.9h1v1h-1zM413.6 185.6h1v1h-1zM409.2 184.2h1v1h-1zM409.1 168.9h1v1h-1zM408.1 187.9h1v1h-1zM407.8 170.1h1v1h-1zM406.5 173.5h1v1h-1zM406.6 171.2h1v1h-1zM407.7 167.0h1v1h-1zM407.9 189.4h1v1h-1zM406.3 178.1h1v1h-1zM406.5 171.8h1v1h-1zM404.4 172.9h1v1h-1zM404.0 167.8h1v1h-1zM408.4 165.4h1v1h-1zM406.5 185.0h1v1h-1zM405.1 184.2h1v1h-1zM407.4 169.0h1v1h-1zM409.2 188.7h1v1h-1zM405.0 182.4h1v1h-1zM409.6 179.7h1v1h-1zM407.3 183.6h1v1h-1zM409.3 173.7h1v1h-1zM405.9 181.1h1v1h-1zM405.8 186.2h1v1h-1zM405.8 162.4h1v1h-1zM406.8 190.9h1v1h-1zM409.2 174.0h1v1h-1zM412.0 181.6h1v1h-1zM407.5 173.2h1v1h-1zM413.1 187.0h1v1h-1zM414.2 189.8h1v1h-1zM409.3 181.7h1v1h-1zM410.4 179.8h1v1h-1zM408.4 182.6h1v1h-1zM409.1 186.9h1v1h-1zM412.8 177.6h1v1h-1zM412.4 184.2h1v1h-1zM410.1 176.4h1v1h-1zM405.9 178.5h1v1h-1zM411.0 180.2h1v1h-1zM408.8 189.8h1v1h-1zM410.4 186.6h1v1h-1zM406.9 190.8h1v1h-1zM411.5 181.9h1v1h-1zM413.7 193.3h1v1h-1zM407.8 177.7h1v1h-1zM406.1 171.1h1v1h-1zM411.5 182.4h1v1h-1zM405.7 181.1h1v1h-1zM403.7 186.0h1v1h-1zM406.0 165.9h1v1h-1zM408.6 184.4h1v1h-1zM405.4 182.1h1v1h-1zM408.1 184.0h1v1h-1zM412.9 181.6h1v1h-1zM407.9 179.7h1v1h-1zM409.5 186.6h1v1h-1zM408.5 186.6h1v1h-1zM410.1 192.6h1v1h-1zM403.6 169.2h1v1h-1zM415.4 183.1h1v1h-1zM403.2 189.6h1v1h-1zM406.1 178.9h1v1h-1zM406.7 175.1h1v1h-1zM410.9 174.1h1v1h-1zM408.6 169.8h1v1h-1zM407.2 169.0h1v1h-1zM407.9 185.9h1v1h-1zM411.7 183.3h1v1h-1zM401.6 176.7h1v1h-1zM412.7 191.6h1v1h-1zM406.3 188.7h1v1h-1zM409.5 180.6h1v1h-1zM407.1 191.0h1v1h-1zM408.7 169.7h1v1h-1zM407.1 169.5h1v1h-1zM410.0 174.8h1v1h-1zM410.9 170.1h1v1h-1zM407.3 187.0h1v1h-1zM408.9 183.3h1v1h-1zM411.6 169.0h1v1h-1zM407.2 160.3h1v1h-1zM409.0 168.8h1v1h-1zM407.7 173.5h1v1h-1zM403.9 176.6h1v1h-1zM416.5 178.7h1v1h-1zM406.6 186.4h1v1h-1zM412.0 186.0h1v1h-1zM408.8 186.7h1v1h-1zM411.4 174.7h1v1h-1zM412.4 178.4h1v1h-1zM409.0 173.4h1v1h-1zM411.1 181.6h1v1h-1zM413.3 173.0h1v1h-1zM406.9 180.0h1v1h-1zM410.7 176.2h1v1h-1zM407.8 195.3h1v1h-1zM409.0 171.6h1v1h-1zM402.6 165.9h1v1h-1zM405.2 188.1h1v1h-1zM406.4 176.1h1v1h-1zM409.7 173.9h1v1h-1zM406.5 177.1h1v1h-1zM392.9 183.6h1v1h-1zM399.1 177.3h1v1h-1zM397.9 195.0h1v1h-1zM392.0 189.7h1v1h-1zM404.4 179.9h1v1h-1zM376.9 187.1h1v1h-1zM396.4 187.7h1v1h-1zM389.0 185.6h1v1h-1zM388.3 194.5h1v1h-1zM376.1 190.1h1v1h-1zM376.9 193.9h1v1h-1zM382.1 193.0h1v1h-1zM383.9 189.7h1v1h-1zM389.8 196.1h1v1h-1zM388.6 187.2h1v1h-1zM389.6 182.0h1v1h-1zM403.2 183.8h1v1h-1zM378.7 181.2h1v1h-1zM396.3 195.1h1v1h-1zM392.4 196.1h1v1h-1zM380.9 194.7h1v1h-1zM397.8 181.3h1v1h-1zM376.9 185.5h1v1h-1zM387.0 186.8h1v1h-1zM396.4 181.6h1v1h-1zM381.9 183.6h1v1h-1zM379.0 185.8h1v1h-1zM392.6 182.4h1v1h-1zM378.2 191.6h1v1h-1zM376.7 194.2h1v1h-1zM393.1 181.5h1v1h-1zM374.3 193.9h1v1h-1zM374.7 192.1h1v1h-1zM390.5 190.8h1v1h-1zM380.2 191.6h1v1h-1zM381.9 188.8h1v1h-1zM403.9 188.9h1v1h-1zM379.0 181.8h1v1h-1zM386.6 193.6h1v1h-1zM398.7 184.8h1v1h-1zM392.2 184.1h1v1h-1zM389.2 183.3h1v1h-1zM403.3 184.5h1v1h-1zM383.8 189.4h1v1h-1zM380.8 179.2h1v1h-1zM387.8 193.5h1v1h-1zM385.4 182.7h1v1h-1zM383.0 189.1h1v1h-1zM382.3 187.7h1v1h-1zM389.8 177.8h1v1h-1zM384.0 193.4h1v1h-1zM380.5 192.0h1v1h-1zM376.3 186.8h1v1h-1zM387.1 190.0h1v1h-1zM374.1 179.4h1v1h-1zM386.5 195.4h1v1h-1zM389.6 194.2h1v1h-1zM390.5 196.7h1v1h-1zM376.4 194.4h1v1h-1zM381.9 181.4h1v1h-1z" fill="#5a5a5a" fill-opacity="0.7"/>
</g>
<rect x="372.5" y="141.5" width="106" height="83" fill="none" stroke="#3a3a3a" stroke-width="1.1"/>
<line x1="406.5" y1="141.5" x2="406.5" y2="224.5" stroke="#606060" stroke-width="1.2"/>
<line x1="372.5" y1="197.5" x2="478.5" y2="197.5" stroke="#606060" stroke-width="1.2"/>
<line x1="372.5" y1="224.5" x2="372.5" y2="226.5" stroke="#333" stroke-width="0.7"/>
<line x1="370.5" y1="224.5" x2="372.5" y2="224.5" stroke="#333" stroke-width="0.7"/>
<line x1="380.5" y1="224.5" x2="380.5" y2="225.7" stroke="#555" stroke-width="0.5"/>
<line x1="371.3" y1="218.3" x2="372.5" y2="218.3" stroke="#555" stroke-width="0.5"/>
<line x1="385.1" y1="224.5" x2="385.1" y2="225.7" stroke="#555" stroke-width="0.5"/>
<line x1="371.3" y1="214.6" x2="372.5" y2="214.6" stroke="#555" stroke-width="0.5"/>
<line x1="388.5" y1="224.5" x2="388.5" y2="225.7" stroke="#555" stroke-width="0.5"/>
<line x1="371.3" y1="212" x2="372.5" y2="212" stroke="#555" stroke-width="0.5"/>
<line x1="391" y1="224.5" x2="391" y2="225.7" stroke="#555" stroke-width="0.5"/>
<line x1="371.3" y1="210" x2="372.5" y2="210" stroke="#555" stroke-width="0.5"/>
<line x1="393.1" y1="224.5" x2="393.1" y2="225.7" stroke="#555" stroke-width="0.5"/>
<line x1="371.3" y1="208.4" x2="372.5" y2="208.4" stroke="#555" stroke-width="0.5"/>
<line x1="394.9" y1="224.5" x2="394.9" y2="225.7" stroke="#555" stroke-width="0.5"/>
<line x1="371.3" y1="207" x2="372.5" y2="207" stroke="#555" stroke-width="0.5"/>
<line x1="396.4" y1="224.5" x2="396.4" y2="225.7" stroke="#555" stroke-width="0.5"/>
<line x1="371.3" y1="205.8" x2="372.5" y2="205.8" stroke="#555" stroke-width="0.5"/>
<line x1="397.8" y1="224.5" x2="397.8" y2="225.7" stroke="#555" stroke-width="0.5"/>
<line x1="371.3" y1="204.7" x2="372.5" y2="204.7" stroke="#555" stroke-width="0.5"/>
<text x="371.3" y="234.7" font-size="6.4" fill="#333" text-anchor="middle">10<tspan dy="-3.3" font-size="5.2">0</tspan></text>
<text transform="rotate(-90 367.9 225.7)" x="367.9" y="225.7" font-size="6.4" fill="#333" text-anchor="middle">10<tspan dy="-3.3" font-size="5.2">0</tspan></text>
<line x1="399" y1="224.5" x2="399" y2="226.5" stroke="#333" stroke-width="0.7"/>
<line x1="370.5" y1="203.8" x2="372.5" y2="203.8" stroke="#333" stroke-width="0.7"/>
<line x1="407" y1="224.5" x2="407" y2="225.7" stroke="#555" stroke-width="0.5"/>
<line x1="371.3" y1="197.5" x2="372.5" y2="197.5" stroke="#555" stroke-width="0.5"/>
<line x1="411.6" y1="224.5" x2="411.6" y2="225.7" stroke="#555" stroke-width="0.5"/>
<line x1="371.3" y1="193.8" x2="372.5" y2="193.8" stroke="#555" stroke-width="0.5"/>
<line x1="415" y1="224.5" x2="415" y2="225.7" stroke="#555" stroke-width="0.5"/>
<line x1="371.3" y1="191.3" x2="372.5" y2="191.3" stroke="#555" stroke-width="0.5"/>
<line x1="417.5" y1="224.5" x2="417.5" y2="225.7" stroke="#555" stroke-width="0.5"/>
<line x1="371.3" y1="189.2" x2="372.5" y2="189.2" stroke="#555" stroke-width="0.5"/>
<line x1="419.6" y1="224.5" x2="419.6" y2="225.7" stroke="#555" stroke-width="0.5"/>
<line x1="371.3" y1="187.6" x2="372.5" y2="187.6" stroke="#555" stroke-width="0.5"/>
<line x1="421.4" y1="224.5" x2="421.4" y2="225.7" stroke="#555" stroke-width="0.5"/>
<line x1="371.3" y1="186.2" x2="372.5" y2="186.2" stroke="#555" stroke-width="0.5"/>
<line x1="422.9" y1="224.5" x2="422.9" y2="225.7" stroke="#555" stroke-width="0.5"/>
<line x1="371.3" y1="185" x2="372.5" y2="185" stroke="#555" stroke-width="0.5"/>
<line x1="424.3" y1="224.5" x2="424.3" y2="225.7" stroke="#555" stroke-width="0.5"/>
<line x1="371.3" y1="183.9" x2="372.5" y2="183.9" stroke="#555" stroke-width="0.5"/>
<text x="397.8" y="234.7" font-size="6.4" fill="#333" text-anchor="middle">10<tspan dy="-3.3" font-size="5.2">1</tspan></text>
<text transform="rotate(-90 367.9 204.9)" x="367.9" y="204.9" font-size="6.4" fill="#333" text-anchor="middle">10<tspan dy="-3.3" font-size="5.2">1</tspan></text>
<line x1="425.5" y1="224.5" x2="425.5" y2="226.5" stroke="#333" stroke-width="0.7"/>
<line x1="370.5" y1="183" x2="372.5" y2="183" stroke="#333" stroke-width="0.7"/>
<line x1="433.5" y1="224.5" x2="433.5" y2="225.7" stroke="#555" stroke-width="0.5"/>
<line x1="371.3" y1="176.8" x2="372.5" y2="176.8" stroke="#555" stroke-width="0.5"/>
<line x1="438.1" y1="224.5" x2="438.1" y2="225.7" stroke="#555" stroke-width="0.5"/>
<line x1="371.3" y1="173.1" x2="372.5" y2="173.1" stroke="#555" stroke-width="0.5"/>
<line x1="441.5" y1="224.5" x2="441.5" y2="225.7" stroke="#555" stroke-width="0.5"/>
<line x1="371.3" y1="170.5" x2="372.5" y2="170.5" stroke="#555" stroke-width="0.5"/>
<line x1="444" y1="224.5" x2="444" y2="225.7" stroke="#555" stroke-width="0.5"/>
<line x1="371.3" y1="168.5" x2="372.5" y2="168.5" stroke="#555" stroke-width="0.5"/>
<line x1="446.1" y1="224.5" x2="446.1" y2="225.7" stroke="#555" stroke-width="0.5"/>
<line x1="371.3" y1="166.9" x2="372.5" y2="166.9" stroke="#555" stroke-width="0.5"/>
<line x1="447.9" y1="224.5" x2="447.9" y2="225.7" stroke="#555" stroke-width="0.5"/>
<line x1="371.3" y1="165.5" x2="372.5" y2="165.5" stroke="#555" stroke-width="0.5"/>
<line x1="449.4" y1="224.5" x2="449.4" y2="225.7" stroke="#555" stroke-width="0.5"/>
<line x1="371.3" y1="164.3" x2="372.5" y2="164.3" stroke="#555" stroke-width="0.5"/>
<line x1="450.8" y1="224.5" x2="450.8" y2="225.7" stroke="#555" stroke-width="0.5"/>
<line x1="371.3" y1="163.2" x2="372.5" y2="163.2" stroke="#555" stroke-width="0.5"/>
<text x="424.3" y="234.7" font-size="6.4" fill="#333" text-anchor="middle">10<tspan dy="-3.3" font-size="5.2">2</tspan></text>
<text transform="rotate(-90 367.9 184.2)" x="367.9" y="184.2" font-size="6.4" fill="#333" text-anchor="middle">10<tspan dy="-3.3" font-size="5.2">2</tspan></text>
<line x1="452" y1="224.5" x2="452" y2="226.5" stroke="#333" stroke-width="0.7"/>
<line x1="370.5" y1="162.2" x2="372.5" y2="162.2" stroke="#333" stroke-width="0.7"/>
<line x1="460" y1="224.5" x2="460" y2="225.7" stroke="#555" stroke-width="0.5"/>
<line x1="371.3" y1="156" x2="372.5" y2="156" stroke="#555" stroke-width="0.5"/>
<line x1="464.6" y1="224.5" x2="464.6" y2="225.7" stroke="#555" stroke-width="0.5"/>
<line x1="371.3" y1="152.3" x2="372.5" y2="152.3" stroke="#555" stroke-width="0.5"/>
<line x1="468" y1="224.5" x2="468" y2="225.7" stroke="#555" stroke-width="0.5"/>
<line x1="371.3" y1="149.8" x2="372.5" y2="149.8" stroke="#555" stroke-width="0.5"/>
<line x1="470.5" y1="224.5" x2="470.5" y2="225.7" stroke="#555" stroke-width="0.5"/>
<line x1="371.3" y1="147.7" x2="372.5" y2="147.7" stroke="#555" stroke-width="0.5"/>
<line x1="472.6" y1="224.5" x2="472.6" y2="225.7" stroke="#555" stroke-width="0.5"/>
<line x1="371.3" y1="146.1" x2="372.5" y2="146.1" stroke="#555" stroke-width="0.5"/>
<line x1="474.4" y1="224.5" x2="474.4" y2="225.7" stroke="#555" stroke-width="0.5"/>
<line x1="371.3" y1="144.7" x2="372.5" y2="144.7" stroke="#555" stroke-width="0.5"/>
<line x1="475.9" y1="224.5" x2="475.9" y2="225.7" stroke="#555" stroke-width="0.5"/>
<line x1="371.3" y1="143.5" x2="372.5" y2="143.5" stroke="#555" stroke-width="0.5"/>
<line x1="477.3" y1="224.5" x2="477.3" y2="225.7" stroke="#555" stroke-width="0.5"/>
<line x1="371.3" y1="142.4" x2="372.5" y2="142.4" stroke="#555" stroke-width="0.5"/>
<text x="450.8" y="234.7" font-size="6.4" fill="#333" text-anchor="middle">10<tspan dy="-3.3" font-size="5.2">3</tspan></text>
<text transform="rotate(-90 367.9 163.4)" x="367.9" y="163.4" font-size="6.4" fill="#333" text-anchor="middle">10<tspan dy="-3.3" font-size="5.2">3</tspan></text>
<line x1="478.5" y1="224.5" x2="478.5" y2="226.5" stroke="#333" stroke-width="0.7"/>
<line x1="370.5" y1="141.5" x2="372.5" y2="141.5" stroke="#333" stroke-width="0.7"/>
<text x="477.3" y="234.7" font-size="6.4" fill="#333" text-anchor="middle">10<tspan dy="-3.3" font-size="5.2">4</tspan></text>
<text transform="rotate(-90 367.9 142.7)" x="367.9" y="142.7" font-size="6.4" fill="#333" text-anchor="middle">10<tspan dy="-3.3" font-size="5.2">4</tspan></text>
<text x="424.5" y="241.5" font-size="6" font-weight="normal" text-anchor="middle" fill="#333" >FL1-H</text>
<text x="359" y="183" font-size="6" font-weight="normal" text-anchor="middle" fill="#333" transform="rotate(-90 359 183)">FL3-H</text>
<text x="579.8" y="136.2" font-size="10.2" font-weight="bold" text-anchor="middle" fill="#000" >resveratrol 200 μM</text>
<g filter="url(#soft)">
<polygon points="538,168.5 546,166.5 555,167.5 558,172 557,184 555,185 552,176 538,173" fill="#8c8c8c"/>
<path d="M540.5 172.0h1v1h-1zM538.7 171.7h1v1h-1zM557.0 162.9h1v1h-1zM537.0 169.7h1v1h-1zM538.4 171.7h1v1h-1zM557.9 163.0h1v1h-1zM553.6 170.6h1v1h-1zM548.2 163.0h1v1h-1zM557.3 170.0h1v1h-1zM548.5 168.6h1v1h-1zM548.8 173.1h1v1h-1zM553.0 167.2h1v1h-1zM552.0 165.1h1v1h-1zM552.1 167.9h1v1h-1zM546.9 169.7h1v1h-1zM540.9 169.1h1v1h-1zM533.0 169.1h1v1h-1zM544.6 169.6h1v1h-1zM558.6 170.4h1v1h-1zM537.0 168.5h1v1h-1zM541.9 167.1h1v1h-1zM547.7 168.3h1v1h-1zM535.0 175.8h1v1h-1zM548.5 171.5h1v1h-1zM536.9 170.6h1v1h-1zM554.4 164.0h1v1h-1zM551.7 168.3h1v1h-1zM543.6 168.9h1v1h-1zM545.9 168.1h1v1h-1zM553.1 170.0h1v1h-1zM545.4 171.7h1v1h-1zM556.9 168.0h1v1h-1zM535.8 175.4h1v1h-1zM541.8 171.0h1v1h-1zM556.3 168.5h1v1h-1zM535.6 171.4h1v1h-1zM550.3 169.3h1v1h-1zM545.3 179.7h1v1h-1zM532.7 169.6h1v1h-1zM545.5 169.3h1v1h-1zM538.6 170.6h1v1h-1zM543.6 175.8h1v1h-1zM553.3 168.1h1v1h-1zM539.4 172.2h1v1h-1zM539.5 169.0h1v1h-1zM536.6 169.1h1v1h-1zM554.2 171.2h1v1h-1zM550.2 163.9h1v1h-1zM546.5 170.4h1v1h-1zM558.5 163.9h1v1h-1zM539.4 165.3h1v1h-1zM550.0 165.4h1v1h-1zM548.7 166.5h1v1h-1zM556.8 167.5h1v1h-1zM560.2 166.5h1v1h-1zM535.0 169.9h1v1h-1zM556.9 166.7h1v1h-1zM535.5 167.5h1v1h-1zM552.9 167.5h1v1h-1zM533.4 170.8h1v1h-1zM557.6 171.6h1v1h-1zM554.4 165.6h1v1h-1zM555.9 172.2h1v1h-1zM543.9 166.6h1v1h-1zM544.3 169.2h1v1h-1zM531.9 168.9h1v1h-1zM553.8 166.9h1v1h-1zM542.3 166.1h1v1h-1zM535.2 166.2h1v1h-1zM533.2 169.9h1v1h-1zM552.1 170.3h1v1h-1zM546.0 169.0h1v1h-1zM532.8 166.3h1v1h-1zM542.2 171.6h1v1h-1zM556.2 170.8h1v1h-1zM536.7 175.7h1v1h-1zM543.9 167.8h1v1h-1zM555.4 169.5h1v1h-1zM544.0 172.5h1v1h-1zM555.5 167.5h1v1h-1zM538.6 168.9h1v1h-1zM550.1 168.6h1v1h-1zM540.2 167.8h1v1h-1zM555.0 167.9h1v1h-1zM548.6 167.0h1v1h-1zM551.5 169.2h1v1h-1zM543.0 166.0h1v1h-1zM547.3 169.4h1v1h-1zM550.4 171.7h1v1h-1zM537.3 171.4h1v1h-1zM555.1 174.0h1v1h-1zM540.6 168.4h1v1h-1zM550.2 170.5h1v1h-1zM557.7 171.7h1v1h-1zM541.0 170.5h1v1h-1zM537.1 169.2h1v1h-1zM554.8 161.2h1v1h-1zM534.9 168.7h1v1h-1zM550.5 167.1h1v1h-1zM559.4 170.5h1v1h-1zM549.8 164.5h1v1h-1zM552.3 174.6h1v1h-1zM539.7 165.9h1v1h-1zM550.1 170.6h1v1h-1zM536.5 162.7h1v1h-1zM553.8 169.6h1v1h-1zM553.0 171.2h1v1h-1zM534.3 174.4h1v1h-1zM548.9 166.7h1v1h-1zM555.9 166.4h1v1h-1zM540.6 169.3h1v1h-1zM554.6 166.2h1v1h-1zM535.2 172.8h1v1h-1zM558.9 164.5h1v1h-1zM536.8 173.0h1v1h-1zM558.5 172.2h1v1h-1zM545.2 166.4h1v1h-1zM538.4 169.8h1v1h-1zM537.1 171.2h1v1h-1zM541.8 174.1h1v1h-1zM542.6 167.0h1v1h-1zM548.5 162.3h1v1h-1zM554.5 164.2h1v1h-1zM549.9 164.8h1v1h-1zM547.7 174.0h1v1h-1zM546.2 170.1h1v1h-1zM554.8 170.9h1v1h-1zM551.2 166.6h1v1h-1zM542.2 170.0h1v1h-1zM560.0 168.8h1v1h-1zM539.0 175.3h1v1h-1zM553.9 171.9h1v1h-1zM544.7 167.4h1v1h-1zM556.8 168.0h1v1h-1zM557.8 166.6h1v1h-1zM555.5 164.6h1v1h-1zM532.5 166.1h1v1h-1zM538.1 164.8h1v1h-1zM550.8 169.9h1v1h-1zM541.2 166.7h1v1h-1zM542.9 167.4h1v1h-1zM543.6 164.4h1v1h-1zM557.5 164.9h1v1h-1zM548.5 166.3h1v1h-1zM557.2 168.5h1v1h-1zM548.3 168.5h1v1h-1zM547.9 170.9h1v1h-1zM535.6 164.3h1v1h-1zM554.5 174.1h1v1h-1zM553.6 168.1h1v1h-1zM552.1 165.1h1v1h-1zM533.4 170.1h1v1h-1zM546.1 171.6h1v1h-1zM555.2 162.4h1v1h-1zM538.4 172.6h1v1h-1zM529.2 175.1h1v1h-1zM552.9 166.4h1v1h-1zM551.0 164.0h1v1h-1zM544.1 170.0h1v1h-1zM556.6 166.9h1v1h-1zM549.5 170.7h1v1h-1zM552.8 171.8h1v1h-1zM538.9 170.1h1v1h-1zM538.6 176.6h1v1h-1zM536.4 169.3h1v1h-1zM558.1 168.7h1v1h-1zM541.0 168.4h1v1h-1zM554.3 167.9h1v1h-1zM535.7 172.3h1v1h-1zM537.3 176.2h1v1h-1zM537.5 170.2h1v1h-1zM544.9 163.5h1v1h-1zM535.6 169.2h1v1h-1zM554.3 169.4h1v1h-1zM537.7 171.1h1v1h-1zM538.4 177.4h1v1h-1zM544.2 175.7h1v1h-1zM538.4 177.7h1v1h-1zM554.6 160.1h1v1h-1zM537.0 168.1h1v1h-1zM550.2 167.5h1v1h-1zM539.5 172.9h1v1h-1zM544.8 168.4h1v1h-1zM553.4 164.1h1v1h-1zM534.8 172.6h1v1h-1zM537.8 169.3h1v1h-1zM547.6 171.2h1v1h-1zM551.9 167.9h1v1h-1zM543.1 169.5h1v1h-1zM535.0 176.1h1v1h-1zM553.5 167.1h1v1h-1zM532.9 175.3h1v1h-1zM544.1 171.9h1v1h-1zM543.3 171.9h1v1h-1zM539.8 171.5h1v1h-1zM550.4 169.2h1v1h-1zM536.4 167.7h1v1h-1zM547.5 168.7h1v1h-1zM535.5 167.7h1v1h-1zM547.9 168.3h1v1h-1zM544.3 167.9h1v1h-1zM534.7 173.1h1v1h-1zM542.8 173.4h1v1h-1zM535.6 174.1h1v1h-1zM551.1 167.3h1v1h-1zM538.2 173.3h1v1h-1zM544.0 173.6h1v1h-1zM536.9 170.6h1v1h-1zM550.2 162.9h1v1h-1zM535.9 166.6h1v1h-1zM536.0 165.3h1v1h-1zM538.3 168.8h1v1h-1zM546.6 168.2h1v1h-1zM530.5 171.7h1v1h-1zM536.6 170.7h1v1h-1zM554.3 167.0h1v1h-1zM540.1 170.1h1v1h-1zM548.6 164.5h1v1h-1zM534.1 171.2h1v1h-1zM545.0 168.2h1v1h-1zM557.7 166.5h1v1h-1zM542.0 167.0h1v1h-1zM558.1 167.5h1v1h-1zM538.2 169.6h1v1h-1zM533.4 167.2h1v1h-1zM546.2 168.5h1v1h-1zM552.2 169.9h1v1h-1zM539.1 173.6h1v1h-1zM540.3 171.9h1v1h-1zM549.8 171.8h1v1h-1zM535.9 170.3h1v1h-1zM550.2 167.4h1v1h-1zM538.5 173.8h1v1h-1zM544.6 168.7h1v1h-1zM549.7 171.8h1v1h-1zM546.8 167.6h1v1h-1zM549.0 176.1h1v1h-1zM549.3 161.2h1v1h-1zM543.4 171.6h1v1h-1zM540.4 172.4h1v1h-1zM536.6 170.5h1v1h-1zM541.3 167.5h1v1h-1zM555.1 165.4h1v1h-1zM554.3 169.3h1v1h-1zM558.1 167.6h1v1h-1zM557.6 168.0h1v1h-1zM547.2 171.3h1v1h-1zM556.0 169.0h1v1h-1zM543.9 167.0h1v1h-1zM535.5 169.4h1v1h-1zM540.7 171.1h1v1h-1zM543.7 165.7h1v1h-1zM556.3 169.9h1v1h-1zM552.0 168.6h1v1h-1zM549.9 166.8h1v1h-1zM553.5 169.7h1v1h-1zM544.5 171.2h1v1h-1zM539.9 170.7h1v1h-1zM533.0 171.9h1v1h-1zM553.2 166.6h1v1h-1zM551.3 166.7h1v1h-1zM559.4 171.9h1v1h-1zM558.8 167.2h1v1h-1zM547.9 170.4h1v1h-1zM552.5 166.0h1v1h-1zM555.7 170.4h1v1h-1zM535.9 167.9h1v1h-1zM549.9 170.6h1v1h-1zM546.3 167.4h1v1h-1zM540.2 172.4h1v1h-1zM536.3 170.2h1v1h-1zM550.7 165.2h1v1h-1zM551.3 170.0h1v1h-1zM541.7 174.5h1v1h-1zM544.2 162.1h1v1h-1zM553.7 160.6h1v1h-1zM556.1 165.0h1v1h-1zM545.8 164.0h1v1h-1zM555.4 163.4h1v1h-1zM538.4 168.8h1v1h-1zM549.3 169.2h1v1h-1zM558.1 165.8h1v1h-1zM535.6 166.2h1v1h-1zM538.4 165.2h1v1h-1zM547.3 170.0h1v1h-1zM531.6 172.5h1v1h-1zM549.5 174.1h1v1h-1zM533.6 169.6h1v1h-1zM534.4 176.0h1v1h-1zM540.8 170.5h1v1h-1zM539.4 168.0h1v1h-1zM552.3 167.1h1v1h-1zM550.0 170.3h1v1h-1zM536.6 168.6h1v1h-1zM552.2 166.5h1v1h-1zM538.2 173.8h1v1h-1zM546.2 172.1h1v1h-1zM551.7 164.6h1v1h-1zM552.5 164.3h1v1h-1zM545.6 163.4h1v1h-1zM536.4 172.1h1v1h-1zM546.0 166.6h1v1h-1zM552.7 170.9h1v1h-1zM538.2 168.3h1v1h-1zM531.1 173.3h1v1h-1zM554.0 174.6h1v1h-1zM555.2 172.5h1v1h-1zM559.4 166.6h1v1h-1zM540.0 168.5h1v1h-1zM549.9 174.6h1v1h-1zM548.1 170.2h1v1h-1zM534.2 171.0h1v1h-1zM545.6 174.7h1v1h-1zM553.6 173.4h1v1h-1zM547.0 175.5h1v1h-1zM531.0 173.4h1v1h-1zM532.9 170.8h1v1h-1zM541.3 167.9h1v1h-1zM558.6 167.2h1v1h-1zM551.9 169.0h1v1h-1zM538.0 166.9h1v1h-1zM547.1 170.5h1v1h-1zM538.4 169.2h1v1h-1zM542.1 175.3h1v1h-1zM550.4 163.2h1v1h-1zM545.1 170.8h1v1h-1zM549.4 162.2h1v1h-1zM553.7 167.7h1v1h-1zM558.8 169.1h1v1h-1zM544.4 166.6h1v1h-1zM535.7 170.3h1v1h-1zM543.4 172.0h1v1h-1zM547.7 169.9h1v1h-1zM543.9 167.1h1v1h-1zM537.0 171.9h1v1h-1zM533.6 170.0h1v1h-1zM556.6 173.1h1v1h-1zM532.3 171.0h1v1h-1zM552.5 166.7h1v1h-1zM534.0 167.7h1v1h-1zM541.2 172.0h1v1h-1zM546.6 170.0h1v1h-1zM548.2 169.0h1v1h-1zM552.9 167.1h1v1h-1zM542.3 168.4h1v1h-1zM553.8 171.7h1v1h-1zM545.9 168.1h1v1h-1zM550.1 167.9h1v1h-1zM549.5 173.5h1v1h-1zM559.5 167.6h1v1h-1zM550.0 168.5h1v1h-1zM535.1 173.2h1v1h-1zM553.7 164.5h1v1h-1zM557.8 162.2h1v1h-1zM548.7 173.7h1v1h-1zM552.0 167.7h1v1h-1zM532.7 172.9h1v1h-1zM545.2 171.2h1v1h-1zM543.6 170.9h1v1h-1zM550.6 172.5h1v1h-1zM540.7 169.1h1v1h-1zM543.2 166.1h1v1h-1zM545.1 168.2h1v1h-1zM552.6 167.8h1v1h-1zM541.2 174.0h1v1h-1zM541.1 169.0h1v1h-1zM554.0 165.6h1v1h-1zM548.1 162.5h1v1h-1zM539.4 168.6h1v1h-1zM540.1 173.5h1v1h-1zM543.4 167.4h1v1h-1zM536.4 167.6h1v1h-1zM559.7 166.4h1v1h-1zM542.8 166.5h1v1h-1zM544.5 172.4h1v1h-1zM556.1 163.0h1v1h-1zM555.0 175.0h1v1h-1zM539.9 172.4h1v1h-1zM536.8 174.5h1v1h-1zM535.2 172.2h1v1h-1zM558.7 169.4h1v1h-1zM545.7 171.7h1v1h-1zM540.5 172.7h1v1h-1zM544.8 169.7h1v1h-1zM547.2 169.0h1v1h-1zM546.1 171.9h1v1h-1zM534.7 169.8h1v1h-1zM550.0 164.8h1v1h-1zM548.6 168.1h1v1h-1zM555.3 169.1h1v1h-1zM537.4 170.9h1v1h-1zM546.8 174.4h1v1h-1zM534.6 165.0h1v1h-1zM553.6 166.0h1v1h-1zM556.8 168.9h1v1h-1zM537.5 171.8h1v1h-1zM551.6 170.2h1v1h-1zM534.5 165.2h1v1h-1zM536.0 171.9h1v1h-1zM560.1 169.2h1v1h-1zM556.4 171.9h1v1h-1zM540.1 167.2h1v1h-1zM538.6 168.4h1v1h-1zM553.4 163.3h1v1h-1zM549.5 168.8h1v1h-1zM556.0 162.9h1v1h-1zM551.9 171.7h1v1h-1zM551.5 170.1h1v1h-1zM552.9 165.9h1v1h-1zM532.6 172.6h1v1h-1zM548.2 166.2h1v1h-1zM544.2 168.5h1v1h-1zM546.2 170.5h1v1h-1zM552.7 171.7h1v1h-1zM541.2 169.9h1v1h-1zM540.7 174.0h1v1h-1zM551.2 170.7h1v1h-1zM550.4 169.0h1v1h-1zM535.4 166.3h1v1h-1zM555.2 169.8h1v1h-1zM535.3 169.6h1v1h-1zM537.6 169.5h1v1h-1zM553.6 170.3h1v1h-1zM551.7 170.9h1v1h-1zM549.2 166.1h1v1h-1zM555.5 167.7h1v1h-1zM541.2 170.3h1v1h-1zM551.1 172.2h1v1h-1zM532.1 172.2h1v1h-1zM548.4 168.9h1v1h-1zM539.6 171.5h1v1h-1zM534.5 170.8h1v1h-1zM535.7 170.6h1v1h-1zM553.9 167.8h1v1h-1zM539.2 169.8h1v1h-1zM535.2 167.7h1v1h-1zM544.8 167.2h1v1h-1zM547.4 171.1h1v1h-1zM549.6 173.2h1v1h-1zM554.3 168.0h1v1h-1zM544.3 171.1h1v1h-1zM545.0 167.8h1v1h-1zM555.8 161.7h1v1h-1zM552.7 173.0h1v1h-1zM546.8 174.2h1v1h-1zM543.5 164.6h1v1h-1zM545.4 173.8h1v1h-1zM539.9 174.7h1v1h-1zM538.8 173.2h1v1h-1zM551.7 170.9h1v1h-1zM534.5 175.7h1v1h-1zM545.5 165.0h1v1h-1zM533.2 175.1h1v1h-1zM543.4 169.4h1v1h-1zM556.7 163.2h1v1h-1zM554.9 168.8h1v1h-1zM543.6 163.9h1v1h-1zM549.5 164.5h1v1h-1zM555.0 172.4h1v1h-1zM545.8 170.5h1v1h-1zM548.5 171.7h1v1h-1zM547.0 171.2h1v1h-1zM532.7 175.3h1v1h-1zM539.0 171.8h1v1h-1zM548.1 166.9h1v1h-1zM554.5 168.2h1v1h-1zM535.5 169.5h1v1h-1zM551.7 170.9h1v1h-1zM536.2 168.0h1v1h-1zM555.4 164.1h1v1h-1zM542.1 167.9h1v1h-1zM557.5 169.5h1v1h-1zM556.9 163.6h1v1h-1zM546.1 169.5h1v1h-1zM552.7 172.2h1v1h-1zM545.5 170.2h1v1h-1zM534.3 168.6h1v1h-1zM542.8 166.8h1v1h-1zM534.0 172.7h1v1h-1zM546.8 169.4h1v1h-1zM554.4 165.7h1v1h-1zM537.6 173.9h1v1h-1zM547.1 170.2h1v1h-1zM536.9 172.1h1v1h-1zM553.3 167.9h1v1h-1zM532.8 175.1h1v1h-1zM559.6 168.5h1v1h-1zM546.9 166.9h1v1h-1zM546.9 168.7h1v1h-1zM557.5 159.9h1v1h-1zM550.5 165.1h1v1h-1zM554.5 165.8h1v1h-1zM554.5 164.7h1v1h-1zM539.6 174.2h1v1h-1zM550.6 164.4h1v1h-1zM533.8 171.5h1v1h-1zM556.5 165.0h1v1h-1zM547.7 166.9h1v1h-1zM549.3 170.9h1v1h-1zM553.1 172.6h1v1h-1zM556.5 167.9h1v1h-1zM551.9 168.6h1v1h-1zM553.7 167.7h1v1h-1zM556.3 170.8h1v1h-1zM541.3 166.0h1v1h-1zM544.1 169.5h1v1h-1zM553.2 164.9h1v1h-1zM537.2 170.9h1v1h-1zM542.0 169.7h1v1h-1zM547.1 167.2h1v1h-1zM540.4 171.0h1v1h-1zM546.3 168.2h1v1h-1zM543.9 169.0h1v1h-1zM539.7 176.2h1v1h-1zM550.3 165.8h1v1h-1zM545.4 172.1h1v1h-1zM554.7 167.9h1v1h-1zM548.6 168.6h1v1h-1zM534.6 167.7h1v1h-1zM551.9 173.2h1v1h-1zM553.5 173.4h1v1h-1zM531.9 166.7h1v1h-1zM550.6 171.2h1v1h-1zM539.7 167.9h1v1h-1zM550.4 168.5h1v1h-1zM559.6 165.8h1v1h-1zM550.6 167.0h1v1h-1zM541.7 165.5h1v1h-1zM551.7 165.4h1v1h-1zM536.5 164.6h1v1h-1zM544.7 174.4h1v1h-1zM538.6 174.0h1v1h-1zM545.0 168.8h1v1h-1zM555.9 171.2h1v1h-1zM532.0 173.4h1v1h-1zM557.0 169.2h1v1h-1zM556.7 166.3h1v1h-1zM547.5 166.9h1v1h-1zM542.9 170.3h1v1h-1zM539.4 170.9h1v1h-1zM545.3 163.4h1v1h-1zM533.5 175.1h1v1h-1zM556.4 169.4h1v1h-1zM553.2 172.3h1v1h-1zM556.1 170.3h1v1h-1zM549.3 170.8h1v1h-1zM544.4 171.0h1v1h-1zM546.5 166.0h1v1h-1zM537.3 172.7h1v1h-1zM540.5 166.9h1v1h-1zM552.4 171.6h1v1h-1zM556.8 162.0h1v1h-1zM551.9 168.8h1v1h-1zM536.9 169.4h1v1h-1zM555.6 176.0h1v1h-1zM537.2 167.9h1v1h-1zM546.6 168.4h1v1h-1zM546.6 167.0h1v1h-1zM534.1 169.2h1v1h-1zM537.6 174.3h1v1h-1zM554.2 178.9h1v1h-1zM553.9 171.8h1v1h-1zM556.8 170.2h1v1h-1zM558.0 175.2h1v1h-1zM554.0 171.5h1v1h-1zM554.5 186.0h1v1h-1zM554.5 169.3h1v1h-1zM554.2 174.9h1v1h-1zM550.4 176.8h1v1h-1zM554.2 181.3h1v1h-1zM552.0 178.2h1v1h-1zM558.6 174.0h1v1h-1zM560.0 183.3h1v1h-1zM557.9 169.7h1v1h-1zM555.6 181.4h1v1h-1zM550.2 188.9h1v1h-1zM551.3 188.3h1v1h-1zM550.9 180.4h1v1h-1zM552.9 191.1h1v1h-1zM556.4 177.1h1v1h-1zM555.6 171.0h1v1h-1zM557.0 180.9h1v1h-1zM554.0 191.5h1v1h-1zM557.0 172.5h1v1h-1zM553.6 184.1h1v1h-1zM557.6 170.1h1v1h-1zM555.9 180.1h1v1h-1zM554.7 183.1h1v1h-1zM557.6 187.0h1v1h-1zM557.5 167.8h1v1h-1zM556.3 178.3h1v1h-1zM553.4 176.7h1v1h-1zM555.0 173.1h1v1h-1zM556.2 181.8h1v1h-1zM552.6 177.7h1v1h-1zM554.4 177.9h1v1h-1zM553.0 185.5h1v1h-1zM555.7 179.9h1v1h-1zM553.4 176.5h1v1h-1zM557.0 170.0h1v1h-1zM554.6 175.8h1v1h-1zM553.8 175.9h1v1h-1zM552.2 187.5h1v1h-1zM555.1 179.9h1v1h-1zM554.4 183.2h1v1h-1zM557.9 170.1h1v1h-1zM552.2 171.9h1v1h-1zM554.9 176.6h1v1h-1zM556.9 170.3h1v1h-1zM552.7 175.4h1v1h-1zM556.5 168.7h1v1h-1zM553.1 187.1h1v1h-1zM553.1 175.4h1v1h-1zM555.3 184.4h1v1h-1zM555.0 179.7h1v1h-1zM554.5 187.9h1v1h-1zM550.8 178.3h1v1h-1zM555.4 175.2h1v1h-1zM556.0 181.2h1v1h-1zM552.1 173.7h1v1h-1zM557.1 180.0h1v1h-1zM555.2 184.4h1v1h-1zM558.3 175.2h1v1h-1zM556.1 183.2h1v1h-1zM552.6 177.2h1v1h-1zM556.7 168.4h1v1h-1zM554.2 171.2h1v1h-1zM555.4 170.6h1v1h-1zM552.6 187.6h1v1h-1zM553.8 188.5h1v1h-1zM556.2 184.3h1v1h-1zM551.9 177.2h1v1h-1zM555.6 187.8h1v1h-1zM555.1 168.6h1v1h-1zM557.0 183.1h1v1h-1zM558.2 178.2h1v1h-1zM553.9 185.4h1v1h-1zM553.9 168.5h1v1h-1zM555.8 176.4h1v1h-1zM553.0 167.6h1v1h-1zM554.4 175.5h1v1h-1zM554.4 189.5h1v1h-1zM557.1 181.3h1v1h-1zM555.5 167.9h1v1h-1zM556.8 175.9h1v1h-1zM551.7 186.3h1v1h-1zM552.0 184.0h1v1h-1zM557.7 184.2h1v1h-1zM550.9 168.5h1v1h-1zM552.7 189.7h1v1h-1zM554.6 169.2h1v1h-1zM555.8 170.8h1v1h-1zM555.2 191.5h1v1h-1zM556.2 190.4h1v1h-1zM555.1 182.9h1v1h-1zM555.9 182.3h1v1h-1zM556.5 187.1h1v1h-1zM556.9 167.7h1v1h-1zM558.1 169.1h1v1h-1zM558.4 183.6h1v1h-1zM553.9 183.8h1v1h-1zM555.2 187.8h1v1h-1zM553.2 182.1h1v1h-1zM550.9 174.0h1v1h-1zM552.3 182.0h1v1h-1zM555.2 191.3h1v1h-1zM552.7 187.2h1v1h-1zM554.8 170.1h1v1h-1zM557.3 170.6h1v1h-1zM553.2 180.6h1v1h-1zM552.3 171.9h1v1h-1zM552.0 176.9h1v1h-1zM555.3 175.9h1v1h-1zM554.5 173.4h1v1h-1zM553.8 167.5h1v1h-1zM555.8 181.2h1v1h-1zM557.6 184.9h1v1h-1zM558.9 175.8h1v1h-1zM558.9 173.1h1v1h-1zM554.1 182.7h1v1h-1zM554.7 185.6h1v1h-1zM553.4 184.1h1v1h-1zM552.0 183.8h1v1h-1zM556.1 168.1h1v1h-1zM553.1 172.8h1v1h-1zM552.0 182.0h1v1h-1zM555.3 182.8h1v1h-1zM557.0 178.6h1v1h-1zM556.6 183.3h1v1h-1zM555.1 188.0h1v1h-1zM556.9 186.9h1v1h-1zM554.4 172.9h1v1h-1zM556.7 181.0h1v1h-1zM554.8 169.8h1v1h-1zM554.9 185.8h1v1h-1zM554.4 182.8h1v1h-1zM556.1 186.7h1v1h-1zM556.4 179.6h1v1h-1zM554.2 176.4h1v1h-1zM553.0 190.1h1v1h-1zM553.6 184.9h1v1h-1zM553.2 188.6h1v1h-1zM560.1 176.0h1v1h-1zM561.3 171.1h1v1h-1zM553.9 173.7h1v1h-1zM558.5 174.3h1v1h-1zM557.1 173.0h1v1h-1zM552.2 187.9h1v1h-1zM552.2 188.2h1v1h-1zM553.9 179.8h1v1h-1zM557.2 169.6h1v1h-1zM554.5 181.3h1v1h-1zM555.0 173.4h1v1h-1zM553.6 169.9h1v1h-1zM555.3 170.2h1v1h-1zM558.3 185.4h1v1h-1zM552.7 187.9h1v1h-1zM555.6 185.4h1v1h-1zM552.9 171.7h1v1h-1zM555.5 168.4h1v1h-1zM550.9 182.6h1v1h-1zM556.4 172.8h1v1h-1zM553.0 171.5h1v1h-1zM552.9 172.5h1v1h-1zM554.6 174.3h1v1h-1zM550.0 186.4h1v1h-1zM558.6 180.7h1v1h-1zM557.0 179.1h1v1h-1zM557.0 177.7h1v1h-1zM554.2 171.7h1v1h-1zM555.9 189.2h1v1h-1zM554.4 169.6h1v1h-1zM556.1 176.4h1v1h-1zM556.5 185.2h1v1h-1zM555.0 184.6h1v1h-1zM553.3 168.4h1v1h-1zM557.7 178.3h1v1h-1zM558.1 171.9h1v1h-1zM553.1 170.2h1v1h-1zM557.5 178.2h1v1h-1zM557.4 176.4h1v1h-1zM554.6 175.2h1v1h-1zM552.0 187.4h1v1h-1zM555.7 168.9h1v1h-1zM553.6 176.5h1v1h-1zM555.0 171.3h1v1h-1zM560.6 187.9h1v1h-1zM553.3 180.2h1v1h-1zM555.0 187.1h1v1h-1zM554.7 175.9h1v1h-1zM553.1 185.7h1v1h-1zM557.3 177.8h1v1h-1zM558.4 183.0h1v1h-1zM558.8 168.8h1v1h-1zM554.9 174.8h1v1h-1zM557.7 188.6h1v1h-1zM552.8 187.5h1v1h-1zM555.8 176.6h1v1h-1zM554.3 187.3h1v1h-1zM554.0 189.4h1v1h-1zM556.8 182.2h1v1h-1zM556.4 177.6h1v1h-1zM557.4 176.8h1v1h-1zM555.1 180.4h1v1h-1zM558.0 173.6h1v1h-1zM557.9 187.6h1v1h-1zM554.7 175.1h1v1h-1zM556.8 177.7h1v1h-1zM555.1 185.7h1v1h-1zM556.7 174.4h1v1h-1zM553.1 173.3h1v1h-1zM554.9 183.3h1v1h-1zM556.8 185.3h1v1h-1zM554.6 185.5h1v1h-1zM555.6 187.0h1v1h-1zM555.4 182.7h1v1h-1zM557.5 187.4h1v1h-1zM555.8 184.4h1v1h-1zM555.0 179.7h1v1h-1zM554.7 187.4h1v1h-1zM554.1 182.6h1v1h-1zM555.9 182.0h1v1h-1zM552.0 188.8h1v1h-1zM554.3 173.5h1v1h-1zM552.2 176.0h1v1h-1zM553.7 189.5h1v1h-1zM555.5 175.3h1v1h-1zM556.7 172.2h1v1h-1zM552.5 170.4h1v1h-1zM552.6 172.9h1v1h-1zM557.2 182.9h1v1h-1zM555.5 171.5h1v1h-1zM556.6 177.8h1v1h-1zM551.8 172.1h1v1h-1zM557.7 169.2h1v1h-1zM557.2 174.6h1v1h-1zM553.6 169.9h1v1h-1zM555.3 183.8h1v1h-1zM552.9 186.7h1v1h-1zM558.5 177.6h1v1h-1zM553.5 179.8h1v1h-1zM552.9 178.4h1v1h-1zM558.0 175.3h1v1h-1zM556.9 179.6h1v1h-1zM556.3 190.6h1v1h-1zM551.2 177.2h1v1h-1zM552.8 177.6h1v1h-1zM557.0 191.5h1v1h-1zM554.3 173.8h1v1h-1zM560.2 171.2h1v1h-1zM555.4 179.0h1v1h-1zM554.0 179.3h1v1h-1zM554.5 184.4h1v1h-1zM554.6 169.5h1v1h-1zM552.1 182.0h1v1h-1zM557.8 169.0h1v1h-1zM552.2 177.1h1v1h-1zM554.9 176.7h1v1h-1zM550.5 175.2h1v1h-1zM556.6 170.1h1v1h-1zM552.5 176.0h1v1h-1zM557.0 187.4h1v1h-1zM554.3 180.9h1v1h-1zM553.5 171.7h1v1h-1zM556.2 188.1h1v1h-1zM555.7 172.3h1v1h-1zM555.6 176.7h1v1h-1zM554.7 173.1h1v1h-1zM553.3 191.0h1v1h-1zM554.3 176.6h1v1h-1zM553.8 180.2h1v1h-1zM558.0 173.4h1v1h-1zM552.5 173.0h1v1h-1zM555.1 183.0h1v1h-1zM554.4 182.3h1v1h-1zM555.3 170.2h1v1h-1zM555.4 170.7h1v1h-1zM557.1 184.9h1v1h-1zM555.0 186.1h1v1h-1zM555.0 182.5h1v1h-1zM555.9 176.3h1v1h-1zM554.9 169.1h1v1h-1zM558.6 174.1h1v1h-1zM557.9 184.8h1v1h-1zM556.0 180.6h1v1h-1zM557.3 173.7h1v1h-1zM554.8 182.3h1v1h-1zM555.8 178.4h1v1h-1zM555.9 181.6h1v1h-1zM554.3 168.2h1v1h-1zM554.7 178.2h1v1h-1zM551.9 185.9h1v1h-1zM551.5 189.5h1v1h-1zM554.9 176.2h1v1h-1zM549.2 182.0h1v1h-1zM555.6 174.4h1v1h-1zM557.1 176.9h1v1h-1zM557.1 176.9h1v1h-1zM557.8 180.9h1v1h-1zM551.1 186.4h1v1h-1zM559.4 170.1h1v1h-1zM555.2 186.4h1v1h-1zM554.6 172.5h1v1h-1zM554.4 185.9h1v1h-1zM555.7 179.2h1v1h-1zM549.4 169.4h1v1h-1zM555.3 171.7h1v1h-1zM557.7 168.6h1v1h-1zM555.2 174.6h1v1h-1zM551.4 183.5h1v1h-1zM551.5 174.9h1v1h-1zM555.9 173.0h1v1h-1zM558.4 186.8h1v1h-1zM555.5 173.6h1v1h-1zM553.9 169.7h1v1h-1zM555.7 168.8h1v1h-1zM552.2 177.1h1v1h-1zM556.3 186.5h1v1h-1zM554.9 184.4h1v1h-1zM557.4 177.4h1v1h-1zM552.9 193.9h1v1h-1zM555.5 182.7h1v1h-1zM556.8 177.6h1v1h-1zM555.3 185.1h1v1h-1zM556.0 185.2h1v1h-1zM559.6 167.4h1v1h-1zM556.6 188.5h1v1h-1zM554.8 177.8h1v1h-1zM555.1 173.9h1v1h-1zM553.1 188.2h1v1h-1zM556.7 176.8h1v1h-1zM552.6 186.3h1v1h-1zM555.1 170.7h1v1h-1zM553.1 172.9h1v1h-1zM555.4 176.4h1v1h-1zM557.4 182.5h1v1h-1zM553.0 175.5h1v1h-1zM556.8 170.9h1v1h-1zM556.0 178.3h1v1h-1zM552.9 185.7h1v1h-1zM556.4 186.6h1v1h-1zM557.7 172.1h1v1h-1zM556.7 184.3h1v1h-1zM552.3 168.5h1v1h-1zM551.0 181.6h1v1h-1zM557.9 181.7h1v1h-1zM552.5 183.2h1v1h-1zM552.2 192.1h1v1h-1zM552.8 179.9h1v1h-1zM554.7 167.9h1v1h-1zM560.8 183.3h1v1h-1zM554.8 178.6h1v1h-1zM551.6 182.5h1v1h-1zM554.1 190.1h1v1h-1zM558.6 173.2h1v1h-1zM554.5 174.1h1v1h-1zM553.9 166.8h1v1h-1zM558.0 169.4h1v1h-1zM552.9 188.4h1v1h-1zM556.7 171.3h1v1h-1zM529.9 207.4h1v1h-1zM541.0 209.6h1v1h-1zM532.5 212.8h1v1h-1zM536.0 209.3h1v1h-1zM546.3 200.5h1v1h-1zM539.6 202.2h1v1h-1zM536.0 208.1h1v1h-1zM534.2 209.0h1v1h-1zM538.7 208.7h1v1h-1zM537.6 200.1h1v1h-1zM535.5 203.9h1v1h-1zM538.4 211.3h1v1h-1zM535.9 204.7h1v1h-1zM538.2 207.1h1v1h-1zM531.2 214.7h1v1h-1zM536.6 208.8h1v1h-1zM540.5 204.7h1v1h-1zM533.2 207.9h1v1h-1zM533.6 217.1h1v1h-1zM537.5 210.9h1v1h-1zM538.9 204.4h1v1h-1zM539.8 205.8h1v1h-1zM536.6 206.5h1v1h-1zM540.6 210.5h1v1h-1zM537.7 205.0h1v1h-1zM535.8 213.2h1v1h-1zM535.5 207.0h1v1h-1zM542.3 206.4h1v1h-1zM530.1 212.0h1v1h-1zM544.0 209.9h1v1h-1zM532.4 208.7h1v1h-1zM542.2 207.5h1v1h-1zM536.4 215.7h1v1h-1zM538.1 211.4h1v1h-1zM533.0 202.8h1v1h-1zM545.8 204.4h1v1h-1zM529.9 214.5h1v1h-1zM545.8 209.6h1v1h-1zM535.0 215.2h1v1h-1zM532.4 211.6h1v1h-1zM539.2 209.3h1v1h-1zM532.9 207.8h1v1h-1zM539.9 203.3h1v1h-1zM543.1 211.7h1v1h-1zM540.2 204.2h1v1h-1zM540.5 202.4h1v1h-1zM536.0 208.0h1v1h-1zM541.2 207.1h1v1h-1zM531.8 213.3h1v1h-1zM530.0 212.2h1v1h-1zM535.7 204.9h1v1h-1zM534.7 213.0h1v1h-1zM544.1 210.1h1v1h-1zM543.4 215.1h1v1h-1zM542.2 202.1h1v1h-1zM546.3 205.7h1v1h-1zM538.0 204.1h1v1h-1zM539.2 203.5h1v1h-1zM544.6 208.8h1v1h-1zM538.4 206.4h1v1h-1zM540.0 203.0h1v1h-1zM535.9 204.2h1v1h-1zM537.7 207.7h1v1h-1zM536.7 210.2h1v1h-1zM529.5 213.4h1v1h-1zM541.7 210.4h1v1h-1zM530.5 213.9h1v1h-1zM532.9 208.7h1v1h-1zM528.5 214.9h1v1h-1zM530.8 211.6h1v1h-1zM540.8 204.1h1v1h-1zM531.8 209.8h1v1h-1zM538.3 211.0h1v1h-1zM530.9 210.3h1v1h-1zM533.1 211.7h1v1h-1zM537.9 202.9h1v1h-1zM535.7 211.0h1v1h-1zM535.9 208.2h1v1h-1zM542.4 206.1h1v1h-1zM531.1 213.1h1v1h-1zM535.2 205.4h1v1h-1zM541.4 202.5h1v1h-1zM534.5 208.5h1v1h-1zM543.2 199.3h1v1h-1zM538.8 211.8h1v1h-1zM536.6 203.9h1v1h-1zM537.0 202.6h1v1h-1zM537.0 204.5h1v1h-1zM530.8 211.7h1v1h-1zM538.6 207.1h1v1h-1zM533.5 209.5h1v1h-1zM533.4 206.7h1v1h-1zM541.0 201.8h1v1h-1zM527.4 212.3h1v1h-1zM541.4 212.8h1v1h-1zM537.6 199.6h1v1h-1zM532.8 214.7h1v1h-1zM539.9 209.3h1v1h-1zM538.4 206.1h1v1h-1zM532.5 211.1h1v1h-1zM541.8 209.2h1v1h-1zM535.9 210.5h1v1h-1zM535.6 210.6h1v1h-1zM535.5 208.9h1v1h-1zM533.5 209.3h1v1h-1zM534.1 211.4h1v1h-1zM531.4 210.2h1v1h-1zM537.6 208.2h1v1h-1zM544.5 200.2h1v1h-1zM528.8 214.5h1v1h-1zM544.4 202.1h1v1h-1zM541.0 202.0h1v1h-1zM536.9 207.4h1v1h-1zM536.3 205.3h1v1h-1zM529.4 220.0h1v1h-1zM529.3 207.0h1v1h-1zM537.9 210.7h1v1h-1zM534.0 212.6h1v1h-1zM545.4 207.7h1v1h-1zM537.6 203.1h1v1h-1zM540.2 209.4h1v1h-1zM538.8 204.4h1v1h-1zM528.3 205.8h1v1h-1zM540.8 204.0h1v1h-1zM534.2 204.9h1v1h-1zM536.7 207.7h1v1h-1zM542.2 203.7h1v1h-1zM533.4 208.3h1v1h-1zM531.4 210.9h1v1h-1zM544.5 203.3h1v1h-1zM537.2 208.7h1v1h-1zM541.0 209.8h1v1h-1zM531.9 208.3h1v1h-1zM531.2 212.2h1v1h-1zM530.8 210.1h1v1h-1zM529.4 210.0h1v1h-1zM533.9 212.6h1v1h-1zM543.2 201.1h1v1h-1zM540.6 200.3h1v1h-1zM541.1 204.0h1v1h-1zM538.5 206.8h1v1h-1zM537.3 202.8h1v1h-1zM536.5 211.8h1v1h-1zM533.1 207.3h1v1h-1zM538.8 204.3h1v1h-1zM531.7 213.9h1v1h-1zM538.8 206.0h1v1h-1zM536.3 200.2h1v1h-1zM548.9 211.5h1v1h-1zM535.6 211.6h1v1h-1zM533.2 208.2h1v1h-1zM536.7 213.5h1v1h-1zM541.2 203.7h1v1h-1zM538.4 212.9h1v1h-1zM530.5 217.0h1v1h-1zM536.9 214.8h1v1h-1zM539.1 206.0h1v1h-1zM530.5 213.0h1v1h-1zM542.1 203.8h1v1h-1zM542.9 206.9h1v1h-1zM531.7 212.7h1v1h-1zM534.1 209.4h1v1h-1zM536.5 203.8h1v1h-1zM538.2 210.6h1v1h-1zM535.3 209.7h1v1h-1zM533.0 207.5h1v1h-1zM537.0 202.6h1v1h-1zM534.5 209.4h1v1h-1zM534.4 212.8h1v1h-1zM539.8 207.5h1v1h-1zM537.6 205.9h1v1h-1zM542.5 203.2h1v1h-1zM536.8 202.8h1v1h-1zM529.7 215.2h1v1h-1zM532.2 211.1h1v1h-1zM534.1 212.3h1v1h-1zM539.8 202.5h1v1h-1zM535.0 210.3h1v1h-1zM540.0 204.3h1v1h-1zM536.0 202.9h1v1h-1zM531.5 215.3h1v1h-1zM542.9 206.4h1v1h-1zM539.8 204.2h1v1h-1zM531.9 210.6h1v1h-1zM531.7 213.2h1v1h-1zM544.8 209.6h1v1h-1zM539.5 204.2h1v1h-1zM545.0 205.0h1v1h-1zM535.2 212.0h1v1h-1zM538.9 203.0h1v1h-1zM537.3 208.6h1v1h-1zM537.2 208.7h1v1h-1zM534.7 215.6h1v1h-1zM540.3 205.4h1v1h-1zM539.6 209.3h1v1h-1zM535.9 209.3h1v1h-1zM541.4 205.2h1v1h-1zM532.8 207.2h1v1h-1zM531.9 214.5h1v1h-1zM537.7 207.6h1v1h-1zM537.2 206.9h1v1h-1zM531.6 206.4h1v1h-1zM531.9 207.4h1v1h-1zM530.2 207.8h1v1h-1zM545.7 202.2h1v1h-1zM540.9 181.2h1v1h-1zM534.4 184.9h1v1h-1zM545.8 181.4h1v1h-1zM529.2 188.4h1v1h-1zM546.3 179.8h1v1h-1zM546.4 181.6h1v1h-1zM532.1 186.6h1v1h-1zM545.8 180.0h1v1h-1zM535.3 192.7h1v1h-1zM541.9 183.2h1v1h-1zM549.1 186.7h1v1h-1zM530.2 194.8h1v1h-1zM545.8 181.2h1v1h-1zM534.5 183.8h1v1h-1zM550.5 191.6h1v1h-1zM532.4 193.1h1v1h-1zM548.4 180.7h1v1h-1zM535.8 179.7h1v1h-1zM544.5 179.1h1v1h-1zM549.1 182.3h1v1h-1zM539.4 182.6h1v1h-1zM546.2 195.3h1v1h-1zM536.6 192.3h1v1h-1zM551.0 195.0h1v1h-1zM532.0 194.7h1v1h-1zM543.4 177.8h1v1h-1zM533.9 183.8h1v1h-1zM528.0 189.5h1v1h-1zM532.8 182.8h1v1h-1zM531.6 189.2h1v1h-1zM538.9 189.4h1v1h-1zM535.3 184.8h1v1h-1zM546.5 184.5h1v1h-1zM541.0 187.2h1v1h-1zM531.4 185.2h1v1h-1zM539.7 187.9h1v1h-1zM538.7 183.1h1v1h-1zM545.5 195.1h1v1h-1zM535.2 177.2h1v1h-1zM541.0 183.8h1v1h-1zM549.7 191.0h1v1h-1zM548.3 179.3h1v1h-1zM547.8 176.2h1v1h-1zM539.7 176.6h1v1h-1zM533.6 176.6h1v1h-1zM544.9 194.6h1v1h-1zM535.1 186.7h1v1h-1zM528.9 183.3h1v1h-1zM546.3 181.1h1v1h-1zM529.5 178.1h1v1h-1zM550.4 182.2h1v1h-1zM534.1 181.0h1v1h-1zM536.5 189.1h1v1h-1zM528.6 178.6h1v1h-1zM544.3 183.9h1v1h-1zM546.0 188.0h1v1h-1zM538.9 189.3h1v1h-1zM546.4 177.5h1v1h-1zM547.3 192.7h1v1h-1zM544.5 183.0h1v1h-1zM544.5 184.7h1v1h-1zM532.6 182.9h1v1h-1zM532.4 176.6h1v1h-1zM529.5 183.5h1v1h-1zM538.6 185.7h1v1h-1zM531.4 187.3h1v1h-1zM550.0 181.2h1v1h-1zM541.0 194.8h1v1h-1zM533.2 185.1h1v1h-1zM528.2 185.4h1v1h-1zM549.7 193.7h1v1h-1zM536.3 192.4h1v1h-1zM551.8 190.8h1v1h-1zM533.5 187.2h1v1h-1zM537.0 177.4h1v1h-1zM549.9 193.9h1v1h-1zM539.8 195.9h1v1h-1zM530.3 186.4h1v1h-1zM531.8 193.6h1v1h-1zM532.1 186.5h1v1h-1zM545.1 189.9h1v1h-1zM551.3 192.3h1v1h-1zM537.5 194.8h1v1h-1zM546.2 178.6h1v1h-1zM534.0 182.4h1v1h-1zM548.9 179.1h1v1h-1zM546.5 179.3h1v1h-1zM551.1 195.9h1v1h-1zM549.3 184.4h1v1h-1zM541.4 186.9h1v1h-1zM548.3 182.6h1v1h-1zM549.4 185.4h1v1h-1zM552.8 174.7h1v1h-1zM550.4 188.7h1v1h-1zM553.5 183.8h1v1h-1zM548.3 190.4h1v1h-1zM552.1 187.5h1v1h-1zM552.3 179.5h1v1h-1zM547.9 182.7h1v1h-1zM554.7 189.3h1v1h-1zM549.6 181.6h1v1h-1zM552.0 180.7h1v1h-1zM552.2 181.2h1v1h-1zM544.1 177.4h1v1h-1zM549.6 184.7h1v1h-1zM544.9 179.1h1v1h-1zM552.3 186.9h1v1h-1zM556.2 177.5h1v1h-1zM550.6 180.0h1v1h-1zM548.4 181.2h1v1h-1zM552.2 180.3h1v1h-1zM556.9 188.3h1v1h-1zM544.9 186.8h1v1h-1zM552.4 185.5h1v1h-1zM550.5 187.0h1v1h-1zM554.6 185.0h1v1h-1zM553.7 185.1h1v1h-1zM550.4 186.7h1v1h-1zM549.7 182.1h1v1h-1zM554.6 182.8h1v1h-1zM551.2 187.7h1v1h-1zM551.6 184.3h1v1h-1zM553.6 176.6h1v1h-1zM551.2 176.6h1v1h-1zM546.4 178.2h1v1h-1zM551.8 189.7h1v1h-1zM549.8 187.1h1v1h-1zM549.8 189.9h1v1h-1zM548.4 185.5h1v1h-1zM547.3 192.9h1v1h-1zM556.6 192.7h1v1h-1zM546.1 181.8h1v1h-1zM540.0 184.9h1v1h-1zM552.7 187.0h1v1h-1zM546.8 181.1h1v1h-1zM549.8 189.3h1v1h-1zM548.8 189.3h1v1h-1zM553.7 191.8h1v1h-1zM549.8 183.2h1v1h-1zM550.9 190.6h1v1h-1zM551.3 187.3h1v1h-1zM545.2 185.2h1v1h-1zM553.1 192.0h1v1h-1zM550.2 184.7h1v1h-1zM555.3 188.9h1v1h-1zM544.0 181.4h1v1h-1zM549.2 176.7h1v1h-1zM555.9 184.1h1v1h-1zM553.4 186.6h1v1h-1zM556.5 190.1h1v1h-1zM552.1 178.6h1v1h-1zM550.8 185.1h1v1h-1zM552.1 177.7h1v1h-1zM550.6 189.2h1v1h-1zM558.8 190.5h1v1h-1zM553.3 179.9h1v1h-1zM550.5 190.2h1v1h-1zM550.8 191.5h1v1h-1zM554.9 190.5h1v1h-1zM546.9 178.5h1v1h-1zM553.7 193.2h1v1h-1zM547.2 185.3h1v1h-1zM553.0 179.4h1v1h-1zM549.5 187.4h1v1h-1zM549.0 188.0h1v1h-1zM549.0 182.4h1v1h-1zM544.8 181.2h1v1h-1zM557.7 175.8h1v1h-1zM560.8 191.1h1v1h-1zM554.8 188.8h1v1h-1zM549.4 191.5h1v1h-1zM547.3 184.8h1v1h-1zM547.6 182.2h1v1h-1zM551.4 190.5h1v1h-1zM554.0 186.2h1v1h-1zM552.3 181.4h1v1h-1zM551.3 177.5h1v1h-1zM549.3 180.8h1v1h-1zM557.7 187.0h1v1h-1zM552.6 192.1h1v1h-1zM554.6 185.1h1v1h-1zM551.3 193.8h1v1h-1zM545.1 180.7h1v1h-1zM544.9 178.8h1v1h-1zM552.9 186.0h1v1h-1zM546.4 184.2h1v1h-1zM553.7 188.1h1v1h-1zM546.4 184.5h1v1h-1zM549.3 178.3h1v1h-1zM547.1 192.1h1v1h-1z" fill="#5a5a5a" fill-opacity="0.7"/>
</g>
<rect x="526.5" y="141.5" width="106" height="83" fill="none" stroke="#3a3a3a" stroke-width="1.1"/>
<line x1="559.5" y1="141.5" x2="559.5" y2="224.5" stroke="#606060" stroke-width="1.2"/>
<line x1="526.5" y1="196.5" x2="632.5" y2="196.5" stroke="#606060" stroke-width="1.2"/>
<line x1="526.5" y1="224.5" x2="526.5" y2="226.5" stroke="#333" stroke-width="0.7"/>
<line x1="524.5" y1="224.5" x2="526.5" y2="224.5" stroke="#333" stroke-width="0.7"/>
<line x1="534.5" y1="224.5" x2="534.5" y2="225.7" stroke="#555" stroke-width="0.5"/>
<line x1="525.3" y1="218.3" x2="526.5" y2="218.3" stroke="#555" stroke-width="0.5"/>
<line x1="539.1" y1="224.5" x2="539.1" y2="225.7" stroke="#555" stroke-width="0.5"/>
<line x1="525.3" y1="214.6" x2="526.5" y2="214.6" stroke="#555" stroke-width="0.5"/>
<line x1="542.5" y1="224.5" x2="542.5" y2="225.7" stroke="#555" stroke-width="0.5"/>
<line x1="525.3" y1="212" x2="526.5" y2="212" stroke="#555" stroke-width="0.5"/>
<line x1="545" y1="224.5" x2="545" y2="225.7" stroke="#555" stroke-width="0.5"/>
<line x1="525.3" y1="210" x2="526.5" y2="210" stroke="#555" stroke-width="0.5"/>
<line x1="547.1" y1="224.5" x2="547.1" y2="225.7" stroke="#555" stroke-width="0.5"/>
<line x1="525.3" y1="208.4" x2="526.5" y2="208.4" stroke="#555" stroke-width="0.5"/>
<line x1="548.9" y1="224.5" x2="548.9" y2="225.7" stroke="#555" stroke-width="0.5"/>
<line x1="525.3" y1="207" x2="526.5" y2="207" stroke="#555" stroke-width="0.5"/>
<line x1="550.4" y1="224.5" x2="550.4" y2="225.7" stroke="#555" stroke-width="0.5"/>
<line x1="525.3" y1="205.8" x2="526.5" y2="205.8" stroke="#555" stroke-width="0.5"/>
<line x1="551.8" y1="224.5" x2="551.8" y2="225.7" stroke="#555" stroke-width="0.5"/>
<line x1="525.3" y1="204.7" x2="526.5" y2="204.7" stroke="#555" stroke-width="0.5"/>
<text x="525.3" y="234.7" font-size="6.4" fill="#333" text-anchor="middle">10<tspan dy="-3.3" font-size="5.2">0</tspan></text>
<text transform="rotate(-90 521.9 225.7)" x="521.9" y="225.7" font-size="6.4" fill="#333" text-anchor="middle">10<tspan dy="-3.3" font-size="5.2">0</tspan></text>
<line x1="553" y1="224.5" x2="553" y2="226.5" stroke="#333" stroke-width="0.7"/>
<line x1="524.5" y1="203.8" x2="526.5" y2="203.8" stroke="#333" stroke-width="0.7"/>
<line x1="561" y1="224.5" x2="561" y2="225.7" stroke="#555" stroke-width="0.5"/>
<line x1="525.3" y1="197.5" x2="526.5" y2="197.5" stroke="#555" stroke-width="0.5"/>
<line x1="565.6" y1="224.5" x2="565.6" y2="225.7" stroke="#555" stroke-width="0.5"/>
<line x1="525.3" y1="193.8" x2="526.5" y2="193.8" stroke="#555" stroke-width="0.5"/>
<line x1="569" y1="224.5" x2="569" y2="225.7" stroke="#555" stroke-width="0.5"/>
<line x1="525.3" y1="191.3" x2="526.5" y2="191.3" stroke="#555" stroke-width="0.5"/>
<line x1="571.5" y1="224.5" x2="571.5" y2="225.7" stroke="#555" stroke-width="0.5"/>
<line x1="525.3" y1="189.2" x2="526.5" y2="189.2" stroke="#555" stroke-width="0.5"/>
<line x1="573.6" y1="224.5" x2="573.6" y2="225.7" stroke="#555" stroke-width="0.5"/>
<line x1="525.3" y1="187.6" x2="526.5" y2="187.6" stroke="#555" stroke-width="0.5"/>
<line x1="575.4" y1="224.5" x2="575.4" y2="225.7" stroke="#555" stroke-width="0.5"/>
<line x1="525.3" y1="186.2" x2="526.5" y2="186.2" stroke="#555" stroke-width="0.5"/>
<line x1="576.9" y1="224.5" x2="576.9" y2="225.7" stroke="#555" stroke-width="0.5"/>
<line x1="525.3" y1="185" x2="526.5" y2="185" stroke="#555" stroke-width="0.5"/>
<line x1="578.3" y1="224.5" x2="578.3" y2="225.7" stroke="#555" stroke-width="0.5"/>
<line x1="525.3" y1="183.9" x2="526.5" y2="183.9" stroke="#555" stroke-width="0.5"/>
<text x="551.8" y="234.7" font-size="6.4" fill="#333" text-anchor="middle">10<tspan dy="-3.3" font-size="5.2">1</tspan></text>
<text transform="rotate(-90 521.9 204.9)" x="521.9" y="204.9" font-size="6.4" fill="#333" text-anchor="middle">10<tspan dy="-3.3" font-size="5.2">1</tspan></text>
<line x1="579.5" y1="224.5" x2="579.5" y2="226.5" stroke="#333" stroke-width="0.7"/>
<line x1="524.5" y1="183" x2="526.5" y2="183" stroke="#333" stroke-width="0.7"/>
<line x1="587.5" y1="224.5" x2="587.5" y2="225.7" stroke="#555" stroke-width="0.5"/>
<line x1="525.3" y1="176.8" x2="526.5" y2="176.8" stroke="#555" stroke-width="0.5"/>
<line x1="592.1" y1="224.5" x2="592.1" y2="225.7" stroke="#555" stroke-width="0.5"/>
<line x1="525.3" y1="173.1" x2="526.5" y2="173.1" stroke="#555" stroke-width="0.5"/>
<line x1="595.5" y1="224.5" x2="595.5" y2="225.7" stroke="#555" stroke-width="0.5"/>
<line x1="525.3" y1="170.5" x2="526.5" y2="170.5" stroke="#555" stroke-width="0.5"/>
<line x1="598" y1="224.5" x2="598" y2="225.7" stroke="#555" stroke-width="0.5"/>
<line x1="525.3" y1="168.5" x2="526.5" y2="168.5" stroke="#555" stroke-width="0.5"/>
<line x1="600.1" y1="224.5" x2="600.1" y2="225.7" stroke="#555" stroke-width="0.5"/>
<line x1="525.3" y1="166.9" x2="526.5" y2="166.9" stroke="#555" stroke-width="0.5"/>
<line x1="601.9" y1="224.5" x2="601.9" y2="225.7" stroke="#555" stroke-width="0.5"/>
<line x1="525.3" y1="165.5" x2="526.5" y2="165.5" stroke="#555" stroke-width="0.5"/>
<line x1="603.4" y1="224.5" x2="603.4" y2="225.7" stroke="#555" stroke-width="0.5"/>
<line x1="525.3" y1="164.3" x2="526.5" y2="164.3" stroke="#555" stroke-width="0.5"/>
<line x1="604.8" y1="224.5" x2="604.8" y2="225.7" stroke="#555" stroke-width="0.5"/>
<line x1="525.3" y1="163.2" x2="526.5" y2="163.2" stroke="#555" stroke-width="0.5"/>
<text x="578.3" y="234.7" font-size="6.4" fill="#333" text-anchor="middle">10<tspan dy="-3.3" font-size="5.2">2</tspan></text>
<text transform="rotate(-90 521.9 184.2)" x="521.9" y="184.2" font-size="6.4" fill="#333" text-anchor="middle">10<tspan dy="-3.3" font-size="5.2">2</tspan></text>
<line x1="606" y1="224.5" x2="606" y2="226.5" stroke="#333" stroke-width="0.7"/>
<line x1="524.5" y1="162.2" x2="526.5" y2="162.2" stroke="#333" stroke-width="0.7"/>
<line x1="614" y1="224.5" x2="614" y2="225.7" stroke="#555" stroke-width="0.5"/>
<line x1="525.3" y1="156" x2="526.5" y2="156" stroke="#555" stroke-width="0.5"/>
<line x1="618.6" y1="224.5" x2="618.6" y2="225.7" stroke="#555" stroke-width="0.5"/>
<line x1="525.3" y1="152.3" x2="526.5" y2="152.3" stroke="#555" stroke-width="0.5"/>
<line x1="622" y1="224.5" x2="622" y2="225.7" stroke="#555" stroke-width="0.5"/>
<line x1="525.3" y1="149.8" x2="526.5" y2="149.8" stroke="#555" stroke-width="0.5"/>
<line x1="624.5" y1="224.5" x2="624.5" y2="225.7" stroke="#555" stroke-width="0.5"/>
<line x1="525.3" y1="147.7" x2="526.5" y2="147.7" stroke="#555" stroke-width="0.5"/>
<line x1="626.6" y1="224.5" x2="626.6" y2="225.7" stroke="#555" stroke-width="0.5"/>
<line x1="525.3" y1="146.1" x2="526.5" y2="146.1" stroke="#555" stroke-width="0.5"/>
<line x1="628.4" y1="224.5" x2="628.4" y2="225.7" stroke="#555" stroke-width="0.5"/>
<line x1="525.3" y1="144.7" x2="526.5" y2="144.7" stroke="#555" stroke-width="0.5"/>
<line x1="629.9" y1="224.5" x2="629.9" y2="225.7" stroke="#555" stroke-width="0.5"/>
<line x1="525.3" y1="143.5" x2="526.5" y2="143.5" stroke="#555" stroke-width="0.5"/>
<line x1="631.3" y1="224.5" x2="631.3" y2="225.7" stroke="#555" stroke-width="0.5"/>
<line x1="525.3" y1="142.4" x2="526.5" y2="142.4" stroke="#555" stroke-width="0.5"/>
<text x="604.8" y="234.7" font-size="6.4" fill="#333" text-anchor="middle">10<tspan dy="-3.3" font-size="5.2">3</tspan></text>
<text transform="rotate(-90 521.9 163.4)" x="521.9" y="163.4" font-size="6.4" fill="#333" text-anchor="middle">10<tspan dy="-3.3" font-size="5.2">3</tspan></text>
<line x1="632.5" y1="224.5" x2="632.5" y2="226.5" stroke="#333" stroke-width="0.7"/>
<line x1="524.5" y1="141.5" x2="526.5" y2="141.5" stroke="#333" stroke-width="0.7"/>
<text x="631.3" y="234.7" font-size="6.4" fill="#333" text-anchor="middle">10<tspan dy="-3.3" font-size="5.2">4</tspan></text>
<text transform="rotate(-90 521.9 142.7)" x="521.9" y="142.7" font-size="6.4" fill="#333" text-anchor="middle">10<tspan dy="-3.3" font-size="5.2">4</tspan></text>
<text x="578.5" y="241.5" font-size="6" font-weight="normal" text-anchor="middle" fill="#333" >FL1-H</text>
<text x="513" y="183" font-size="6" font-weight="normal" text-anchor="middle" fill="#333" transform="rotate(-90 513 183)">FL3-H</text>
<line x1="390.5" y1="285.6" x2="390.5" y2="469.4" stroke="#000" stroke-width="1.4"/>
<line x1="390.3" y1="468.7" x2="646.5" y2="468.7" stroke="#000" stroke-width="1.4"/>
<line x1="388.3" y1="468.8" x2="391" y2="468.8" stroke="#000" stroke-width="1.3"/>
<text x="383" y="473.5" font-size="13.2" font-weight="bold" text-anchor="end" fill="#000" >0</text>
<line x1="388.3" y1="435.5" x2="391" y2="435.5" stroke="#000" stroke-width="1.3"/>
<text x="383" y="440.2" font-size="13.2" font-weight="bold" text-anchor="end" fill="#000" >20</text>
<line x1="388.3" y1="402.1" x2="391" y2="402.1" stroke="#000" stroke-width="1.3"/>
<text x="383" y="406.8" font-size="13.2" font-weight="bold" text-anchor="end" fill="#000" >40</text>
<line x1="388.3" y1="368.8" x2="391" y2="368.8" stroke="#000" stroke-width="1.3"/>
<text x="383" y="373.5" font-size="13.2" font-weight="bold" text-anchor="end" fill="#000" >60</text>
<line x1="388.3" y1="335.4" x2="391" y2="335.4" stroke="#000" stroke-width="1.3"/>
<text x="383" y="340.1" font-size="13.2" font-weight="bold" text-anchor="end" fill="#000" >80</text>
<line x1="388.3" y1="302.1" x2="391" y2="302.1" stroke="#000" stroke-width="1.3"/>
<text x="383" y="306.8" font-size="13.2" font-weight="bold" text-anchor="end" fill="#000" >100</text>
<text x="356" y="378.6" font-size="14.4" font-weight="bold" text-anchor="middle" fill="#000" transform="rotate(-90 356 378.6)">Annexin V / PI staining (%)</text>
<line x1="430.9" y1="468.8" x2="430.9" y2="472" stroke="#000" stroke-width="1.3"/>
<text x="431.5" y="486.8" font-size="14.5" font-weight="bold" text-anchor="middle" fill="#000" >0</text>
<line x1="435.7" y1="301.6" x2="435.7" y2="302.1" stroke="#000" stroke-width="1.2"/>
<line x1="432.7" y1="301.6" x2="438.7" y2="301.6" stroke="#000" stroke-width="1.3"/>
<rect x="432.5" y="302.1" width="6.4" height="166.7" fill="#626262" stroke="#000" stroke-width="1.2"/>
<rect x="441.5" y="468.3" width="6.4" height="0.5" fill="#fff" stroke="#000" stroke-width="1.2"/>
<line x1="488.9" y1="468.8" x2="488.9" y2="472" stroke="#000" stroke-width="1.3"/>
<text x="490.5" y="486.8" font-size="14.5" font-weight="bold" text-anchor="middle" fill="#000" >10</text>
<rect x="472.5" y="465.1" width="6.4" height="3.7" fill="#000" stroke="#000" stroke-width="1.2"/>
<line x1="484.7" y1="458.1" x2="484.7" y2="459.5" stroke="#000" stroke-width="1.2"/>
<line x1="481.7" y1="458.1" x2="487.7" y2="458.1" stroke="#000" stroke-width="1.3"/>
<rect x="481.5" y="459.5" width="6.4" height="9.3" fill="#c9c9c9" stroke="#000" stroke-width="1.2"/>
<line x1="493.7" y1="313.1" x2="493.7" y2="315.4" stroke="#000" stroke-width="1.2"/>
<line x1="490.7" y1="313.1" x2="496.7" y2="313.1" stroke="#000" stroke-width="1.3"/>
<rect x="490.5" y="315.4" width="6.4" height="153.4" fill="#626262" stroke="#000" stroke-width="1.2"/>
<rect x="499.5" y="468.1" width="6.4" height="0.7" fill="#fff" stroke="#000" stroke-width="1.2"/>
<line x1="546.9" y1="468.8" x2="546.9" y2="472" stroke="#000" stroke-width="1.3"/>
<text x="546.5" y="486.8" font-size="14.5" font-weight="bold" text-anchor="middle" fill="#000" >50</text>
<line x1="533.7" y1="456.3" x2="533.7" y2="459.1" stroke="#000" stroke-width="1.2"/>
<line x1="530.7" y1="456.3" x2="536.7" y2="456.3" stroke="#000" stroke-width="1.3"/>
<rect x="530.5" y="459.1" width="6.4" height="9.7" fill="#000" stroke="#000" stroke-width="1.2"/>
<line x1="542.7" y1="439" x2="542.7" y2="440.8" stroke="#000" stroke-width="1.2"/>
<line x1="539.7" y1="439" x2="545.7" y2="439" stroke="#000" stroke-width="1.3"/>
<rect x="539.5" y="440.8" width="6.4" height="28" fill="#c9c9c9" stroke="#000" stroke-width="1.2"/>
<line x1="551.7" y1="337.1" x2="551.7" y2="340.4" stroke="#000" stroke-width="1.2"/>
<line x1="548.7" y1="337.1" x2="554.7" y2="337.1" stroke="#000" stroke-width="1.3"/>
<rect x="548.5" y="340.4" width="6.4" height="128.4" fill="#626262" stroke="#000" stroke-width="1.2"/>
<rect x="557.5" y="468.1" width="6.4" height="0.7" fill="#fff" stroke="#000" stroke-width="1.2"/>
<line x1="604.6" y1="468.8" x2="604.6" y2="472" stroke="#000" stroke-width="1.3"/>
<text x="606.1" y="486.8" font-size="14.5" font-weight="bold" text-anchor="middle" fill="#000" >200</text>
<line x1="591.4" y1="338.1" x2="591.4" y2="341.3" stroke="#000" stroke-width="1.2"/>
<line x1="588.4" y1="338.1" x2="594.4" y2="338.1" stroke="#000" stroke-width="1.3"/>
<rect x="588.2" y="341.3" width="6.4" height="127.5" fill="#000" stroke="#000" stroke-width="1.2"/>
<line x1="600.4" y1="446.5" x2="600.4" y2="447.8" stroke="#000" stroke-width="1.2"/>
<line x1="597.4" y1="446.5" x2="603.4" y2="446.5" stroke="#000" stroke-width="1.3"/>
<rect x="597.2" y="447.8" width="6.4" height="21" fill="#c9c9c9" stroke="#000" stroke-width="1.2"/>
<line x1="609.4" y1="448" x2="609.4" y2="450.1" stroke="#000" stroke-width="1.2"/>
<line x1="606.4" y1="448" x2="612.4" y2="448" stroke="#000" stroke-width="1.3"/>
<rect x="606.2" y="450.1" width="6.4" height="18.7" fill="#626262" stroke="#000" stroke-width="1.2"/>
<rect x="615.2" y="468.1" width="6.4" height="0.7" fill="#fff" stroke="#000" stroke-width="1.2"/>
<line x1="410" y1="493.6" x2="624.5" y2="493.6" stroke="#000" stroke-width="1.3"/>
<text x="521.3" y="508.4" font-size="14.5" font-weight="bold" text-anchor="middle" fill="#000" >resveratrol (μM)</text>
<text x="485.2" y="452.7" font-size="10" font-weight="bold" text-anchor="middle" fill="#000" transform="skewX(-8) translate(63.07 0)">#</text>
<text x="543" y="434.9" font-size="10" font-weight="bold" text-anchor="middle" fill="#000" transform="skewX(-8) translate(60.57 0)">#</text>
<text x="600.8" y="440.8" font-size="10" font-weight="bold" text-anchor="middle" fill="#000" transform="skewX(-8) translate(61.40 0)">#</text>
<path d="M493.10 304.80L493.10 302.40M493.10 304.80L495.38 304.06M493.10 304.80L490.82 304.06M493.10 304.80L494.51 306.74M493.10 304.80L491.69 306.74" stroke="#000" stroke-width="1.2" stroke-linecap="butt" fill="none"/>
<path d="M551.00 329.00L551.00 326.60M551.00 329.00L553.28 328.26M551.00 329.00L548.72 328.26M551.00 329.00L552.41 330.94M551.00 329.00L549.59 330.94" stroke="#000" stroke-width="1.2" stroke-linecap="butt" fill="none"/>
<path d="M609.20 439.90L609.20 437.50M609.20 439.90L611.48 439.16M609.20 439.90L606.92 439.16M609.20 439.90L610.61 441.84M609.20 439.90L607.79 441.84" stroke="#000" stroke-width="1.2" stroke-linecap="butt" fill="none"/>
<rect x="613.6" y="276.6" width="17" height="5.6" fill="#000" stroke="#000" stroke-width="1.2"/>
<text x="637" y="283.2" font-size="10" font-weight="bold" text-anchor="start" fill="#000" >AV-/PI+</text>
<rect x="613.6" y="289.6" width="17" height="5.6" fill="#c9c9c9" stroke="#000" stroke-width="1.2"/>
<text x="637" y="296.2" font-size="10" font-weight="bold" text-anchor="start" fill="#000" >AV+/PI+</text>
<rect x="613.6" y="302.6" width="17" height="5.6" fill="#626262" stroke="#000" stroke-width="1.2"/>
<text x="637" y="309.2" font-size="10" font-weight="bold" text-anchor="start" fill="#000" >AV-/PI-</text>
<rect x="613.6" y="315.6" width="17" height="5.6" fill="#fff" stroke="#000" stroke-width="1.2"/>
<text x="637" y="322.2" font-size="10" font-weight="bold" text-anchor="start" fill="#000" >AV+/PI-</text>
</svg></body></html>
